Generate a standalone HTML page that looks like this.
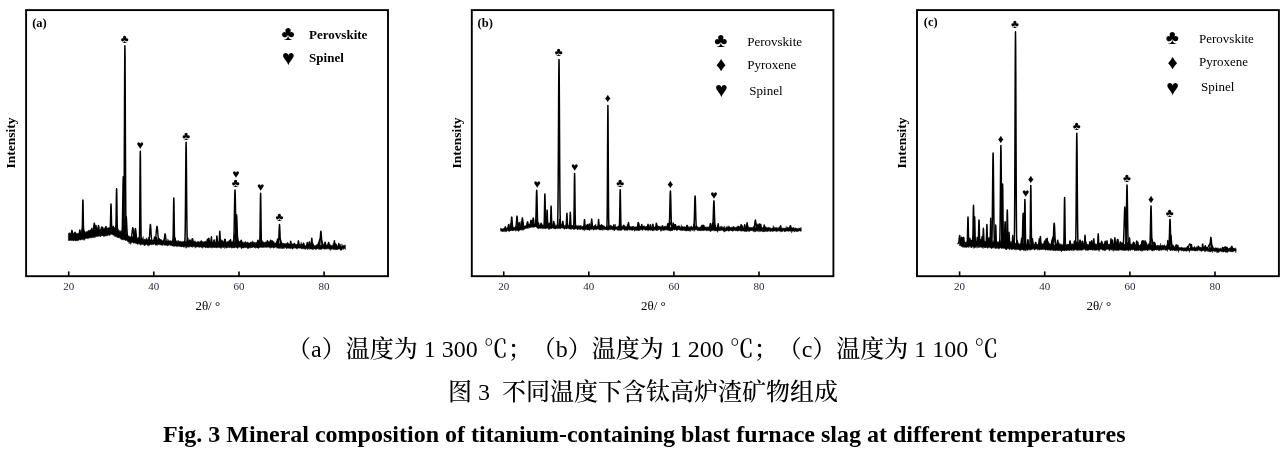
<!DOCTYPE html>
<html><head><meta charset="utf-8"><title>Fig. 3</title>
<style>
html,body{margin:0;padding:0;background:#fff;}
body{width:1287px;height:454px;position:relative;overflow:hidden;}
svg.main{position:absolute;left:0;top:0;}
svg text{font-family:"Liberation Serif","Noto Serif CJK SC",serif;}
.tick{font-size:11px;text-anchor:middle;fill:#2a2a3a;}
.plab{font-size:12.5px;font-weight:bold;}
.xt{font-size:13px;text-anchor:middle;}
.yt{font-size:13.5px;font-weight:bold;text-anchor:middle;}
.sym{text-anchor:middle;}
.lgb{font-size:13px;font-weight:bold;}
.lg{font-size:13px;}
.cap{text-spacing-trim:space-all;font-kerning:none;position:absolute;white-space:nowrap;font-family:"Liberation Serif","Noto Serif CJK SC",serif;color:#000;line-height:1;}
</style></head><body>
<svg class="main" width="1287" height="454" viewBox="0 0 1287 454">
<rect x="26.1" y="10.1" width="361.9" height="266.1" fill="none" stroke="#000" stroke-width="1.9"/>
<line x1="68.7" y1="276.2" x2="68.7" y2="271.4" stroke="#000" stroke-width="1.6"/>
<text x="68.7" y="290" class="tick">20</text>
<line x1="153.8" y1="276.2" x2="153.8" y2="271.4" stroke="#000" stroke-width="1.6"/>
<text x="153.8" y="290" class="tick">40</text>
<line x1="239.0" y1="276.2" x2="239.0" y2="271.4" stroke="#000" stroke-width="1.6"/>
<text x="239.0" y="290" class="tick">60</text>
<line x1="324.1" y1="276.2" x2="324.1" y2="271.4" stroke="#000" stroke-width="1.6"/>
<text x="324.1" y="290" class="tick">80</text>
<rect x="471.8" y="10.1" width="361.6" height="266.1" fill="none" stroke="#000" stroke-width="1.9"/>
<line x1="503.7" y1="276.2" x2="503.7" y2="271.4" stroke="#000" stroke-width="1.6"/>
<text x="503.7" y="290" class="tick">20</text>
<line x1="588.8" y1="276.2" x2="588.8" y2="271.4" stroke="#000" stroke-width="1.6"/>
<text x="588.8" y="290" class="tick">40</text>
<line x1="673.9" y1="276.2" x2="673.9" y2="271.4" stroke="#000" stroke-width="1.6"/>
<text x="673.9" y="290" class="tick">60</text>
<line x1="759.0" y1="276.2" x2="759.0" y2="271.4" stroke="#000" stroke-width="1.6"/>
<text x="759.0" y="290" class="tick">80</text>
<rect x="917.0" y="10.1" width="361.9" height="266.1" fill="none" stroke="#000" stroke-width="1.9"/>
<line x1="959.6" y1="276.2" x2="959.6" y2="271.4" stroke="#000" stroke-width="1.6"/>
<text x="959.6" y="290" class="tick">20</text>
<line x1="1044.7" y1="276.2" x2="1044.7" y2="271.4" stroke="#000" stroke-width="1.6"/>
<text x="1044.7" y="290" class="tick">40</text>
<line x1="1129.9" y1="276.2" x2="1129.9" y2="271.4" stroke="#000" stroke-width="1.6"/>
<text x="1129.9" y="290" class="tick">60</text>
<line x1="1215.0" y1="276.2" x2="1215.0" y2="271.4" stroke="#000" stroke-width="1.6"/>
<text x="1215.0" y="290" class="tick">80</text>
<polygon points="68.3,233.5 68.7,233.5 69.1,232.6 69.5,232.8 69.9,233.5 70.3,233.5 70.7,232.8 71.1,233.7 71.5,233.6 71.9,233.0 72.3,233.2 72.7,233.1 73.1,233.3 73.5,232.7 73.9,233.3 74.3,233.2 74.7,233.1 75.1,232.7 75.5,233.8 75.9,233.8 76.3,232.9 76.7,233.6 77.1,233.9 77.5,232.9 77.9,233.8 78.3,233.7 78.7,233.1 79.1,233.2 79.5,232.2 79.9,232.6 80.3,233.0 80.7,231.7 81.1,232.6 81.5,231.9 81.9,232.7 82.3,232.4 82.7,232.7 83.1,232.2 83.5,232.2 83.9,232.7 84.3,231.6 84.7,231.6 85.1,232.6 85.5,232.3 85.9,231.4 86.3,232.3 86.7,231.2 87.1,231.8 87.5,231.9 87.9,230.6 88.3,230.4 88.7,230.7 89.1,229.9 89.5,231.2 89.9,230.6 90.3,231.3 90.7,230.4 91.1,230.4 91.5,230.3 91.9,231.1 92.3,230.7 92.7,230.4 93.1,230.1 93.5,230.9 93.9,230.1 94.3,229.7 94.7,229.8 95.1,230.0 95.5,230.0 95.9,229.2 96.3,230.2 96.7,229.7 97.1,228.9 97.5,229.1 97.9,229.9 98.3,228.7 98.7,227.0 99.1,229.4 99.5,229.5 99.9,229.9 100.3,229.4 100.7,228.7 101.1,229.8 101.5,229.4 101.9,228.7 102.3,228.1 102.7,229.0 103.1,228.7 103.5,229.1 103.9,227.9 104.3,228.4 104.7,228.4 105.1,227.1 105.5,229.0 105.9,226.4 106.3,227.7 106.7,227.9 107.1,228.5 107.5,228.1 107.9,227.6 108.3,228.3 108.7,227.4 109.1,228.1 109.5,228.1 109.9,227.1 110.3,227.8 110.7,227.8 111.1,227.1 111.5,227.9 111.9,228.0 112.3,227.7 112.7,227.3 113.1,228.1 113.5,227.6 113.9,228.0 114.3,228.7 114.7,227.0 115.1,228.5 115.5,229.4 115.9,229.4 116.3,229.6 116.7,230.6 117.1,231.0 117.5,231.2 117.9,230.7 118.3,231.3 118.7,231.6 119.1,230.8 119.5,230.4 119.9,231.9 120.3,230.5 120.7,231.8 121.1,232.3 121.5,232.1 121.9,232.7 122.3,232.4 122.7,232.9 123.1,232.8 123.5,233.3 123.9,233.2 124.3,233.7 124.7,234.0 125.1,233.8 125.5,234.9 125.9,234.9 126.3,234.5 126.7,234.2 127.1,235.4 127.5,234.8 127.9,235.2 128.3,235.6 128.7,236.6 129.1,235.9 129.5,236.3 129.9,236.9 130.3,237.1 130.7,236.5 131.1,237.0 131.5,236.9 131.9,237.0 132.3,236.3 132.7,236.5 133.1,237.5 133.5,237.4 133.9,236.8 134.3,237.6 134.7,237.7 135.1,237.3 135.5,237.8 135.9,237.8 136.3,237.8 136.7,238.3 137.1,237.8 137.5,238.5 137.9,237.8 138.3,237.7 138.7,237.1 139.1,238.0 139.5,237.6 139.9,238.8 140.3,237.9 140.7,238.1 141.1,239.0 141.5,238.3 141.9,238.9 142.3,238.7 142.7,238.3 143.1,236.4 143.5,239.0 143.9,239.8 144.3,239.0 144.7,239.3 145.1,239.4 145.5,239.0 145.9,239.3 146.3,238.7 146.7,237.8 147.1,239.7 147.5,239.5 147.9,239.5 148.3,237.1 148.7,238.9 149.1,239.4 149.5,240.0 149.9,239.5 150.3,239.5 150.7,240.1 151.1,240.1 151.5,240.3 151.9,240.4 152.3,240.1 152.7,239.7 153.1,240.1 153.5,239.7 153.9,240.2 154.3,239.4 154.7,239.8 155.1,240.3 155.5,239.9 155.9,240.3 156.3,239.6 156.7,239.8 157.1,240.8 157.5,240.5 157.9,239.9 158.3,240.3 158.7,240.8 159.1,240.7 159.5,240.8 159.9,240.3 160.3,240.1 160.7,240.6 161.1,240.8 161.5,240.7 161.9,240.2 162.3,240.4 162.7,241.1 163.1,240.4 163.5,241.0 163.9,239.2 164.3,241.4 164.7,240.4 165.1,240.8 165.5,241.3 165.9,240.4 166.3,240.4 166.7,241.5 167.1,241.3 167.5,240.8 167.9,238.8 168.3,240.9 168.7,240.3 169.1,240.3 169.5,241.2 169.9,240.7 170.3,240.7 170.7,240.4 171.1,240.7 171.5,241.4 171.9,240.7 172.3,240.5 172.7,239.0 173.1,240.7 173.5,241.1 173.9,241.5 174.3,239.5 174.7,240.9 175.1,241.1 175.5,241.0 175.9,240.7 176.3,240.6 176.7,241.4 177.1,241.7 177.5,240.5 177.9,241.7 178.3,240.2 178.7,241.1 179.1,241.7 179.5,241.3 179.9,241.1 180.3,241.1 180.7,241.4 181.1,241.7 181.5,241.2 181.9,241.7 182.3,241.4 182.7,241.8 183.1,242.1 183.5,241.1 183.9,241.4 184.3,241.1 184.7,240.6 185.1,241.4 185.5,241.4 185.9,242.1 186.3,241.6 186.7,241.4 187.1,240.4 187.5,240.0 187.9,241.4 188.3,242.0 188.7,241.1 189.1,240.2 189.5,241.9 189.9,240.9 190.3,240.9 190.7,241.6 191.1,240.8 191.5,241.8 191.9,241.2 192.3,240.9 192.7,241.4 193.1,241.3 193.5,241.8 193.9,241.5 194.3,241.2 194.7,241.3 195.1,240.6 195.5,242.2 195.9,241.6 196.3,242.3 196.7,241.9 197.1,242.2 197.5,241.4 197.9,241.5 198.3,241.6 198.7,241.3 199.1,242.2 199.5,242.0 199.9,241.5 200.3,241.7 200.7,241.7 201.1,241.5 201.5,241.2 201.9,241.2 202.3,241.9 202.7,241.2 203.1,241.8 203.5,242.0 203.9,241.7 204.3,241.8 204.7,241.4 205.1,241.2 205.5,241.1 205.9,241.4 206.3,241.4 206.7,241.9 207.1,241.6 207.5,241.4 207.9,241.5 208.3,241.8 208.7,241.6 209.1,242.0 209.5,241.3 209.9,241.8 210.3,241.4 210.7,242.3 211.1,242.4 211.5,242.1 211.9,242.1 212.3,242.1 212.7,242.4 213.1,241.4 213.5,241.1 213.9,242.0 214.3,242.4 214.7,239.5 215.1,241.9 215.5,242.0 215.9,241.9 216.3,242.2 216.7,241.6 217.1,241.8 217.5,240.6 217.9,242.4 218.3,242.1 218.7,242.1 219.1,242.5 219.5,241.6 219.9,242.2 220.3,241.4 220.7,241.4 221.1,242.2 221.5,242.1 221.9,240.3 222.3,241.7 222.7,242.0 223.1,242.3 223.5,240.7 223.9,242.0 224.3,241.5 224.7,242.2 225.1,241.3 225.5,242.4 225.9,241.7 226.3,242.7 226.7,241.7 227.1,241.8 227.5,241.6 227.9,241.7 228.3,241.2 228.7,241.2 229.1,241.9 229.5,242.3 229.9,241.3 230.3,241.8 230.7,241.9 231.1,241.5 231.5,242.2 231.9,241.8 232.3,242.3 232.7,242.1 233.1,241.6 233.5,242.3 233.9,240.5 234.3,242.5 234.7,242.2 235.1,241.5 235.5,240.7 235.9,241.4 236.3,241.8 236.7,242.2 237.1,242.4 237.5,241.4 237.9,242.1 238.3,242.5 238.7,241.4 239.1,241.2 239.5,241.6 239.9,241.6 240.3,241.6 240.7,242.0 241.1,242.4 241.5,242.7 241.9,241.7 242.3,242.1 242.7,242.3 243.1,241.7 243.5,243.0 243.9,242.6 244.3,242.4 244.7,242.2 245.1,241.5 245.5,241.3 245.9,242.2 246.3,242.7 246.7,242.6 247.1,241.8 247.5,242.0 247.9,242.6 248.3,242.7 248.7,242.8 249.1,243.0 249.5,242.9 249.9,243.0 250.3,242.0 250.7,242.1 251.1,242.8 251.5,242.5 251.9,241.6 252.3,240.7 252.7,242.2 253.1,241.7 253.5,241.9 253.9,242.3 254.3,242.4 254.7,242.3 255.1,242.7 255.5,242.3 255.9,243.0 256.3,242.9 256.7,242.0 257.1,242.2 257.5,243.2 257.9,243.0 258.3,243.5 258.7,242.7 259.1,242.1 259.5,241.8 259.9,242.7 260.3,241.8 260.7,242.5 261.1,242.5 261.5,242.9 261.9,241.2 262.3,241.9 262.7,242.3 263.1,242.6 263.5,241.8 263.9,241.8 264.3,242.0 264.7,242.9 265.1,242.6 265.5,242.1 265.9,241.5 266.3,242.6 266.7,242.3 267.1,242.4 267.5,242.1 267.9,242.5 268.3,242.4 268.7,243.0 269.1,242.4 269.5,243.0 269.9,243.2 270.3,243.0 270.7,242.7 271.1,242.8 271.5,242.9 271.9,242.3 272.3,243.3 272.7,242.4 273.1,243.3 273.5,242.7 273.9,241.3 274.3,243.4 274.7,243.3 275.1,243.1 275.5,242.9 275.9,242.9 276.3,242.9 276.7,242.2 277.1,243.0 277.5,242.4 277.9,242.7 278.3,242.8 278.7,242.7 279.1,243.4 279.5,243.8 279.9,244.2 280.3,242.8 280.7,244.1 281.1,243.5 281.5,243.9 281.9,244.1 282.3,243.1 282.7,243.5 283.1,243.2 283.5,243.6 283.9,243.2 284.3,243.9 284.7,243.3 285.1,242.9 285.5,244.1 285.9,243.7 286.3,243.3 286.7,243.8 287.1,243.9 287.5,243.2 287.9,243.4 288.3,243.7 288.7,243.9 289.1,244.0 289.5,243.9 289.9,243.8 290.3,244.1 290.7,243.9 291.1,244.3 291.5,244.4 291.9,243.6 292.3,243.7 292.7,243.8 293.1,244.3 293.5,244.1 293.9,244.3 294.3,244.1 294.7,244.2 295.1,244.0 295.5,244.2 295.9,244.8 296.3,244.6 296.7,244.3 297.1,244.1 297.5,243.8 297.9,245.0 298.3,244.4 298.7,243.8 299.1,244.6 299.5,244.0 299.9,243.7 300.3,244.6 300.7,244.5 301.1,241.8 301.5,244.1 301.9,243.7 302.3,243.8 302.7,244.3 303.1,244.1 303.5,243.9 303.9,244.9 304.3,245.3 304.7,245.0 305.1,245.4 305.5,245.7 305.9,245.3 306.3,245.0 306.7,244.6 307.1,244.7 307.5,244.5 307.9,244.2 308.3,244.7 308.7,244.1 309.1,244.9 309.5,244.9 309.9,244.6 310.3,244.2 310.7,244.7 311.1,244.8 311.5,245.3 311.9,245.2 312.3,245.4 312.7,244.8 313.1,243.4 313.5,244.2 313.9,245.0 314.3,245.6 314.7,245.8 315.1,245.9 315.5,245.0 315.9,246.2 316.3,245.2 316.7,244.5 317.1,244.5 317.5,244.5 317.9,245.0 318.3,245.1 318.7,245.5 319.1,245.2 319.5,245.2 319.9,244.9 320.3,245.7 320.7,244.8 321.1,245.5 321.5,244.7 321.9,244.5 322.3,245.3 322.7,245.2 323.1,245.1 323.5,244.6 323.9,245.1 324.3,244.1 324.7,244.7 325.1,244.7 325.5,244.4 325.9,245.6 326.3,244.7 326.7,245.0 327.1,244.7 327.5,245.3 327.9,245.1 328.3,245.4 328.7,242.3 329.1,244.6 329.5,245.1 329.9,245.5 330.3,244.4 330.7,245.1 331.1,245.7 331.5,245.5 331.9,245.5 332.3,245.3 332.7,245.5 333.1,243.4 333.5,245.0 333.9,245.2 334.3,243.3 334.7,245.6 335.1,245.8 335.5,245.0 335.9,245.6 336.3,245.6 336.7,245.9 337.1,245.1 337.5,246.3 337.9,246.2 338.3,245.7 338.7,245.9 339.1,245.9 339.5,245.8 339.9,245.2 340.3,244.1 340.7,245.6 341.1,246.6 341.5,246.6 341.9,243.7 342.3,245.6 342.7,245.6 343.1,246.2 343.5,245.0 343.9,245.6 344.3,245.5 344.7,245.6 345.1,244.7 345.5,245.5 345.5,249.5 345.1,249.2 344.7,248.5 344.3,248.6 343.9,249.1 343.5,249.6 343.1,248.6 342.7,248.6 342.3,249.5 341.9,249.9 341.5,250.3 341.1,249.8 340.7,250.5 340.3,249.9 339.9,249.1 339.5,249.1 339.1,249.1 338.7,249.2 338.3,248.9 337.9,249.4 337.5,250.0 337.1,248.9 336.7,249.7 336.3,249.0 335.9,250.2 335.5,248.7 335.1,249.5 334.7,248.8 334.3,249.9 333.9,249.7 333.5,249.5 333.1,249.0 332.7,248.7 332.3,249.4 331.9,249.6 331.5,249.3 331.1,249.4 330.7,249.1 330.3,250.7 329.9,249.6 329.5,249.3 329.1,248.7 328.7,249.2 328.3,248.6 327.9,248.3 327.5,249.2 327.1,248.5 326.7,249.3 326.3,248.8 325.9,249.0 325.5,249.1 325.1,248.7 324.7,249.4 324.3,248.9 323.9,249.3 323.5,248.4 323.1,248.8 322.7,248.8 322.3,248.7 321.9,249.0 321.5,249.6 321.1,248.6 320.7,249.7 320.3,249.3 319.9,248.7 319.5,249.7 319.1,249.3 318.7,249.4 318.3,248.4 317.9,249.2 317.5,248.4 317.1,248.6 316.7,248.9 316.3,249.1 315.9,250.1 315.5,249.3 315.1,248.8 314.7,249.1 314.3,249.0 313.9,248.6 313.5,249.1 313.1,250.1 312.7,249.4 312.3,249.2 311.9,248.8 311.5,249.2 311.1,249.2 310.7,249.0 310.3,248.9 309.9,249.3 309.5,249.3 309.1,248.3 308.7,248.5 308.3,248.3 307.9,249.9 307.5,249.0 307.1,248.8 306.7,248.8 306.3,248.4 305.9,248.8 305.5,249.6 305.1,248.9 304.7,248.2 304.3,249.3 303.9,249.2 303.5,248.7 303.1,248.3 302.7,248.7 302.3,248.9 301.9,248.8 301.5,249.0 301.1,248.3 300.7,248.4 300.3,247.8 299.9,247.9 299.5,248.2 299.1,248.4 298.7,248.1 298.3,248.0 297.9,248.2 297.5,248.8 297.1,248.9 296.7,249.2 296.3,248.2 295.9,248.0 295.5,248.2 295.1,248.3 294.7,247.5 294.3,248.3 293.9,248.2 293.5,248.1 293.1,248.8 292.7,249.2 292.3,249.0 291.9,249.1 291.5,247.8 291.1,247.8 290.7,248.5 290.3,248.9 289.9,248.3 289.5,248.2 289.1,248.4 288.7,248.6 288.3,248.1 287.9,247.9 287.5,247.9 287.1,248.6 286.7,249.0 286.3,248.7 285.9,247.8 285.5,247.8 285.1,247.4 284.7,247.2 284.3,248.5 283.9,248.4 283.5,247.9 283.1,248.7 282.7,248.0 282.3,248.7 281.9,248.0 281.5,248.7 281.1,247.6 280.7,247.6 280.3,248.7 279.9,248.0 279.5,248.1 279.1,248.7 278.7,247.9 278.3,248.4 277.9,247.9 277.5,248.1 277.1,248.0 276.7,248.3 276.3,246.7 275.9,247.1 275.5,247.1 275.1,247.7 274.7,247.2 274.3,247.7 273.9,248.3 273.5,247.9 273.1,248.0 272.7,247.4 272.3,247.1 271.9,247.4 271.5,247.9 271.1,247.3 270.7,247.7 270.3,248.5 269.9,247.5 269.5,247.6 269.1,247.2 268.7,247.5 268.3,247.0 267.9,247.2 267.5,247.3 267.1,247.3 266.7,247.0 266.3,247.7 265.9,247.3 265.5,247.2 265.1,247.6 264.7,246.8 264.3,246.9 263.9,247.9 263.5,246.9 263.1,247.4 262.7,247.2 262.3,247.7 261.9,247.1 261.5,247.2 261.1,248.0 260.7,247.6 260.3,247.1 259.9,247.4 259.5,247.6 259.1,247.5 258.7,248.5 258.3,248.2 257.9,247.9 257.5,248.0 257.1,247.9 256.7,247.0 256.3,248.1 255.9,247.1 255.5,248.4 255.1,247.0 254.7,247.7 254.3,247.7 253.9,247.0 253.5,247.0 253.1,247.4 252.7,247.8 252.3,247.2 251.9,247.8 251.5,247.5 251.1,247.8 250.7,247.3 250.3,248.2 249.9,248.2 249.5,247.2 249.1,247.9 248.7,248.1 248.3,248.7 247.9,248.0 247.5,248.7 247.1,247.8 246.7,247.5 246.3,247.8 245.9,246.9 245.5,247.8 245.1,247.2 244.7,248.1 244.3,247.5 243.9,247.7 243.5,248.2 243.1,248.0 242.7,248.0 242.3,247.7 241.9,248.1 241.5,249.1 241.1,248.3 240.7,247.7 240.3,246.8 239.9,247.2 239.5,247.2 239.1,247.2 238.7,247.3 238.3,247.4 237.9,248.4 237.5,248.2 237.1,248.3 236.7,247.6 236.3,248.1 235.9,247.5 235.5,247.3 235.1,247.6 234.7,247.9 234.3,247.5 233.9,248.1 233.5,247.7 233.1,247.9 232.7,248.1 232.3,247.6 231.9,248.2 231.5,248.1 231.1,247.6 230.7,247.3 230.3,247.2 229.9,248.0 229.5,247.7 229.1,246.7 228.7,247.8 228.3,246.7 227.9,246.9 227.5,247.9 227.1,247.8 226.7,248.1 226.3,248.2 225.9,247.5 225.5,247.2 225.1,247.9 224.7,248.7 224.3,246.6 223.9,247.0 223.5,247.5 223.1,247.9 222.7,246.9 222.3,247.4 221.9,246.9 221.5,248.5 221.1,247.0 220.7,248.2 220.3,248.3 219.9,247.8 219.5,247.6 219.1,247.4 218.7,247.0 218.3,247.7 217.9,247.9 217.5,247.1 217.1,247.6 216.7,247.4 216.3,248.2 215.9,247.5 215.5,247.5 215.1,247.6 214.7,247.4 214.3,247.9 213.9,246.9 213.5,247.6 213.1,247.0 212.7,248.1 212.3,247.2 211.9,247.3 211.5,248.3 211.1,247.0 210.7,247.5 210.3,247.6 209.9,247.3 209.5,247.7 209.1,247.4 208.7,247.7 208.3,247.9 207.9,248.0 207.5,247.9 207.1,247.2 206.7,247.4 206.3,247.0 205.9,248.0 205.5,247.9 205.1,247.2 204.7,247.0 204.3,247.2 203.9,247.2 203.5,247.1 203.1,246.8 202.7,247.7 202.3,248.4 201.9,247.4 201.5,247.3 201.1,247.6 200.7,246.8 200.3,247.2 199.9,246.7 199.5,247.4 199.1,247.5 198.7,246.9 198.3,247.0 197.9,247.2 197.5,246.7 197.1,247.1 196.7,246.7 196.3,247.5 195.9,246.6 195.5,247.2 195.1,248.3 194.7,246.5 194.3,246.7 193.9,246.1 193.5,246.7 193.1,246.9 192.7,247.5 192.3,246.6 191.9,246.9 191.5,246.9 191.1,247.1 190.7,246.6 190.3,246.8 189.9,246.1 189.5,247.4 189.1,246.7 188.7,246.8 188.3,247.4 187.9,246.6 187.5,247.3 187.1,247.0 186.7,246.9 186.3,248.1 185.9,248.4 185.5,246.1 185.1,246.1 184.7,247.5 184.3,246.2 183.9,247.1 183.5,247.2 183.1,247.1 182.7,246.9 182.3,245.9 181.9,246.8 181.5,246.9 181.1,246.7 180.7,247.1 180.3,246.7 179.9,245.9 179.5,246.3 179.1,246.7 178.7,245.6 178.3,246.5 177.9,246.0 177.5,246.7 177.1,246.6 176.7,246.7 176.3,246.1 175.9,246.3 175.5,246.0 175.1,245.9 174.7,245.7 174.3,246.4 173.9,246.9 173.5,245.4 173.1,246.1 172.7,246.0 172.3,245.9 171.9,245.5 171.5,246.1 171.1,244.9 170.7,245.7 170.3,245.2 169.9,245.1 169.5,245.0 169.1,245.4 168.7,245.5 168.3,245.0 167.9,245.1 167.5,245.9 167.1,245.9 166.7,244.8 166.3,245.6 165.9,245.5 165.5,245.0 165.1,245.3 164.7,244.8 164.3,245.6 163.9,245.1 163.5,244.4 163.1,244.5 162.7,245.7 162.3,244.4 161.9,245.3 161.5,244.9 161.1,245.3 160.7,245.1 160.3,244.7 159.9,244.6 159.5,244.8 159.1,244.7 158.7,244.4 158.3,244.7 157.9,244.4 157.5,244.3 157.1,245.8 156.7,245.0 156.3,244.8 155.9,245.3 155.5,245.0 155.1,244.7 154.7,244.2 154.3,244.1 153.9,244.4 153.5,244.5 153.1,244.7 152.7,244.5 152.3,244.6 151.9,245.1 151.5,244.3 151.1,245.1 150.7,244.1 150.3,244.7 149.9,245.2 149.5,245.0 149.1,245.3 148.7,244.8 148.3,246.3 147.9,245.2 147.5,245.2 147.1,245.3 146.7,244.3 146.3,244.5 145.9,244.6 145.5,245.3 145.1,245.2 144.7,245.6 144.3,246.0 143.9,244.6 143.5,245.0 143.1,244.0 142.7,245.0 142.3,243.7 141.9,244.2 141.5,244.2 141.1,244.7 140.7,245.5 140.3,244.0 139.9,244.6 139.5,244.2 139.1,243.5 138.7,243.0 138.3,244.4 137.9,244.5 137.5,244.3 137.1,244.2 136.7,243.3 136.3,243.9 135.9,243.4 135.5,243.2 135.1,243.2 134.7,242.6 134.3,243.1 133.9,243.5 133.5,243.0 133.1,242.8 132.7,242.6 132.3,242.3 131.9,242.5 131.5,243.2 131.1,242.3 130.7,244.6 130.3,242.7 129.9,242.5 129.5,242.3 129.1,243.9 128.7,242.1 128.3,242.0 127.9,240.9 127.5,241.5 127.1,240.7 126.7,240.4 126.3,240.3 125.9,240.5 125.5,240.9 125.1,240.0 124.7,239.7 124.3,240.1 123.9,240.2 123.5,239.6 123.1,239.8 122.7,239.7 122.3,240.0 121.9,239.5 121.5,239.0 121.1,239.6 120.7,239.0 120.3,238.6 119.9,238.0 119.5,237.8 119.1,237.7 118.7,238.0 118.3,237.6 117.9,237.9 117.5,237.2 117.1,237.4 116.7,237.3 116.3,236.1 115.9,236.4 115.5,237.1 115.1,236.1 114.7,236.5 114.3,235.5 113.9,235.5 113.5,235.1 113.1,235.5 112.7,234.2 112.3,234.8 111.9,234.4 111.5,234.1 111.1,234.5 110.7,234.5 110.3,234.8 109.9,235.5 109.5,234.9 109.1,235.6 108.7,234.6 108.3,234.9 107.9,235.8 107.5,235.6 107.1,235.3 106.7,236.2 106.3,235.5 105.9,235.6 105.5,235.8 105.1,236.5 104.7,236.2 104.3,236.2 103.9,236.4 103.5,236.3 103.1,236.2 102.7,235.5 102.3,235.8 101.9,235.9 101.5,235.6 101.1,236.3 100.7,236.3 100.3,237.0 99.9,236.3 99.5,236.0 99.1,236.1 98.7,236.6 98.3,236.2 97.9,235.9 97.5,236.5 97.1,236.8 96.7,236.4 96.3,236.5 95.9,237.3 95.5,237.2 95.1,236.3 94.7,236.7 94.3,237.7 93.9,237.5 93.5,236.9 93.1,238.1 92.7,237.6 92.3,237.1 91.9,238.2 91.5,237.5 91.1,237.7 90.7,238.2 90.3,237.4 89.9,237.9 89.5,237.8 89.1,238.3 88.7,237.7 88.3,238.7 87.9,238.6 87.5,238.7 87.1,238.1 86.7,238.8 86.3,238.3 85.9,238.6 85.5,238.8 85.1,239.1 84.7,239.7 84.3,240.0 83.9,240.5 83.5,239.0 83.1,239.7 82.7,239.4 82.3,239.6 81.9,239.3 81.5,239.7 81.1,240.0 80.7,239.9 80.3,240.3 79.9,239.9 79.5,240.0 79.1,239.6 78.7,240.4 78.3,240.3 77.9,240.8 77.5,240.1 77.1,241.2 76.7,240.6 76.3,240.6 75.9,241.2 75.5,240.5 75.1,241.0 74.7,239.7 74.3,240.6 73.9,240.9 73.5,240.8 73.1,241.1 72.7,240.3 72.3,240.5 71.9,240.7 71.5,240.5 71.1,240.5 70.7,239.8 70.3,240.8 69.9,240.1 69.5,240.9 69.1,239.7 68.7,240.6 68.3,240.5" fill="#000" stroke="#000" stroke-width="0.4" stroke-linejoin="round"/>
<polyline points="81.24,236.1 81.39,236.1 81.54,236.0 81.69,236.0 81.84,235.7 81.99,235.0 82.14,233.0 82.29,228.8 82.44,221.6 82.59,212.3 82.74,203.9 82.89,200.1 82.90,200.1 83.04,203.0 83.19,211.0 83.34,220.3 83.49,227.8 83.64,232.4 83.79,234.5 83.94,235.3 84.09,235.6 84.24,235.6 84.39,235.6 84.54,235.6" fill="none" stroke="#000" stroke-width="1.5" stroke-linejoin="round" stroke-linecap="butt"/>
<polyline points="91.60,234.2 91.75,234.1 91.90,234.1 92.05,234.1 92.20,234.0 92.35,234.0 92.50,233.9 92.65,233.7 92.80,233.5 92.95,233.1 93.10,232.5 93.25,231.6 93.40,230.4 93.55,229.0 93.70,227.4 93.85,225.8 94.00,224.5 94.15,223.6 94.30,223.2 94.45,223.5 94.60,224.4 94.75,225.7 94.90,227.2 95.05,228.7 95.20,230.1 95.35,231.2 95.50,232.0 95.65,232.6 95.80,232.9 95.95,233.1 96.10,233.2 96.25,233.3 96.40,233.3 96.55,233.3 96.70,233.3 96.85,233.2 97.00,233.2" fill="none" stroke="#000" stroke-width="1.4" stroke-linejoin="round" stroke-linecap="butt"/>
<polyline points="109.34,231.4 109.49,231.4 109.64,231.4 109.79,231.3 109.94,231.1 110.09,230.5 110.24,229.0 110.39,225.8 110.54,220.4 110.69,213.3 110.84,206.9 110.99,204.0 111.00,204.0 111.14,206.2 111.29,212.2 111.44,219.3 111.59,225.0 111.74,228.5 111.89,230.1 112.04,230.8 112.19,231.0 112.34,231.2 112.49,231.3 112.64,231.4" fill="none" stroke="#000" stroke-width="1.5" stroke-linejoin="round" stroke-linecap="butt"/>
<polyline points="114.94,232.7 115.09,232.7 115.24,232.8 115.39,232.8 115.54,232.7 115.69,231.8 115.84,229.5 115.99,224.3 116.14,215.4 116.29,203.8 116.44,193.3 116.59,188.7 116.60,188.7 116.74,192.4 116.89,202.6 117.04,214.4 117.19,224.0 117.34,229.8 117.49,232.7 117.64,233.8 117.79,234.2 117.94,234.3 118.09,234.4 118.24,234.5" fill="none" stroke="#000" stroke-width="1.5" stroke-linejoin="round" stroke-linecap="butt"/>
<polyline points="121.00,235.6 121.15,235.7 121.30,235.7 121.45,235.7 121.60,235.7 121.75,235.4 121.90,234.8 122.05,233.4 122.20,230.8 122.35,226.3 122.50,219.6 122.65,210.6 122.80,200.0 122.95,189.6 123.10,181.2 123.25,177.0 123.30,176.7 123.40,177.9 123.55,183.8 123.70,193.3 123.85,204.1 124.00,214.4 124.15,222.8 124.30,228.9 124.45,232.8 124.60,235.1 124.75,236.3 124.90,236.9 125.05,237.2 125.20,237.4 125.35,237.5 125.50,237.5" fill="none" stroke="#000" stroke-width="1.5" stroke-linejoin="round" stroke-linecap="butt"/>
<polyline points="122.80,236.3 122.95,236.4 123.10,236.4 123.25,236.3 123.40,235.9 123.55,234.5 123.70,231.3 123.85,224.2 124.00,210.9 124.15,189.2 124.30,158.2 124.45,120.9 124.60,83.7 124.75,56.0 124.90,45.7 125.05,56.1 125.20,84.0 125.35,121.3 125.50,158.8 125.65,189.8 125.80,211.7 125.95,225.1 126.10,232.3 126.25,235.7 126.40,237.2 126.55,237.8 126.70,238.0 126.85,238.1 127.00,238.2" fill="none" stroke="#000" stroke-width="1.5" stroke-linejoin="round" stroke-linecap="butt"/>
<polyline points="123.50,236.7 123.65,236.7 123.80,236.8 123.95,236.8 124.10,236.9 124.25,236.9 124.40,236.8 124.55,236.6 124.70,236.3 124.85,235.6 125.00,234.5 125.15,232.8 125.30,230.6 125.45,227.8 125.60,224.8 125.75,221.7 125.90,219.1 126.05,217.3 126.20,216.7 126.35,217.4 126.50,219.3 126.65,222.1 126.80,225.3 126.95,228.5 127.10,231.4 127.25,233.7 127.40,235.5 127.55,236.7 127.70,237.6 127.85,238.1 128.00,238.4 128.15,238.6 128.30,238.7 128.45,238.8 128.60,238.9 128.75,239.0 128.90,239.0" fill="none" stroke="#000" stroke-width="1.4" stroke-linejoin="round" stroke-linecap="butt"/>
<polyline points="129.70,239.4 129.85,239.4 130.00,239.5 130.15,239.5 130.30,239.5 130.45,239.5 130.60,239.5 130.75,239.5 130.90,239.3 131.05,239.1 131.20,238.8 131.35,238.3 131.50,237.5 131.65,236.6 131.80,235.3 131.95,233.9 132.10,232.3 132.25,230.8 132.40,229.4 132.55,228.3 132.70,227.7 132.80,227.6 132.85,227.6 133.00,228.1 133.15,229.1 133.30,230.5 133.45,232.0 133.60,233.7 133.75,235.2 133.90,236.6 134.05,237.7 134.20,238.5 134.35,239.2 134.50,239.6 134.65,239.9 134.80,240.1 134.95,240.2 135.10,240.3 135.25,240.3 135.40,240.4 135.55,240.4 135.70,240.4 135.85,240.5" fill="none" stroke="#000" stroke-width="1.4" stroke-linejoin="round" stroke-linecap="butt"/>
<polyline points="132.30,239.9 132.45,239.9 132.60,239.9 132.75,239.9 132.90,240.0 133.05,240.0 133.20,239.9 133.35,239.9 133.50,239.8 133.65,239.6 133.80,239.3 133.95,238.8 134.10,238.1 134.25,237.1 134.40,235.9 134.55,234.6 134.70,233.1 134.85,231.6 135.00,230.2 135.15,229.2 135.30,228.6 135.40,228.5 135.45,228.5 135.60,229.0 135.75,230.0 135.90,231.3 136.05,232.8 136.20,234.3 136.35,235.8 136.50,237.1 136.65,238.2 136.80,239.0 136.95,239.6 137.10,240.1 137.25,240.3 137.40,240.5 137.55,240.7 137.70,240.7 137.85,240.8 138.00,240.8 138.15,240.9 138.30,240.9 138.45,240.9" fill="none" stroke="#000" stroke-width="1.4" stroke-linejoin="round" stroke-linecap="butt"/>
<polyline points="138.64,240.9 138.79,241.0 138.94,241.0 139.09,240.9 139.24,240.3 139.39,238.6 139.54,233.7 139.69,223.1 139.84,205.1 139.99,181.8 140.14,160.7 140.29,151.3 140.30,151.3 140.44,158.6 140.59,178.8 140.74,202.4 140.89,221.4 141.04,232.9 141.19,238.4 141.34,240.6 141.49,241.2 141.64,241.4 141.79,241.5 141.94,241.5" fill="none" stroke="#000" stroke-width="1.5" stroke-linejoin="round" stroke-linecap="butt"/>
<polyline points="147.70,242.1 147.85,242.1 148.00,242.2 148.15,242.2 148.30,242.1 148.45,242.1 148.60,242.0 148.75,241.8 148.90,241.4 149.05,240.8 149.20,239.8 149.35,238.4 149.50,236.5 149.65,234.1 149.80,231.5 149.95,228.8 150.10,226.6 150.25,225.0 150.40,224.5 150.55,225.1 150.70,226.6 150.85,228.9 151.00,231.5 151.15,234.2 151.30,236.6 151.45,238.5 151.60,239.9 151.75,240.9 151.90,241.6 152.05,242.0 152.20,242.2 152.35,242.3 152.50,242.4 152.65,242.4 152.80,242.4 152.95,242.4 153.10,242.4" fill="none" stroke="#000" stroke-width="1.4" stroke-linejoin="round" stroke-linecap="butt"/>
<polyline points="153.50,242.5 153.80,242.5 154.10,242.5 154.40,242.4 154.70,242.3 155.00,241.8 155.30,240.8 155.60,239.0 155.90,236.2 156.20,232.7 156.50,229.2 156.80,226.8 157.00,226.3 157.10,226.4 157.40,228.2 157.70,231.5 158.00,235.2 158.30,238.3 158.60,240.5 158.90,241.8 159.20,242.4 159.50,242.6 159.80,242.8 160.10,242.8 160.40,242.8" fill="none" stroke="#000" stroke-width="1.4" stroke-linejoin="round" stroke-linecap="butt"/>
<polyline points="162.40,242.9 162.55,242.9 162.70,242.9 162.85,242.9 163.00,242.9 163.15,242.9 163.30,242.9 163.45,242.8 163.60,242.6 163.75,242.3 163.90,241.7 164.05,241.0 164.20,240.0 164.35,238.8 164.50,237.4 164.65,236.0 164.80,234.9 164.95,234.1 165.10,233.8 165.25,234.1 165.40,234.9 165.55,236.1 165.70,237.5 165.85,238.9 166.00,240.1 166.15,241.1 166.30,241.9 166.45,242.4 166.60,242.7 166.75,242.9 166.90,243.0 167.05,243.1 167.20,243.1 167.35,243.2 167.50,243.2 167.65,243.2 167.80,243.2" fill="none" stroke="#000" stroke-width="1.4" stroke-linejoin="round" stroke-linecap="butt"/>
<polyline points="172.14,243.4 172.29,243.4 172.44,243.4 172.59,243.3 172.74,243.1 172.89,242.2 173.04,239.7 173.19,234.4 173.34,225.3 173.49,213.5 173.64,202.8 173.79,198.0 173.80,198.0 173.94,201.7 174.09,211.9 174.24,223.8 174.39,233.4 174.54,239.3 174.69,242.1 174.84,243.1 174.99,243.4 175.14,243.5 175.29,243.6 175.44,243.6" fill="none" stroke="#000" stroke-width="1.5" stroke-linejoin="round" stroke-linecap="butt"/>
<polyline points="184.00,243.9 184.15,243.9 184.30,243.9 184.45,243.8 184.60,243.6 184.75,242.8 184.90,241.1 185.05,237.3 185.20,230.2 185.35,218.6 185.50,202.2 185.65,182.3 185.80,162.6 185.95,147.8 186.10,142.3 186.25,147.8 186.40,162.6 186.55,182.3 186.70,202.2 186.85,218.7 187.00,230.3 187.15,237.4 187.30,241.2 187.45,242.9 187.60,243.7 187.75,243.9 187.90,244.0 188.05,244.1 188.20,244.1" fill="none" stroke="#000" stroke-width="1.5" stroke-linejoin="round" stroke-linecap="butt"/>
<polyline points="190.54,244.2 190.69,244.2 190.84,244.2 190.99,244.2 191.14,244.1 191.29,244.0 191.44,243.8 191.59,243.1 191.74,242.0 191.89,240.6 192.04,239.4 192.19,238.8 192.20,238.8 192.34,239.2 192.49,240.5 192.64,241.9 192.79,243.0 192.94,243.7 193.09,244.1 193.24,244.2 193.39,244.3 193.54,244.3 193.69,244.3 193.84,244.3" fill="none" stroke="#000" stroke-width="1.4" stroke-linejoin="round" stroke-linecap="butt"/>
<polyline points="209.74,244.6 209.89,244.6 210.04,244.6 210.19,244.6 210.34,244.5 210.49,244.4 210.64,243.9 210.79,243.0 210.94,241.5 211.09,239.4 211.24,237.6 211.39,236.8 211.40,236.8 211.54,237.4 211.69,239.2 211.84,241.2 211.99,242.9 212.14,243.9 212.29,244.3 212.44,244.5 212.59,244.6 212.74,244.6 212.89,244.6 213.04,244.6" fill="none" stroke="#000" stroke-width="1.4" stroke-linejoin="round" stroke-linecap="butt"/>
<polyline points="215.24,244.6 215.39,244.6 215.54,244.6 215.69,244.6 215.84,244.6 215.99,244.4 216.14,243.9 216.29,242.9 216.44,241.2 216.59,238.9 216.74,236.9 216.89,236.0 216.90,236.0 217.04,236.7 217.19,238.6 217.34,240.9 217.49,242.7 217.64,243.8 217.79,244.4 217.94,244.6 218.09,244.6 218.24,244.6 218.39,244.6 218.54,244.6" fill="none" stroke="#000" stroke-width="1.4" stroke-linejoin="round" stroke-linecap="butt"/>
<polyline points="218.14,244.6 218.29,244.6 218.44,244.6 218.59,244.6 218.74,244.5 218.89,244.3 219.04,243.5 219.19,241.9 219.34,239.2 219.49,235.7 219.64,232.5 219.79,231.1 219.80,231.1 219.94,232.2 220.09,235.2 220.24,238.8 220.39,241.6 220.54,243.4 220.69,244.2 220.84,244.5 220.99,244.6 221.14,244.7 221.29,244.7 221.44,244.7" fill="none" stroke="#000" stroke-width="1.4" stroke-linejoin="round" stroke-linecap="butt"/>
<polyline points="223.44,244.7 223.59,244.7 223.74,244.7 223.89,244.7 224.04,244.6 224.19,244.5 224.34,244.3 224.49,243.6 224.64,242.6 224.79,241.3 224.94,240.0 225.09,239.5 225.10,239.5 225.24,239.9 225.39,241.1 225.54,242.4 225.69,243.5 225.84,244.2 225.99,244.5 226.14,244.6 226.29,244.7 226.44,244.7 226.59,244.7 226.74,244.7" fill="none" stroke="#000" stroke-width="1.4" stroke-linejoin="round" stroke-linecap="butt"/>
<polyline points="232.50,244.7 232.65,244.7 232.80,244.7 232.95,244.7 233.10,244.6 233.25,244.4 233.40,244.0 233.55,243.1 233.70,241.4 233.85,238.6 234.00,234.3 234.15,228.2 234.30,220.4 234.45,211.6 234.60,202.8 234.75,195.5 234.90,191.0 235.00,190.1 235.05,190.3 235.20,193.6 235.35,200.1 235.50,208.6 235.65,217.6 235.80,225.8 235.95,232.5 236.10,237.4 236.25,240.6 236.40,242.6 236.55,243.7 236.70,244.3 236.85,244.6 237.00,244.7 237.15,244.8 237.30,244.8 237.45,244.8" fill="none" stroke="#000" stroke-width="1.5" stroke-linejoin="round" stroke-linecap="butt"/>
<polyline points="233.80,244.8 233.95,244.8 234.10,244.7 234.25,244.7 234.40,244.7 234.55,244.6 234.70,244.4 234.85,244.1 235.00,243.4 235.15,242.4 235.30,240.7 235.45,238.3 235.60,235.0 235.75,231.0 235.90,226.5 236.05,222.1 236.20,218.2 236.35,215.6 236.50,214.7 236.65,215.6 236.80,218.2 236.95,222.1 237.10,226.5 237.25,231.0 237.40,235.0 237.55,238.3 237.70,240.7 237.85,242.4 238.00,243.5 238.15,244.1 238.30,244.5 238.45,244.6 238.60,244.7 238.75,244.8 238.90,244.8 239.05,244.8 239.20,244.8" fill="none" stroke="#000" stroke-width="1.5" stroke-linejoin="round" stroke-linecap="butt"/>
<polyline points="229.10,244.7 229.40,244.7 229.70,244.7 230.00,244.7 230.30,244.7 230.60,244.7 230.90,244.6 231.20,244.5 231.50,244.4 231.80,244.2 232.10,243.9 232.40,243.5 232.70,242.9 233.00,242.1 233.30,241.2 233.60,240.1 233.90,238.8 234.20,237.4 234.50,236.1 234.80,234.8 235.10,233.8 235.40,233.1 235.70,232.7 235.80,232.7 236.00,232.8 236.30,233.3 236.60,234.1 236.90,235.2 237.20,236.5 237.50,237.9 237.80,239.3 238.10,240.5 238.40,241.6 238.70,242.5 239.00,243.2 239.30,243.7 239.60,244.1 239.90,244.3 240.20,244.5 240.50,244.6 240.80,244.7 241.10,244.8 241.40,244.8 241.70,244.8 242.00,244.8 242.30,244.8" fill="none" stroke="#000" stroke-width="1.4" stroke-linejoin="round" stroke-linecap="butt"/>
<polyline points="258.94,244.9 259.09,244.9 259.24,244.9 259.39,244.8 259.54,244.5 259.69,243.5 259.84,240.7 259.99,234.6 260.14,224.2 260.29,210.8 260.44,198.6 260.59,193.2 260.60,193.2 260.74,197.4 260.89,209.0 261.04,222.5 261.19,233.5 261.34,240.1 261.49,243.3 261.64,244.5 261.79,244.8 261.94,244.9 262.09,244.9 262.24,244.9" fill="none" stroke="#000" stroke-width="1.5" stroke-linejoin="round" stroke-linecap="butt"/>
<polyline points="275.00,245.3 275.15,245.3 275.30,245.3 275.45,245.3 275.60,245.3 275.75,245.3 275.90,245.3 276.05,245.2 276.20,245.1 276.35,244.9 276.50,244.5 276.65,244.0 276.80,243.3 276.95,242.5 277.10,241.5 277.25,240.6 277.40,239.7 277.55,239.2 277.70,239.0 277.85,239.2 278.00,239.8 278.15,240.6 278.30,241.6 278.45,242.5 278.60,243.4 278.75,244.1 278.90,244.7 279.05,245.0 279.20,245.3 279.35,245.4 279.50,245.5 279.65,245.5 279.80,245.6 279.95,245.6 280.10,245.6 280.25,245.6 280.40,245.6" fill="none" stroke="#000" stroke-width="1.4" stroke-linejoin="round" stroke-linecap="butt"/>
<polyline points="277.20,245.4 277.35,245.4 277.50,245.4 277.65,245.4 277.80,245.4 277.95,245.3 278.10,245.1 278.25,244.6 278.40,243.6 278.55,242.0 278.70,239.7 278.85,236.5 279.00,232.8 279.15,229.1 279.30,226.1 279.45,224.6 279.50,224.5 279.60,224.9 279.75,227.0 279.90,230.3 280.05,234.1 280.20,237.7 280.35,240.7 280.50,242.8 280.65,244.1 280.80,244.9 280.95,245.3 281.10,245.5 281.25,245.6 281.40,245.7 281.55,245.7 281.70,245.7" fill="none" stroke="#000" stroke-width="1.4" stroke-linejoin="round" stroke-linecap="butt"/>
<polyline points="273.30,245.2 273.60,245.2 273.90,245.2 274.20,245.2 274.50,245.2 274.80,245.2 275.10,245.2 275.40,245.2 275.70,245.1 276.00,245.0 276.30,244.8 276.60,244.5 276.90,244.1 277.20,243.5 277.50,242.9 277.80,242.1 278.10,241.3 278.40,240.5 278.70,239.8 279.00,239.2 279.30,238.8 279.60,238.7 279.90,238.9 280.20,239.3 280.50,239.9 280.80,240.6 281.10,241.5 281.40,242.3 281.70,243.1 282.00,243.8 282.30,244.4 282.60,244.8 282.90,245.1 283.20,245.4 283.50,245.5 283.80,245.7 284.10,245.7 284.40,245.8 284.70,245.8 285.00,245.8 285.30,245.9 285.60,245.9 285.90,245.9" fill="none" stroke="#000" stroke-width="1.4" stroke-linejoin="round" stroke-linecap="butt"/>
<polyline points="296.74,246.4 296.89,246.4 297.04,246.5 297.19,246.4 297.34,246.4 297.49,246.3 297.64,246.0 297.79,245.3 297.94,244.2 298.09,242.7 298.24,241.4 298.39,240.8 298.40,240.8 298.54,241.3 298.69,242.6 298.84,244.1 298.99,245.3 299.14,246.0 299.29,246.4 299.44,246.5 299.59,246.6 299.74,246.6 299.89,246.6 300.04,246.6" fill="none" stroke="#000" stroke-width="1.4" stroke-linejoin="round" stroke-linecap="butt"/>
<polyline points="310.14,246.9 310.29,246.9 310.44,246.9 310.59,246.8 310.74,246.8 310.89,246.6 311.04,246.2 311.19,245.1 311.34,243.4 311.49,241.1 311.64,239.1 311.79,238.2 311.80,238.2 311.94,238.9 312.09,240.9 312.24,243.1 312.39,245.0 312.54,246.1 312.69,246.6 312.84,246.8 312.99,246.9 313.14,246.9 313.29,246.9 313.44,246.9" fill="none" stroke="#000" stroke-width="1.4" stroke-linejoin="round" stroke-linecap="butt"/>
<polyline points="318.20,247.1 318.35,247.1 318.50,247.1 318.65,247.1 318.80,247.0 318.95,247.0 319.10,246.9 319.25,246.7 319.40,246.4 319.55,245.8 319.70,244.9 319.85,243.6 320.00,241.9 320.15,239.8 320.30,237.4 320.45,235.0 320.60,233.0 320.75,231.6 320.90,231.1 321.05,231.6 321.20,233.0 321.35,235.0 321.50,237.4 321.65,239.8 321.80,241.9 321.95,243.7 322.10,245.0 322.25,245.9 322.40,246.5 322.55,246.8 322.70,247.0 322.85,247.1 323.00,247.1 323.15,247.2 323.30,247.2 323.45,247.2 323.60,247.2" fill="none" stroke="#000" stroke-width="1.4" stroke-linejoin="round" stroke-linecap="butt"/>
<polyline points="313.80,246.9 314.10,246.9 314.40,247.0 314.70,247.0 315.00,247.0 315.30,246.9 315.60,246.9 315.90,246.9 316.20,246.8 316.50,246.6 316.80,246.4 317.10,246.1 317.40,245.7 317.70,245.2 318.00,244.6 318.30,243.8 318.60,242.9 318.90,242.0 319.20,241.0 319.50,240.2 319.80,239.5 320.10,238.9 320.40,238.7 320.50,238.7 320.70,238.8 321.00,239.1 321.30,239.7 321.60,240.5 321.90,241.4 322.20,242.4 322.50,243.3 322.80,244.2 323.10,244.9 323.40,245.6 323.70,246.1 324.00,246.4 324.30,246.7 324.60,246.9 324.90,247.0 325.20,247.1 325.50,247.2 325.80,247.2 326.10,247.2 326.40,247.3 326.70,247.3 327.00,247.3" fill="none" stroke="#000" stroke-width="1.4" stroke-linejoin="round" stroke-linecap="butt"/>
<polyline points="332.74,247.4 332.89,247.4 333.04,247.4 333.19,247.4 333.34,247.4 333.49,247.3 333.64,246.9 333.79,246.1 333.94,244.8 334.09,243.1 334.24,241.5 334.39,240.8 334.40,240.8 334.54,241.3 334.69,242.8 334.84,244.6 334.99,246.0 335.14,246.9 335.29,247.3 335.44,247.4 335.59,247.5 335.74,247.5 335.89,247.5 336.04,247.5" fill="none" stroke="#000" stroke-width="1.4" stroke-linejoin="round" stroke-linecap="butt"/>
<polyline points="119.77,235.1 119.92,235.2 120.07,235.2 120.22,235.3 120.37,235.3 120.52,235.4 120.67,235.3 120.82,235.2 120.97,234.9 121.12,234.4 121.27,233.7 121.42,232.8 121.57,231.9 121.72,231.2 121.87,230.9 121.89,230.9 122.02,231.1 122.17,231.8 122.32,232.8 122.47,233.9 122.62,234.8 122.77,235.5 122.92,236.0 123.07,236.3 123.22,236.5 123.37,236.6 123.52,236.7 123.67,236.7 123.82,236.8 123.97,236.9" fill="none" stroke="#000" stroke-width="1.4" stroke-linejoin="round" stroke-linecap="butt"/>
<polyline points="100.28,232.8 100.43,232.7 100.58,232.7 100.73,232.7 100.88,232.7 101.03,232.6 101.18,232.5 101.33,232.4 101.48,232.1 101.63,231.6 101.78,230.9 101.93,230.0 102.08,229.0 102.23,228.1 102.38,227.5 102.52,227.2 102.53,227.2 102.68,227.5 102.83,228.1 102.98,229.0 103.13,230.0 103.28,230.8 103.43,231.4 103.58,231.8 103.73,232.0 103.88,232.2 104.03,232.2 104.18,232.2 104.33,232.2 104.48,232.2 104.63,232.2" fill="none" stroke="#000" stroke-width="1.4" stroke-linejoin="round" stroke-linecap="butt"/>
<polyline points="115.53,233.0 115.68,233.1 115.83,233.2 115.98,233.2 116.13,233.3 116.28,233.4 116.43,233.4 116.58,233.4 116.73,233.2 116.88,232.9 117.03,232.4 117.18,231.6 117.33,230.8 117.48,229.9 117.63,229.3 117.78,229.0 117.81,229.0 117.93,229.3 118.08,229.9 118.23,230.8 118.38,231.8 118.53,232.8 118.68,233.5 118.83,234.1 118.98,234.5 119.13,234.7 119.28,234.8 119.43,234.9 119.58,235.0 119.73,235.1 119.88,235.2 120.03,235.2" fill="none" stroke="#000" stroke-width="1.4" stroke-linejoin="round" stroke-linecap="butt"/>
<polyline points="80.30,236.3 80.45,236.2 80.60,236.2 80.75,236.2 80.90,236.1 81.05,236.0 81.20,235.9 81.35,235.6 81.50,235.0 81.65,234.0 81.80,232.7 81.95,231.2 82.10,229.8 82.25,228.9 82.35,228.7 82.40,228.7 82.55,229.4 82.70,230.6 82.85,232.1 83.00,233.4 83.15,234.4 83.30,235.1 83.45,235.4 83.60,235.6 83.75,235.7 83.90,235.7 84.05,235.6 84.20,235.6 84.35,235.6" fill="none" stroke="#000" stroke-width="1.4" stroke-linejoin="round" stroke-linecap="butt"/>
<polyline points="93.69,233.8 93.84,233.7 93.99,233.7 94.14,233.7 94.29,233.6 94.44,233.6 94.59,233.5 94.74,233.3 94.89,233.1 95.04,232.7 95.19,232.1 95.34,231.4 95.49,230.6 95.64,229.8 95.79,229.3 95.91,229.2 95.94,229.2 96.09,229.5 96.24,230.0 96.39,230.8 96.54,231.5 96.69,232.2 96.84,232.6 96.99,232.9 97.14,233.0 97.29,233.1 97.44,233.1 97.59,233.1 97.74,233.1 97.89,233.1 98.04,233.1" fill="none" stroke="#000" stroke-width="1.4" stroke-linejoin="round" stroke-linecap="butt"/>
<polyline points="99.77,232.8 99.92,232.8 100.07,232.8 100.22,232.8 100.37,232.7 100.52,232.6 100.67,232.4 100.82,231.9 100.97,231.0 101.12,229.8 101.27,228.4 101.42,227.3 101.55,227.0 101.57,227.0 101.72,227.5 101.87,228.7 102.02,230.0 102.17,231.1 102.32,231.8 102.47,232.2 102.62,232.3 102.77,232.4 102.92,232.4 103.07,232.4 103.22,232.3" fill="none" stroke="#000" stroke-width="1.4" stroke-linejoin="round" stroke-linecap="butt"/>
<polyline points="103.95,232.2 104.10,232.2 104.25,232.2 104.40,232.2 104.55,232.1 104.70,232.1 104.85,231.9 105.00,231.5 105.15,230.9 105.30,230.0 105.45,228.8 105.60,227.6 105.75,226.7 105.86,226.5 105.90,226.5 106.05,227.1 106.20,228.1 106.35,229.3 106.50,230.3 106.65,231.1 106.80,231.5 106.95,231.7 107.10,231.7 107.25,231.7 107.40,231.7 107.55,231.7 107.70,231.7" fill="none" stroke="#000" stroke-width="1.4" stroke-linejoin="round" stroke-linecap="butt"/>
<polyline points="88.70,234.8 88.85,234.7 89.00,234.7 89.15,234.7 89.30,234.6 89.45,234.5 89.60,234.3 89.75,233.8 89.90,233.0 90.05,231.9 90.20,230.8 90.35,230.2 90.40,230.1 90.50,230.3 90.65,231.1 90.80,232.1 90.95,233.1 91.10,233.7 91.25,234.0 91.40,234.1 91.55,234.2 91.70,234.2 91.85,234.1 92.00,234.1" fill="none" stroke="#000" stroke-width="1.4" stroke-linejoin="round" stroke-linecap="butt"/>
<polyline points="114.22,232.3 114.37,232.3 114.52,232.4 114.67,232.5 114.82,232.6 114.97,232.6 115.12,232.5 115.27,232.3 115.42,231.8 115.57,231.0 115.72,229.8 115.87,228.4 116.02,227.1 116.17,226.4 116.25,226.3 116.32,226.4 116.47,227.3 116.62,228.6 116.77,230.2 116.92,231.6 117.07,232.7 117.22,233.4 117.37,233.8 117.52,234.0 117.67,234.2 117.82,234.3 117.97,234.4 118.12,234.4 118.27,234.5" fill="none" stroke="#000" stroke-width="1.4" stroke-linejoin="round" stroke-linecap="butt"/>
<polyline points="93.71,233.8 93.86,233.7 94.01,233.7 94.16,233.7 94.31,233.6 94.46,233.5 94.61,233.4 94.76,233.1 94.91,232.6 95.06,231.8 95.21,230.6 95.36,229.2 95.51,227.6 95.66,226.3 95.81,225.6 95.88,225.4 95.96,225.5 96.11,226.3 96.26,227.6 96.41,229.1 96.56,230.5 96.71,231.6 96.86,232.3 97.01,232.8 97.16,233.0 97.31,233.1 97.46,233.1 97.61,233.1 97.76,233.1 97.91,233.1" fill="none" stroke="#000" stroke-width="1.4" stroke-linejoin="round" stroke-linecap="butt"/>
<polyline points="81.21,236.1 81.36,236.1 81.51,236.1 81.66,236.0 81.81,236.0 81.96,235.9 82.11,235.8 82.26,235.6 82.41,235.3 82.56,234.8 82.71,234.0 82.86,233.0 83.01,231.8 83.16,230.7 83.31,229.8 83.46,229.4 83.48,229.4 83.61,229.6 83.76,230.3 83.91,231.4 84.06,232.5 84.21,233.5 84.36,234.3 84.51,234.9 84.66,235.2 84.81,235.4 84.96,235.4 85.11,235.5 85.26,235.4 85.41,235.4 85.56,235.4 85.71,235.4" fill="none" stroke="#000" stroke-width="1.4" stroke-linejoin="round" stroke-linecap="butt"/>
<polyline points="111.33,231.1 111.48,231.1 111.63,231.1 111.78,231.0 111.93,231.0 112.08,231.0 112.23,230.9 112.38,230.6 112.53,230.1 112.68,229.2 112.83,228.1 112.98,227.0 113.13,226.3 113.21,226.3 113.28,226.4 113.43,227.2 113.58,228.4 113.73,229.7 113.88,230.8 114.03,231.5 114.18,232.0 114.33,232.2 114.48,232.4 114.63,232.5 114.78,232.6 114.93,232.7 115.08,232.7" fill="none" stroke="#000" stroke-width="1.4" stroke-linejoin="round" stroke-linecap="butt"/>
<polyline points="96.41,233.3 96.56,233.3 96.71,233.3 96.86,233.2 97.01,233.2 97.16,233.1 97.31,232.9 97.46,232.6 97.61,232.0 97.76,231.1 97.91,229.8 98.06,228.2 98.21,226.7 98.36,225.7 98.48,225.4 98.51,225.4 98.66,225.9 98.81,227.2 98.96,228.7 99.11,230.1 99.26,231.3 99.41,232.0 99.56,232.5 99.71,232.7 99.86,232.8 100.01,232.8 100.16,232.8 100.31,232.8 100.46,232.7" fill="none" stroke="#000" stroke-width="1.4" stroke-linejoin="round" stroke-linecap="butt"/>
<polyline points="90.32,234.4 90.47,234.4 90.62,234.4 90.77,234.3 90.92,234.3 91.07,234.1 91.22,233.6 91.37,232.7 91.52,231.3 91.67,229.6 91.82,228.4 91.90,228.2 91.97,228.4 92.12,229.5 92.27,231.1 92.42,232.5 92.57,233.4 92.72,233.7 92.87,233.9 93.02,233.9 93.17,233.9 93.32,233.8" fill="none" stroke="#000" stroke-width="1.4" stroke-linejoin="round" stroke-linecap="butt"/>
<polyline points="95.49,233.4 95.64,233.4 95.79,233.4 95.94,233.4 96.09,233.3 96.24,233.1 96.39,232.8 96.54,232.0 96.69,230.8 96.84,229.3 96.99,228.4 97.06,228.2 97.14,228.4 97.29,229.3 97.44,230.7 97.59,231.9 97.74,232.6 97.89,232.9 98.04,233.0 98.19,233.0 98.34,233.0 98.49,233.0" fill="none" stroke="#000" stroke-width="1.4" stroke-linejoin="round" stroke-linecap="butt"/>
<polyline points="72.96,237.0 73.11,237.0 73.26,237.0 73.41,237.0 73.56,237.0 73.71,237.0 73.86,236.9 74.01,236.7 74.16,236.3 74.31,235.7 74.46,234.9 74.61,233.9 74.76,233.0 74.91,232.3 75.02,232.2 75.06,232.2 75.21,232.6 75.36,233.4 75.51,234.4 75.66,235.3 75.81,236.0 75.96,236.4 76.11,236.7 76.26,236.8 76.41,236.8 76.56,236.8 76.71,236.8 76.86,236.8 77.01,236.8" fill="none" stroke="#000" stroke-width="1.4" stroke-linejoin="round" stroke-linecap="butt"/>
<polyline points="77.87,236.6 78.02,236.6 78.17,236.6 78.32,236.6 78.47,236.5 78.62,236.4 78.77,236.3 78.92,235.9 79.07,235.3 79.22,234.4 79.37,233.1 79.52,231.8 79.67,230.6 79.82,230.0 79.86,230.0 79.97,230.2 80.12,231.1 80.27,232.4 80.42,233.7 80.57,234.7 80.72,235.4 80.87,235.8 81.02,236.0 81.17,236.1 81.32,236.1 81.47,236.1 81.62,236.0 81.77,236.0" fill="none" stroke="#000" stroke-width="1.4" stroke-linejoin="round" stroke-linecap="butt"/>
<polyline points="121.02,235.6 121.17,235.7 121.32,235.7 121.47,235.8 121.62,235.8 121.77,235.9 121.92,235.8 122.07,235.7 122.22,235.4 122.37,234.9 122.52,234.1 122.67,233.1 122.82,232.1 122.97,231.4 123.12,231.1 123.14,231.1 123.27,231.3 123.42,232.1 123.57,233.2 123.72,234.3 123.87,235.3 124.02,236.0 124.17,236.5 124.32,236.8 124.47,237.0 124.62,237.1 124.77,237.2 124.92,237.3 125.07,237.3 125.22,237.4" fill="none" stroke="#000" stroke-width="1.4" stroke-linejoin="round" stroke-linecap="butt"/>
<polyline points="69.63,236.9 69.78,236.9 69.93,236.9 70.08,236.9 70.23,236.9 70.38,236.8 70.53,236.8 70.68,236.6 70.83,236.3 70.98,235.8 71.13,235.1 71.28,234.0 71.43,232.9 71.58,231.7 71.73,230.8 71.88,230.4 71.92,230.3 72.03,230.5 72.18,231.2 72.33,232.3 72.48,233.5 72.63,234.6 72.78,235.5 72.93,236.2 73.08,236.6 73.23,236.8 73.38,236.9 73.53,237.0 73.68,237.0 73.83,237.0 73.98,237.1 74.13,237.1" fill="none" stroke="#000" stroke-width="1.4" stroke-linejoin="round" stroke-linecap="butt"/>
<polyline points="133.80,240.1 133.95,240.2 134.10,240.2 134.25,240.2 134.40,240.2 134.55,240.1 134.70,239.7 134.85,238.9 135.00,237.6 135.15,236.0 135.30,234.7 135.42,234.3 135.45,234.3 135.60,235.1 135.75,236.7 135.90,238.3 136.05,239.5 136.20,240.1 136.35,240.4 136.50,240.6 136.65,240.6 136.80,240.6 136.95,240.7" fill="none" stroke="#000" stroke-width="1.4" stroke-linejoin="round" stroke-linecap="butt"/>
<polyline points="272.01,245.1 272.16,245.1 272.31,245.1 272.46,245.1 272.61,245.1 272.76,245.1 272.91,244.8 273.06,244.4 273.21,243.6 273.36,242.8 273.51,242.4 273.55,242.3 273.66,242.5 273.81,243.2 273.96,244.0 274.11,244.7 274.26,245.0 274.41,245.2 274.56,245.3 274.71,245.3 274.86,245.3 275.01,245.3" fill="none" stroke="#000" stroke-width="1.4" stroke-linejoin="round" stroke-linecap="butt"/>
<polyline points="152.51,242.4 152.66,242.4 152.81,242.4 152.96,242.4 153.11,242.4 153.26,242.4 153.41,242.3 153.56,242.1 153.71,241.7 153.86,241.1 154.01,240.3 154.16,239.2 154.31,238.2 154.46,237.3 154.61,237.0 154.63,237.0 154.76,237.2 154.91,237.9 155.06,238.9 155.21,240.0 155.36,241.0 155.51,241.7 155.66,242.1 155.81,242.4 155.96,242.5 156.11,242.6 156.26,242.6 156.41,242.6 156.56,242.6 156.71,242.6" fill="none" stroke="#000" stroke-width="1.4" stroke-linejoin="round" stroke-linecap="butt"/>
<polyline points="268.86,245.0 269.01,245.0 269.16,245.0 269.31,245.0 269.46,245.0 269.61,244.9 269.76,244.7 269.91,244.2 270.06,243.4 270.21,242.3 270.36,241.1 270.51,240.4 270.59,240.2 270.66,240.3 270.81,241.1 270.96,242.2 271.11,243.4 271.26,244.2 271.41,244.7 271.56,245.0 271.71,245.1 271.86,245.1 272.01,245.1 272.16,245.1 272.31,245.1" fill="none" stroke="#000" stroke-width="1.4" stroke-linejoin="round" stroke-linecap="butt"/>
<polyline points="238.92,244.8 239.07,244.8 239.22,244.8 239.37,244.8 239.52,244.8 239.67,244.8 239.82,244.7 239.97,244.6 240.12,244.4 240.27,244.0 240.42,243.4 240.57,242.6 240.72,241.8 240.87,241.0 241.02,240.3 241.17,240.1 241.18,240.1 241.32,240.3 241.47,240.8 241.62,241.6 241.77,242.5 241.92,243.3 242.07,243.9 242.22,244.3 242.37,244.6 242.52,244.7 242.67,244.8 242.82,244.8 242.97,244.8 243.12,244.8 243.27,244.8 243.42,244.8" fill="none" stroke="#000" stroke-width="1.4" stroke-linejoin="round" stroke-linecap="butt"/>
<polyline points="223.14,244.7 223.29,244.7 223.44,244.7 223.59,244.7 223.74,244.6 223.89,244.6 224.04,244.4 224.19,243.9 224.34,243.1 224.49,241.9 224.64,240.6 224.79,239.5 224.92,239.1 224.94,239.2 225.09,239.7 225.24,240.8 225.39,242.2 225.54,243.3 225.69,244.0 225.84,244.4 225.99,244.6 226.14,244.7 226.29,244.7 226.44,244.7 226.59,244.7" fill="none" stroke="#000" stroke-width="1.4" stroke-linejoin="round" stroke-linecap="butt"/>
<polyline points="326.30,247.3 326.45,247.3 326.60,247.3 326.75,247.3 326.90,247.3 327.05,247.2 327.20,247.2 327.35,247.1 327.50,246.8 327.65,246.5 327.80,245.9 327.95,245.2 328.10,244.3 328.25,243.5 328.40,242.8 328.55,242.4 328.59,242.4 328.70,242.5 328.85,243.0 329.00,243.8 329.15,244.7 329.30,245.5 329.45,246.2 329.60,246.7 329.75,247.0 329.90,247.2 330.05,247.3 330.20,247.3 330.35,247.3 330.50,247.4 330.65,247.4 330.80,247.4" fill="none" stroke="#000" stroke-width="1.4" stroke-linejoin="round" stroke-linecap="butt"/>
<polyline points="173.07,243.5 173.22,243.5 173.37,243.5 173.52,243.5 173.67,243.5 173.82,243.4 173.97,243.2 174.12,242.9 174.27,242.3 174.42,241.3 174.57,240.1 174.72,238.9 174.87,238.2 174.95,238.1 175.02,238.2 175.17,238.9 175.32,240.0 175.47,241.3 175.62,242.3 175.77,243.0 175.92,243.3 176.07,243.5 176.22,243.6 176.37,243.6 176.52,243.6 176.67,243.6 176.82,243.6" fill="none" stroke="#000" stroke-width="1.4" stroke-linejoin="round" stroke-linecap="butt"/>
<polyline points="235.49,244.8 235.64,244.8 235.79,244.8 235.94,244.8 236.09,244.7 236.24,244.6 236.39,244.2 236.54,243.5 236.69,242.3 236.84,240.9 236.99,240.0 237.06,239.9 237.14,240.0 237.29,241.0 237.44,242.3 237.59,243.5 237.74,244.3 237.89,244.6 238.04,244.7 238.19,244.8 238.34,244.8 238.49,244.8" fill="none" stroke="#000" stroke-width="1.4" stroke-linejoin="round" stroke-linecap="butt"/>
<polyline points="317.25,247.0 317.40,247.0 317.55,247.0 317.70,247.0 317.85,247.0 318.00,246.9 318.15,246.6 318.30,246.0 318.45,245.0 318.60,243.9 318.75,243.0 318.84,242.9 318.90,242.9 319.05,243.7 319.20,244.9 319.35,245.9 319.50,246.6 319.65,246.9 319.80,247.0 319.95,247.1 320.10,247.1 320.25,247.1 320.40,247.1" fill="none" stroke="#000" stroke-width="1.4" stroke-linejoin="round" stroke-linecap="butt"/>
<polyline points="285.79,245.9 285.94,245.9 286.09,245.9 286.24,245.9 286.39,245.9 286.54,245.9 286.69,245.8 286.84,245.5 286.99,245.1 287.14,244.5 287.29,243.8 287.44,243.2 287.59,243.0 287.74,243.2 287.89,243.8 288.04,244.5 288.19,245.2 288.34,245.6 288.49,245.9 288.64,246.0 288.79,246.0 288.94,246.0 289.09,246.1 289.24,246.1 289.39,246.1" fill="none" stroke="#000" stroke-width="1.4" stroke-linejoin="round" stroke-linecap="butt"/>
<polyline points="270.74,245.0 270.89,245.1 271.04,245.1 271.19,245.1 271.34,245.0 271.49,244.9 271.64,244.6 271.79,244.0 271.94,242.9 272.09,241.7 272.24,241.0 272.30,240.9 272.39,241.1 272.54,242.0 272.69,243.3 272.84,244.2 272.99,244.8 273.14,245.1 273.29,245.2 273.44,245.2 273.59,245.2 273.74,245.2" fill="none" stroke="#000" stroke-width="1.4" stroke-linejoin="round" stroke-linecap="butt"/>
<polyline points="260.09,244.9 260.24,244.9 260.39,244.9 260.54,244.9 260.69,244.9 260.84,244.9 260.99,244.7 261.14,244.4 261.29,243.8 261.44,243.0 261.59,242.0 261.74,241.2 261.89,240.9 261.90,240.9 262.04,241.2 262.19,241.9 262.34,242.9 262.49,243.8 262.64,244.4 262.79,244.7 262.94,244.9 263.09,244.9 263.24,244.9 263.39,245.0 263.54,245.0 263.69,245.0" fill="none" stroke="#000" stroke-width="1.4" stroke-linejoin="round" stroke-linecap="butt"/>
<polyline points="158.55,242.7 158.70,242.7 158.85,242.7 159.00,242.7 159.15,242.7 159.30,242.7 159.45,242.7 159.60,242.6 159.75,242.5 159.90,242.3 160.05,241.9 160.20,241.5 160.35,240.9 160.50,240.3 160.65,239.9 160.80,239.7 160.85,239.7 160.95,239.7 161.10,240.1 161.25,240.6 161.40,241.1 161.55,241.7 161.70,242.1 161.85,242.5 162.00,242.7 162.15,242.8 162.30,242.9 162.45,242.9 162.60,242.9 162.75,242.9 162.90,242.9 163.05,243.0" fill="none" stroke="#000" stroke-width="1.4" stroke-linejoin="round" stroke-linecap="butt"/>
<polyline points="255.85,244.9 256.00,244.9 256.15,244.9 256.30,244.9 256.45,244.9 256.60,244.9 256.75,244.8 256.90,244.6 257.05,244.3 257.20,243.8 257.35,243.1 257.50,242.1 257.65,241.2 257.80,240.5 257.95,240.1 257.98,240.1 258.10,240.3 258.25,240.9 258.40,241.8 258.55,242.7 258.70,243.6 258.85,244.2 259.00,244.5 259.15,244.8 259.30,244.9 259.45,244.9 259.60,244.9 259.75,244.9 259.90,244.9 260.05,244.9" fill="none" stroke="#000" stroke-width="1.4" stroke-linejoin="round" stroke-linecap="butt"/>
<polyline points="207.39,244.6 207.54,244.6 207.69,244.6 207.84,244.6 207.99,244.5 208.14,244.5 208.29,244.4 208.44,244.2 208.59,243.9 208.74,243.4 208.89,242.6 209.04,241.8 209.19,241.2 209.34,240.8 209.38,240.8 209.49,240.9 209.64,241.5 209.79,242.2 209.94,243.0 210.09,243.7 210.24,244.1 210.39,244.4 210.54,244.5 210.69,244.6 210.84,244.6 210.99,244.6 211.14,244.6 211.29,244.6" fill="none" stroke="#000" stroke-width="1.4" stroke-linejoin="round" stroke-linecap="butt"/>
<polyline points="212.49,244.6 212.64,244.6 212.79,244.6 212.94,244.6 213.09,244.6 213.24,244.4 213.39,244.1 213.54,243.4 213.69,242.3 213.84,241.1 213.99,240.2 214.06,240.1 214.14,240.2 214.29,241.1 214.44,242.4 214.59,243.5 214.74,244.1 214.89,244.5 215.04,244.6 215.19,244.6 215.34,244.6 215.49,244.6" fill="none" stroke="#000" stroke-width="1.4" stroke-linejoin="round" stroke-linecap="butt"/>
<polyline points="215.38,244.6 215.53,244.6 215.68,244.6 215.83,244.6 215.98,244.6 216.13,244.6 216.28,244.5 216.43,244.4 216.58,244.3 216.73,244.0 216.88,243.5 217.03,242.9 217.18,242.3 217.33,241.7 217.48,241.3 217.60,241.2 217.63,241.2 217.78,241.4 217.93,241.9 218.08,242.5 218.23,243.2 218.38,243.7 218.53,244.1 218.68,244.4 218.83,244.5 218.98,244.6 219.13,244.6 219.28,244.6 219.43,244.6 219.58,244.6 219.73,244.6" fill="none" stroke="#000" stroke-width="1.4" stroke-linejoin="round" stroke-linecap="butt"/>
<polyline points="205.50,244.5 205.65,244.5 205.80,244.5 205.95,244.5 206.10,244.5 206.25,244.5 206.40,244.3 206.55,244.1 206.70,243.5 206.85,242.7 207.00,241.6 207.15,240.5 207.30,239.5 207.45,239.1 207.47,239.1 207.60,239.4 207.75,240.2 207.90,241.4 208.05,242.5 208.20,243.4 208.35,244.0 208.50,244.3 208.65,244.5 208.80,244.5 208.95,244.6 209.10,244.6 209.25,244.6 209.40,244.6" fill="none" stroke="#000" stroke-width="1.4" stroke-linejoin="round" stroke-linecap="butt"/>
<polyline points="220.31,244.7 220.46,244.7 220.61,244.7 220.76,244.6 220.91,244.6 221.06,244.5 221.21,244.1 221.36,243.3 221.51,242.2 221.66,241.0 221.81,240.4 221.83,240.3 221.96,240.7 222.11,241.8 222.26,243.0 222.41,243.9 222.56,244.4 222.71,244.6 222.86,244.7 223.01,244.7 223.16,244.7 223.31,244.7" fill="none" stroke="#000" stroke-width="1.4" stroke-linejoin="round" stroke-linecap="butt"/>
<polyline points="267.32,245.0 267.47,245.0 267.62,245.0 267.77,245.0 267.92,245.0 268.07,244.9 268.22,244.8 268.37,244.4 268.52,243.8 268.67,243.0 268.82,242.3 268.97,241.9 269.01,241.8 269.12,242.0 269.27,242.6 269.42,243.4 269.57,244.1 269.72,244.6 269.87,244.9 270.02,245.0 270.17,245.0 270.32,245.0 270.47,245.0 270.62,245.0" fill="none" stroke="#000" stroke-width="1.4" stroke-linejoin="round" stroke-linecap="butt"/>
<polyline points="334.17,247.5 334.32,247.5 334.47,247.5 334.62,247.5 334.77,247.4 334.92,247.4 335.07,247.3 335.22,247.0 335.37,246.5 335.52,245.8 335.67,245.0 335.82,244.3 335.96,244.1 335.97,244.1 336.12,244.4 336.27,245.1 336.42,245.9 336.57,246.6 336.72,247.1 336.87,247.4 337.02,247.5 337.17,247.5 337.32,247.5 337.47,247.5 337.62,247.5" fill="none" stroke="#000" stroke-width="1.4" stroke-linejoin="round" stroke-linecap="butt"/>
<polyline points="274.98,245.3 275.13,245.3 275.28,245.3 275.43,245.3 275.58,245.3 275.73,245.3 275.88,245.2 276.03,244.9 276.18,244.4 276.33,243.6 276.48,242.8 276.63,242.1 276.78,241.8 276.93,242.1 277.08,242.9 277.23,243.7 277.38,244.5 277.53,245.0 277.68,245.3 277.83,245.4 277.98,245.5 278.13,245.5 278.28,245.5 278.43,245.5" fill="none" stroke="#000" stroke-width="1.4" stroke-linejoin="round" stroke-linecap="butt"/>
<polyline points="191.08,244.2 191.23,244.2 191.38,244.2 191.53,244.2 191.68,244.2 191.83,244.0 191.98,243.6 192.13,242.8 192.28,241.5 192.43,240.1 192.58,239.1 192.65,239.0 192.73,239.2 192.88,240.3 193.03,241.8 193.18,243.0 193.33,243.8 193.48,244.1 193.63,244.2 193.78,244.3 193.93,244.3 194.08,244.3" fill="none" stroke="#000" stroke-width="1.4" stroke-linejoin="round" stroke-linecap="butt"/>
<polyline points="206.79,244.6 206.94,244.6 207.09,244.6 207.24,244.5 207.39,244.5 207.54,244.5 207.69,244.3 207.84,244.0 207.99,243.5 208.14,242.6 208.29,241.5 208.44,240.1 208.59,239.0 208.74,238.3 208.80,238.3 208.89,238.4 209.04,239.2 209.19,240.4 209.34,241.7 209.49,242.9 209.64,243.7 209.79,244.1 209.94,244.4 210.09,244.5 210.24,244.6 210.39,244.6 210.54,244.6 210.69,244.6" fill="none" stroke="#000" stroke-width="1.4" stroke-linejoin="round" stroke-linecap="butt"/>
<polyline points="228.01,244.7 228.16,244.7 228.31,244.7 228.46,244.7 228.61,244.7 228.76,244.5 228.91,244.2 229.06,243.5 229.21,242.3 229.36,241.2 229.51,240.6 229.53,240.6 229.66,240.9 229.81,242.0 229.96,243.2 230.11,244.0 230.26,244.5 230.41,244.7 230.56,244.7 230.71,244.7 230.86,244.7 231.01,244.7" fill="none" stroke="#000" stroke-width="1.4" stroke-linejoin="round" stroke-linecap="butt"/>
<polyline points="322.81,247.2 322.96,247.2 323.11,247.2 323.26,247.2 323.41,247.2 323.56,247.1 323.71,247.1 323.86,247.0 324.01,246.7 324.16,246.3 324.31,245.7 324.46,244.9 324.61,244.0 324.76,243.1 324.91,242.4 325.06,242.1 325.09,242.1 325.21,242.3 325.36,242.8 325.51,243.7 325.66,244.6 325.81,245.5 325.96,246.2 326.11,246.6 326.26,246.9 326.41,247.1 326.56,247.2 326.71,247.2 326.86,247.3 327.01,247.3 327.16,247.3 327.31,247.3" fill="none" stroke="#000" stroke-width="1.4" stroke-linejoin="round" stroke-linecap="butt"/>
<polyline points="228.75,244.7 228.90,244.7 229.05,244.7 229.20,244.7 229.35,244.7 229.50,244.6 229.65,244.4 229.80,243.9 229.95,243.1 230.10,241.9 230.25,240.6 230.40,239.8 230.49,239.6 230.55,239.7 230.70,240.5 230.85,241.7 231.00,242.9 231.15,243.8 231.30,244.4 231.45,244.6 231.60,244.7 231.75,244.7 231.90,244.7 232.05,244.7 232.20,244.7" fill="none" stroke="#000" stroke-width="1.4" stroke-linejoin="round" stroke-linecap="butt"/>
<polyline points="305.51,246.7 305.66,246.7 305.81,246.7 305.96,246.7 306.11,246.7 306.26,246.7 306.41,246.5 306.56,246.1 306.71,245.4 306.86,244.4 307.01,243.4 307.16,242.7 307.25,242.5 307.31,242.6 307.46,243.2 307.61,244.2 307.76,245.3 307.91,246.0 308.06,246.5 308.21,246.7 308.36,246.8 308.51,246.8 308.66,246.8 308.81,246.8 308.96,246.8" fill="none" stroke="#000" stroke-width="1.4" stroke-linejoin="round" stroke-linecap="butt"/>
<polyline points="187.88,244.1 188.03,244.1 188.18,244.1 188.33,244.1 188.48,244.1 188.63,244.0 188.78,244.0 188.93,243.8 189.08,243.5 189.23,242.9 189.38,242.2 189.53,241.3 189.68,240.5 189.83,240.0 189.91,240.0 189.98,240.0 190.13,240.5 190.28,241.2 190.43,242.1 190.58,242.9 190.73,243.5 190.88,243.8 191.03,244.0 191.18,244.1 191.33,244.2 191.48,244.2 191.63,244.2 191.78,244.2 191.93,244.2" fill="none" stroke="#000" stroke-width="1.4" stroke-linejoin="round" stroke-linecap="butt"/>
<polyline points="292.06,246.2 292.21,246.2 292.36,246.2 292.51,246.2 292.66,246.2 292.81,246.2 292.96,246.2 293.11,246.1 293.26,246.0 293.41,245.7 293.56,245.4 293.71,244.9 293.86,244.4 294.01,243.9 294.16,243.5 294.31,243.4 294.46,243.6 294.61,243.9 294.76,244.5 294.91,245.0 295.06,245.5 295.21,245.8 295.36,246.1 295.51,246.2 295.66,246.3 295.81,246.4 295.96,246.4 296.11,246.4 296.26,246.4 296.41,246.4" fill="none" stroke="#000" stroke-width="1.4" stroke-linejoin="round" stroke-linecap="butt"/>
<polyline points="289.03,246.1 289.18,246.1 289.33,246.1 289.48,246.1 289.63,246.0 289.78,245.9 289.93,245.7 290.08,245.1 290.23,244.1 290.38,242.8 290.53,241.6 290.68,241.1 290.69,241.1 290.83,241.5 290.98,242.7 291.13,244.0 291.28,245.1 291.43,245.7 291.58,246.0 291.73,246.1 291.88,246.2 292.03,246.2 292.18,246.2 292.33,246.2" fill="none" stroke="#000" stroke-width="1.4" stroke-linejoin="round" stroke-linecap="butt"/>
<polyline points="154.18,242.5 154.33,242.5 154.48,242.5 154.63,242.5 154.78,242.5 154.93,242.5 155.08,242.4 155.23,242.3 155.38,242.1 155.53,241.7 155.68,241.1 155.83,240.3 155.98,239.4 156.13,238.5 156.28,237.9 156.43,237.6 156.58,237.9 156.73,238.5 156.88,239.4 157.03,240.3 157.18,241.1 157.33,241.7 157.48,242.2 157.63,242.4 157.78,242.6 157.93,242.6 158.08,242.7 158.23,242.7 158.38,242.7 158.53,242.7 158.68,242.7" fill="none" stroke="#000" stroke-width="1.4" stroke-linejoin="round" stroke-linecap="butt"/>
<polyline points="199.52,244.5 199.67,244.5 199.82,244.5 199.97,244.5 200.12,244.5 200.27,244.4 200.42,244.3 200.57,244.0 200.72,243.4 200.87,242.6 201.02,241.7 201.17,241.1 201.28,240.9 201.32,240.9 201.47,241.4 201.62,242.2 201.77,243.0 201.92,243.7 202.07,244.2 202.22,244.4 202.37,244.5 202.52,244.5 202.67,244.5 202.82,244.5 202.97,244.5" fill="none" stroke="#000" stroke-width="1.4" stroke-linejoin="round" stroke-linecap="butt"/>
<polyline points="307.62,246.8 307.77,246.8 307.92,246.8 308.07,246.8 308.22,246.8 308.37,246.7 308.52,246.4 308.67,245.9 308.82,245.0 308.97,243.7 309.12,242.5 309.27,241.9 309.30,241.9 309.42,242.2 309.57,243.2 309.72,244.4 309.87,245.5 310.02,246.3 310.17,246.6 310.32,246.8 310.47,246.8 310.62,246.9 310.77,246.9 310.92,246.9" fill="none" stroke="#000" stroke-width="1.4" stroke-linejoin="round" stroke-linecap="butt"/>
<polyline points="157.32,242.7 157.47,242.7 157.62,242.7 157.77,242.7 157.92,242.7 158.07,242.6 158.22,242.4 158.37,242.1 158.52,241.4 158.67,240.5 158.82,239.5 158.97,238.8 159.08,238.6 159.12,238.7 159.27,239.2 159.42,240.1 159.57,241.1 159.72,241.9 159.87,242.4 160.02,242.7 160.17,242.8 160.32,242.8 160.47,242.8 160.62,242.8 160.77,242.8" fill="none" stroke="#000" stroke-width="1.4" stroke-linejoin="round" stroke-linecap="butt"/>
<polyline points="310.46,246.9 310.61,246.9 310.76,246.9 310.91,246.9 311.06,246.8 311.21,246.8 311.36,246.6 311.51,246.2 311.66,245.5 311.81,244.5 311.96,243.6 312.11,243.1 312.15,243.1 312.26,243.3 312.41,244.0 312.56,245.0 312.71,245.9 312.86,246.5 313.01,246.8 313.16,246.9 313.31,246.9 313.46,246.9 313.61,246.9 313.76,246.9" fill="none" stroke="#000" stroke-width="1.4" stroke-linejoin="round" stroke-linecap="butt"/>
<polyline points="217.64,244.6 217.79,244.6 217.94,244.6 218.09,244.6 218.24,244.6 218.39,244.6 218.54,244.5 218.69,244.4 218.84,244.1 218.99,243.6 219.14,242.9 219.29,242.1 219.44,241.3 219.59,240.8 219.70,240.7 219.74,240.7 219.89,241.0 220.04,241.7 220.19,242.5 220.34,243.3 220.49,243.8 220.64,244.2 220.79,244.5 220.94,244.6 221.09,244.6 221.24,244.7 221.39,244.7 221.54,244.7 221.69,244.7" fill="none" stroke="#000" stroke-width="1.4" stroke-linejoin="round" stroke-linecap="butt"/>
<polyline points="337.16,247.5 337.31,247.5 337.46,247.5 337.61,247.5 337.76,247.5 337.91,247.4 338.06,247.2 338.21,246.8 338.36,246.0 338.51,245.0 338.66,244.0 338.81,243.5 338.85,243.5 338.96,243.7 339.11,244.5 339.26,245.6 339.41,246.5 339.56,247.1 339.71,247.4 339.86,247.5 340.01,247.6 340.16,247.6 340.31,247.6 340.46,247.6" fill="none" stroke="#000" stroke-width="1.4" stroke-linejoin="round" stroke-linecap="butt"/>
<polyline points="302.08,246.7 302.23,246.7 302.38,246.7 302.53,246.7 302.68,246.6 302.83,246.5 302.98,246.3 303.13,245.7 303.28,244.9 303.43,243.9 303.58,243.2 303.65,243.1 303.73,243.2 303.88,243.9 304.03,244.9 304.18,245.8 304.33,246.3 304.48,246.6 304.63,246.7 304.78,246.7 304.93,246.7 305.08,246.7" fill="none" stroke="#000" stroke-width="1.4" stroke-linejoin="round" stroke-linecap="butt"/>
<polyline points="156.65,242.6 156.80,242.6 156.95,242.6 157.10,242.6 157.25,242.6 157.40,242.6 157.55,242.6 157.70,242.5 157.85,242.2 158.00,241.9 158.15,241.3 158.30,240.7 158.45,239.9 158.60,239.3 158.75,239.0 158.82,239.0 158.90,239.0 159.05,239.4 159.20,240.1 159.35,240.8 159.50,241.5 159.65,242.0 159.80,242.4 159.95,242.6 160.10,242.7 160.25,242.8 160.40,242.8 160.55,242.8 160.70,242.8 160.85,242.8" fill="none" stroke="#000" stroke-width="1.4" stroke-linejoin="round" stroke-linecap="butt"/>
<polyline points="173.30,243.5 173.45,243.5 173.60,243.5 173.75,243.5 173.90,243.4 174.05,243.3 174.20,242.9 174.35,242.1 174.50,240.9 174.65,239.4 174.80,238.4 174.87,238.3 174.95,238.5 175.10,239.6 175.25,241.1 175.40,242.3 175.55,243.1 175.70,243.4 175.85,243.6 176.00,243.6 176.15,243.6 176.30,243.6" fill="none" stroke="#000" stroke-width="1.4" stroke-linejoin="round" stroke-linecap="butt"/>
<polyline points="308.15,246.8 308.30,246.8 308.45,246.8 308.60,246.8 308.75,246.8 308.90,246.7 309.05,246.3 309.20,245.6 309.35,244.5 309.50,243.2 309.65,242.3 309.72,242.2 309.80,242.4 309.95,243.3 310.10,244.6 310.25,245.7 310.40,246.4 310.55,246.7 310.70,246.8 310.85,246.9 311.00,246.9 311.15,246.9" fill="none" stroke="#000" stroke-width="1.4" stroke-linejoin="round" stroke-linecap="butt"/>
<polyline points="132.68,239.9 132.83,240.0 132.98,240.0 133.13,240.0 133.28,240.0 133.43,239.9 133.58,239.7 133.73,239.2 133.88,238.4 134.03,237.3 134.18,236.4 134.32,236.0 134.33,236.0 134.48,236.5 134.63,237.5 134.78,238.6 134.93,239.5 135.08,240.0 135.23,240.3 135.38,240.4 135.53,240.4 135.68,240.4 135.83,240.5" fill="none" stroke="#000" stroke-width="1.4" stroke-linejoin="round" stroke-linecap="butt"/>
<polyline points="265.46,245.0 265.61,245.0 265.76,245.0 265.91,245.0 266.06,245.0 266.21,244.9 266.36,244.8 266.51,244.6 266.66,244.2 266.81,243.5 266.96,242.7 267.11,241.7 267.26,241.0 267.41,240.7 267.42,240.7 267.56,240.9 267.71,241.6 267.86,242.5 268.01,243.4 268.16,244.1 268.31,244.6 268.46,244.8 268.61,244.9 268.76,245.0 268.91,245.0 269.06,245.0 269.21,245.0 269.36,245.0" fill="none" stroke="#000" stroke-width="1.4" stroke-linejoin="round" stroke-linecap="butt"/>
<polyline points="186.16,244.0 186.31,244.0 186.46,244.0 186.61,244.0 186.76,244.0 186.91,243.8 187.06,243.4 187.21,242.5 187.36,241.1 187.51,239.4 187.66,238.2 187.74,238.1 187.81,238.2 187.96,239.3 188.11,241.0 188.26,242.5 188.41,243.4 188.56,243.9 188.71,244.0 188.86,244.1 189.01,244.1 189.16,244.1 189.31,244.1" fill="none" stroke="#000" stroke-width="1.4" stroke-linejoin="round" stroke-linecap="butt"/>
<polyline points="268.55,245.0 268.70,245.0 268.85,245.0 269.00,245.0 269.15,245.0 269.30,245.0 269.45,244.9 269.60,244.8 269.75,244.6 269.90,244.3 270.05,243.8 270.20,243.1 270.35,242.3 270.50,241.6 270.65,240.9 270.80,240.6 270.85,240.6 270.95,240.7 271.10,241.2 271.25,241.9 271.40,242.7 271.55,243.5 271.70,244.1 271.85,244.5 272.00,244.8 272.15,245.0 272.30,245.1 272.45,245.1 272.60,245.1 272.75,245.2 272.90,245.2 273.05,245.2" fill="none" stroke="#000" stroke-width="1.4" stroke-linejoin="round" stroke-linecap="butt"/>
<polyline points="333.21,247.4 333.36,247.4 333.51,247.4 333.66,247.4 333.81,247.4 333.96,247.4 334.11,247.3 334.26,247.0 334.41,246.6 334.56,245.9 334.71,245.0 334.86,244.3 335.01,243.8 335.07,243.8 335.16,243.9 335.31,244.4 335.46,245.2 335.61,246.1 335.76,246.7 335.91,247.1 336.06,247.4 336.21,247.5 336.36,247.5 336.51,247.5 336.66,247.5 336.81,247.5" fill="none" stroke="#000" stroke-width="1.4" stroke-linejoin="round" stroke-linecap="butt"/>
<polygon points="500.5,228.1 500.9,227.9 501.3,228.6 501.7,228.9 502.1,228.7 502.5,229.0 502.9,228.7 503.3,228.0 503.7,228.7 504.1,228.3 504.5,227.7 504.9,228.1 505.3,228.8 505.7,228.4 506.1,228.2 506.5,228.4 506.9,228.1 507.3,227.3 507.7,227.7 508.1,227.9 508.5,227.3 508.9,228.0 509.3,227.6 509.7,227.7 510.1,228.3 510.5,227.7 510.9,225.9 511.3,225.8 511.7,227.7 512.1,227.3 512.5,227.5 512.9,228.0 513.3,227.6 513.7,226.9 514.1,227.3 514.5,227.4 514.9,227.3 515.3,227.3 515.7,227.8 516.1,227.3 516.5,227.3 516.9,227.9 517.3,227.5 517.7,227.5 518.1,226.8 518.5,226.8 518.9,226.8 519.3,227.1 519.7,226.7 520.1,226.2 520.5,227.1 520.9,226.5 521.3,226.2 521.7,226.4 522.1,226.9 522.5,226.2 522.9,226.6 523.3,225.4 523.7,226.4 524.1,226.0 524.5,226.1 524.9,226.0 525.3,225.8 525.7,225.9 526.1,225.0 526.5,225.3 526.9,225.1 527.3,225.3 527.7,225.2 528.1,224.4 528.5,225.2 528.9,224.8 529.3,223.9 529.7,224.2 530.1,224.6 530.5,223.8 530.9,223.9 531.3,223.6 531.7,224.7 532.1,224.3 532.5,224.2 532.9,223.6 533.3,224.2 533.7,223.2 534.1,224.0 534.5,224.0 534.9,223.7 535.3,223.6 535.7,223.9 536.1,223.6 536.5,223.9 536.9,224.0 537.3,224.9 537.7,223.7 538.1,225.1 538.5,225.1 538.9,226.0 539.3,224.8 539.7,225.3 540.1,224.8 540.5,225.8 540.9,223.8 541.3,225.5 541.7,225.1 542.1,224.5 542.5,225.0 542.9,225.0 543.3,225.2 543.7,225.6 544.1,225.3 544.5,224.9 544.9,225.6 545.3,224.8 545.7,224.7 546.1,225.3 546.5,224.9 546.9,224.5 547.3,225.3 547.7,224.9 548.1,224.6 548.5,225.1 548.9,225.2 549.3,224.2 549.7,225.1 550.1,225.3 550.5,224.7 550.9,225.8 551.3,225.7 551.7,224.5 552.1,225.2 552.5,225.5 552.9,225.3 553.3,225.2 553.7,224.6 554.1,225.5 554.5,224.9 554.9,223.4 555.3,225.6 555.7,225.2 556.1,225.8 556.5,225.5 556.9,224.8 557.3,224.8 557.7,225.4 558.1,224.8 558.5,225.5 558.9,224.8 559.3,224.9 559.7,224.9 560.1,224.7 560.5,224.8 560.9,224.3 561.3,224.3 561.7,224.7 562.1,224.5 562.5,224.8 562.9,225.2 563.3,225.8 563.7,225.1 564.1,225.4 564.5,225.7 564.9,225.0 565.3,224.9 565.7,225.4 566.1,225.5 566.5,224.8 566.9,225.4 567.3,225.1 567.7,225.2 568.1,225.5 568.5,225.2 568.9,224.9 569.3,224.9 569.7,224.7 570.1,226.0 570.5,225.8 570.9,226.2 571.3,225.3 571.7,225.5 572.1,225.5 572.5,225.0 572.9,225.4 573.3,225.8 573.7,225.7 574.1,225.6 574.5,225.4 574.9,225.4 575.3,225.9 575.7,225.2 576.1,225.0 576.5,226.3 576.9,226.1 577.3,225.7 577.7,225.9 578.1,225.4 578.5,226.2 578.9,225.3 579.3,226.1 579.7,225.9 580.1,225.2 580.5,225.4 580.9,226.1 581.3,225.5 581.7,226.7 582.1,226.6 582.5,226.3 582.9,226.0 583.3,225.7 583.7,225.9 584.1,226.6 584.5,225.9 584.9,225.7 585.3,226.6 585.7,226.6 586.1,226.2 586.5,224.9 586.9,226.6 587.3,225.9 587.7,225.8 588.1,224.7 588.5,227.1 588.9,226.7 589.3,227.2 589.7,226.8 590.1,226.8 590.5,226.4 590.9,226.0 591.3,226.1 591.7,225.9 592.1,225.3 592.5,226.3 592.9,225.5 593.3,226.3 593.7,226.3 594.1,226.5 594.5,225.6 594.9,226.1 595.3,226.3 595.7,223.9 596.1,226.2 596.5,226.1 596.9,226.5 597.3,226.5 597.7,225.9 598.1,225.4 598.5,226.8 598.9,226.3 599.3,225.8 599.7,226.7 600.1,226.0 600.5,225.6 600.9,225.7 601.3,226.1 601.7,225.7 602.1,225.5 602.5,225.2 602.9,225.6 603.3,226.0 603.7,225.6 604.1,225.7 604.5,226.3 604.9,226.4 605.3,227.0 605.7,226.9 606.1,227.1 606.5,226.5 606.9,226.9 607.3,227.1 607.7,225.7 608.1,226.3 608.5,226.8 608.9,225.8 609.3,225.4 609.7,226.1 610.1,225.2 610.5,225.2 610.9,225.2 611.3,226.2 611.7,225.4 612.1,227.0 612.5,226.6 612.9,226.6 613.3,226.3 613.7,226.6 614.1,226.0 614.5,226.7 614.9,226.0 615.3,224.0 615.7,226.8 616.1,227.0 616.5,227.2 616.9,226.3 617.3,226.7 617.7,227.0 618.1,226.1 618.5,226.4 618.9,226.3 619.3,227.0 619.7,225.8 620.1,227.0 620.5,225.9 620.9,227.2 621.3,226.4 621.7,225.9 622.1,225.9 622.5,226.5 622.9,225.6 623.3,226.6 623.7,226.7 624.1,226.1 624.5,226.7 624.9,226.4 625.3,226.8 625.7,225.9 626.1,226.2 626.5,226.5 626.9,225.9 627.3,224.1 627.7,226.9 628.1,226.4 628.5,226.3 628.9,226.8 629.3,225.9 629.7,226.2 630.1,226.1 630.5,227.0 630.9,226.7 631.3,226.7 631.7,226.8 632.1,226.0 632.5,226.4 632.9,225.9 633.3,226.0 633.7,226.5 634.1,227.0 634.5,227.2 634.9,226.6 635.3,226.7 635.7,227.0 636.1,226.7 636.5,226.7 636.9,226.5 637.3,226.5 637.7,227.4 638.1,227.2 638.5,226.3 638.9,227.2 639.3,226.7 639.7,227.1 640.1,226.1 640.5,226.7 640.9,226.3 641.3,226.1 641.7,226.1 642.1,227.0 642.5,225.9 642.9,226.1 643.3,226.2 643.7,225.8 644.1,226.3 644.5,225.7 644.9,226.5 645.3,226.5 645.7,226.6 646.1,227.2 646.5,226.1 646.9,226.7 647.3,226.2 647.7,226.3 648.1,226.4 648.5,226.9 648.9,226.0 649.3,226.8 649.7,226.8 650.1,226.7 650.5,227.1 650.9,226.7 651.3,227.5 651.7,227.5 652.1,226.7 652.5,227.5 652.9,227.3 653.3,226.9 653.7,226.8 654.1,226.9 654.5,226.9 654.9,226.9 655.3,227.1 655.7,226.3 656.1,226.1 656.5,226.4 656.9,226.5 657.3,224.8 657.7,226.8 658.1,226.0 658.5,226.0 658.9,226.1 659.3,226.9 659.7,226.1 660.1,225.8 660.5,226.9 660.9,227.0 661.3,226.7 661.7,226.1 662.1,225.4 662.5,226.1 662.9,225.1 663.3,226.9 663.7,226.8 664.1,226.1 664.5,226.4 664.9,226.0 665.3,226.8 665.7,225.8 666.1,226.3 666.5,226.8 666.9,226.8 667.3,226.7 667.7,226.3 668.1,227.4 668.5,226.0 668.9,226.9 669.3,226.1 669.7,226.5 670.1,227.4 670.5,227.3 670.9,227.2 671.3,227.0 671.7,226.4 672.1,226.7 672.5,227.5 672.9,226.4 673.3,226.8 673.7,226.4 674.1,226.5 674.5,225.7 674.9,225.6 675.3,226.3 675.7,226.0 676.1,226.9 676.5,227.1 676.9,226.1 677.3,226.2 677.7,226.0 678.1,226.0 678.5,225.9 678.9,226.5 679.3,226.3 679.7,226.6 680.1,227.2 680.5,227.3 680.9,226.3 681.3,224.7 681.7,226.9 682.1,226.8 682.5,226.2 682.9,227.1 683.3,227.0 683.7,226.8 684.1,226.3 684.5,227.3 684.9,226.5 685.3,226.7 685.7,227.2 686.1,227.0 686.5,227.5 686.9,226.5 687.3,226.4 687.7,226.6 688.1,227.3 688.5,227.1 688.9,226.3 689.3,226.6 689.7,227.7 690.1,227.1 690.5,226.8 690.9,226.2 691.3,226.2 691.7,226.0 692.1,227.1 692.5,227.2 692.9,226.8 693.3,227.1 693.7,226.1 694.1,226.3 694.5,226.9 694.9,226.7 695.3,226.6 695.7,226.0 696.1,227.1 696.5,226.1 696.9,226.8 697.3,227.3 697.7,226.3 698.1,226.8 698.5,227.2 698.9,227.7 699.3,227.3 699.7,226.9 700.1,227.1 700.5,226.7 700.9,226.3 701.3,226.4 701.7,226.9 702.1,226.9 702.5,226.9 702.9,226.6 703.3,226.4 703.7,227.3 704.1,225.0 704.5,227.1 704.9,227.3 705.3,227.0 705.7,226.9 706.1,226.5 706.5,227.2 706.9,227.5 707.3,226.7 707.7,227.3 708.1,226.8 708.5,227.1 708.9,227.2 709.3,226.7 709.7,225.8 710.1,226.7 710.5,226.9 710.9,227.0 711.3,227.6 711.7,227.1 712.1,227.6 712.5,225.5 712.9,227.6 713.3,227.3 713.7,226.7 714.1,226.1 714.5,226.7 714.9,226.6 715.3,226.1 715.7,224.9 716.1,227.5 716.5,227.5 716.9,227.0 717.3,226.5 717.7,226.9 718.1,227.1 718.5,227.5 718.9,226.2 719.3,227.2 719.7,227.5 720.1,227.5 720.5,226.8 720.9,225.9 721.3,227.0 721.7,226.3 722.1,226.6 722.5,227.7 722.9,226.7 723.3,226.8 723.7,227.5 724.1,227.9 724.5,225.9 724.9,227.7 725.3,228.2 725.7,227.9 726.1,226.7 726.5,227.4 726.9,226.5 727.3,227.4 727.7,227.1 728.1,225.6 728.5,226.9 728.9,226.4 729.3,226.7 729.7,226.6 730.1,227.5 730.5,227.5 730.9,227.1 731.3,227.7 731.7,226.8 732.1,227.2 732.5,227.2 732.9,227.0 733.3,226.3 733.7,226.6 734.1,226.4 734.5,227.2 734.9,227.3 735.3,227.8 735.7,227.2 736.1,226.8 736.5,226.8 736.9,227.4 737.3,228.0 737.7,227.0 738.1,227.4 738.5,228.0 738.9,227.8 739.3,226.4 739.7,226.0 740.1,227.7 740.5,227.2 740.9,226.4 741.3,227.0 741.7,226.8 742.1,226.8 742.5,227.8 742.9,227.7 743.3,227.9 743.7,227.6 744.1,227.8 744.5,227.3 744.9,228.0 745.3,227.6 745.7,228.2 746.1,227.6 746.5,228.2 746.9,227.6 747.3,228.1 747.7,227.0 748.1,225.9 748.5,227.4 748.9,227.8 749.3,227.5 749.7,226.9 750.1,227.2 750.5,227.5 750.9,227.5 751.3,227.4 751.7,227.0 752.1,227.8 752.5,227.2 752.9,227.8 753.3,226.7 753.7,225.9 754.1,227.0 754.5,227.2 754.9,227.8 755.3,227.7 755.7,228.0 756.1,227.8 756.5,227.8 756.9,228.0 757.3,228.0 757.7,227.2 758.1,227.8 758.5,227.9 758.9,225.0 759.3,227.4 759.7,227.5 760.1,227.5 760.5,228.1 760.9,227.0 761.3,227.0 761.7,227.9 762.1,227.5 762.5,227.7 762.9,227.3 763.3,228.5 763.7,227.9 764.1,227.2 764.5,228.2 764.9,227.6 765.3,226.9 765.7,226.4 766.1,227.0 766.5,228.0 766.9,227.2 767.3,227.6 767.7,227.9 768.1,227.0 768.5,227.2 768.9,227.8 769.3,227.8 769.7,227.5 770.1,227.4 770.5,228.3 770.9,228.6 771.3,228.0 771.7,228.5 772.1,227.7 772.5,228.2 772.9,227.7 773.3,225.5 773.7,227.2 774.1,228.2 774.5,227.2 774.9,227.2 775.3,227.4 775.7,227.6 776.1,228.3 776.5,227.5 776.9,227.3 777.3,227.5 777.7,228.3 778.1,227.9 778.5,227.8 778.9,227.5 779.3,226.8 779.7,227.6 780.1,227.6 780.5,227.5 780.9,227.8 781.3,228.4 781.7,228.3 782.1,228.4 782.5,228.1 782.9,228.0 783.3,227.9 783.7,228.2 784.1,228.2 784.5,228.3 784.9,227.9 785.3,228.1 785.7,228.6 786.1,226.2 786.5,228.4 786.9,227.7 787.3,226.9 787.7,228.1 788.1,227.3 788.5,228.1 788.9,227.2 789.3,227.3 789.7,227.1 790.1,227.3 790.5,228.2 790.9,227.1 791.3,227.6 791.7,228.1 792.1,227.8 792.5,228.1 792.9,227.8 793.3,227.2 793.7,227.3 794.1,228.5 794.5,227.9 794.9,227.9 795.3,228.1 795.7,227.8 796.1,228.5 796.5,228.0 796.9,228.5 797.3,228.3 797.7,228.7 798.1,229.0 798.5,228.2 798.9,227.7 799.3,228.5 799.7,227.9 800.1,228.0 800.5,228.9 800.9,227.2 801.3,228.1 801.3,231.2 800.9,231.1 800.5,231.4 800.1,231.1 799.7,230.8 799.3,231.0 798.9,231.3 798.5,231.1 798.1,231.6 797.7,231.5 797.3,231.6 796.9,231.9 796.5,231.5 796.1,230.9 795.7,230.8 795.3,231.1 794.9,232.1 794.5,232.0 794.1,231.6 793.7,231.2 793.3,230.9 792.9,231.3 792.5,231.5 792.1,230.5 791.7,233.1 791.3,230.7 790.9,231.2 790.5,231.2 790.1,231.4 789.7,231.2 789.3,230.9 788.9,231.2 788.5,231.6 788.1,230.9 787.7,231.2 787.3,230.9 786.9,230.9 786.5,231.2 786.1,230.8 785.7,231.6 785.3,231.2 784.9,232.0 784.5,231.7 784.1,231.2 783.7,230.6 783.3,230.5 782.9,231.8 782.5,231.6 782.1,230.9 781.7,232.0 781.3,231.1 780.9,231.1 780.5,232.2 780.1,230.6 779.7,230.9 779.3,231.0 778.9,231.4 778.5,230.7 778.1,230.3 777.7,231.3 777.3,231.3 776.9,230.9 776.5,231.8 776.1,231.8 775.7,231.4 775.3,230.5 774.9,231.0 774.5,231.0 774.1,231.1 773.7,231.0 773.3,230.9 772.9,232.0 772.5,231.0 772.1,231.1 771.7,231.2 771.3,230.8 770.9,231.8 770.5,231.8 770.1,231.0 769.7,230.5 769.3,231.6 768.9,231.2 768.5,231.2 768.1,230.8 767.7,231.0 767.3,231.9 766.9,230.8 766.5,231.6 766.1,230.9 765.7,231.3 765.3,231.2 764.9,231.9 764.5,231.5 764.1,231.6 763.7,232.0 763.3,231.7 762.9,231.9 762.5,231.7 762.1,230.9 761.7,231.2 761.3,230.9 760.9,231.5 760.5,231.0 760.1,231.4 759.7,230.6 759.3,231.6 758.9,232.1 758.5,230.3 758.1,231.3 757.7,231.4 757.3,230.6 756.9,230.8 756.5,230.9 756.1,231.6 755.7,231.7 755.3,231.5 754.9,230.5 754.5,231.8 754.1,232.2 753.7,230.6 753.3,231.5 752.9,230.6 752.5,230.9 752.1,230.5 751.7,230.2 751.3,231.0 750.9,230.7 750.5,230.7 750.1,231.0 749.7,231.4 749.3,231.4 748.9,230.6 748.5,231.7 748.1,230.2 747.7,230.9 747.3,231.2 746.9,231.4 746.5,231.9 746.1,231.1 745.7,231.8 745.3,231.6 744.9,231.3 744.5,231.5 744.1,231.2 743.7,230.8 743.3,231.3 742.9,230.9 742.5,230.4 742.1,231.3 741.7,231.0 741.3,231.3 740.9,231.2 740.5,230.5 740.1,231.2 739.7,230.5 739.3,230.3 738.9,231.0 738.5,231.1 738.1,230.6 737.7,231.3 737.3,230.7 736.9,231.2 736.5,230.6 736.1,230.6 735.7,231.2 735.3,230.5 734.9,230.6 734.5,230.2 734.1,230.6 733.7,230.9 733.3,230.7 732.9,230.7 732.5,231.6 732.1,231.0 731.7,230.4 731.3,230.9 730.9,230.4 730.5,230.5 730.1,231.0 729.7,230.5 729.3,231.3 728.9,230.9 728.5,231.2 728.1,230.9 727.7,230.5 727.3,230.6 726.9,231.1 726.5,231.1 726.1,230.6 725.7,231.3 725.3,231.1 724.9,231.5 724.5,231.9 724.1,232.2 723.7,231.2 723.3,230.9 722.9,230.8 722.5,230.3 722.1,230.2 721.7,230.4 721.3,230.2 720.9,230.4 720.5,229.9 720.1,230.9 719.7,230.2 719.3,231.1 718.9,229.9 718.5,230.7 718.1,230.9 717.7,232.5 717.3,231.2 716.9,231.3 716.5,230.5 716.1,231.0 715.7,231.1 715.3,230.4 714.9,230.9 714.5,230.3 714.1,231.3 713.7,230.2 713.3,230.3 712.9,230.1 712.5,230.4 712.1,231.0 711.7,230.4 711.3,231.1 710.9,231.1 710.5,231.9 710.1,230.5 709.7,231.3 709.3,230.2 708.9,230.3 708.5,230.8 708.1,230.5 707.7,230.9 707.3,230.2 706.9,230.3 706.5,230.9 706.1,231.1 705.7,230.2 705.3,229.9 704.9,230.2 704.5,230.2 704.1,230.4 703.7,231.1 703.3,230.3 702.9,230.3 702.5,231.0 702.1,230.2 701.7,230.7 701.3,230.7 700.9,230.3 700.5,231.1 700.1,230.2 699.7,230.9 699.3,230.5 698.9,230.6 698.5,231.1 698.1,230.0 697.7,230.4 697.3,230.7 696.9,229.7 696.5,229.9 696.1,229.5 695.7,229.8 695.3,230.0 694.9,229.9 694.5,230.4 694.1,231.6 693.7,229.8 693.3,229.8 692.9,230.0 692.5,230.7 692.1,230.5 691.7,229.9 691.3,230.3 690.9,230.0 690.5,230.5 690.1,231.7 689.7,230.8 689.3,230.9 688.9,230.2 688.5,231.0 688.1,230.9 687.7,230.0 687.3,231.0 686.9,231.1 686.5,230.2 686.1,231.3 685.7,230.2 685.3,230.9 684.9,230.8 684.5,230.5 684.1,230.4 683.7,230.4 683.3,230.2 682.9,230.3 682.5,230.9 682.1,230.2 681.7,230.1 681.3,230.7 680.9,230.3 680.5,230.3 680.1,230.4 679.7,230.2 679.3,229.6 678.9,229.9 678.5,229.4 678.1,229.4 677.7,230.2 677.3,230.4 676.9,229.7 676.5,230.7 676.1,230.6 675.7,229.6 675.3,229.2 674.9,230.2 674.5,230.0 674.1,230.0 673.7,229.5 673.3,229.6 672.9,229.8 672.5,231.0 672.1,230.6 671.7,230.5 671.3,231.0 670.9,230.3 670.5,231.2 670.1,230.9 669.7,230.9 669.3,230.6 668.9,229.9 668.5,230.6 668.1,230.1 667.7,230.1 667.3,230.6 666.9,229.8 666.5,229.6 666.1,230.4 665.7,229.8 665.3,229.5 664.9,230.3 664.5,230.2 664.1,230.2 663.7,230.5 663.3,230.3 662.9,230.8 662.5,229.6 662.1,230.3 661.7,230.7 661.3,229.9 660.9,231.6 660.5,230.4 660.1,229.6 659.7,229.3 659.3,229.8 658.9,229.9 658.5,230.0 658.1,230.2 657.7,230.1 657.3,230.7 656.9,230.5 656.5,230.6 656.1,230.7 655.7,229.8 655.3,230.2 654.9,229.8 654.5,229.5 654.1,230.7 653.7,230.7 653.3,229.8 652.9,231.0 652.5,231.1 652.1,230.5 651.7,230.2 651.3,229.9 650.9,230.3 650.5,230.6 650.1,229.8 649.7,230.0 649.3,229.9 648.9,229.9 648.5,230.7 648.1,230.6 647.7,230.8 647.3,229.9 646.9,229.7 646.5,230.0 646.1,230.2 645.7,230.5 645.3,229.9 644.9,230.2 644.5,230.0 644.1,229.1 643.7,229.5 643.3,229.1 642.9,230.4 642.5,230.6 642.1,230.3 641.7,229.9 641.3,229.5 640.9,230.3 640.5,229.3 640.1,229.8 639.7,230.6 639.3,230.6 638.9,230.9 638.5,230.5 638.1,230.4 637.7,230.5 637.3,230.0 636.9,230.7 636.5,229.9 636.1,230.4 635.7,230.1 635.3,230.3 634.9,230.8 634.5,231.4 634.1,230.2 633.7,230.0 633.3,229.4 632.9,230.0 632.5,230.4 632.1,230.7 631.7,229.7 631.3,230.4 630.9,229.5 630.5,230.0 630.1,230.1 629.7,230.4 629.3,230.0 628.9,229.6 628.5,230.1 628.1,229.2 627.7,230.2 627.3,230.6 626.9,230.0 626.5,230.5 626.1,230.0 625.7,230.2 625.3,230.2 624.9,229.4 624.5,230.6 624.1,230.5 623.7,229.5 623.3,229.1 622.9,229.3 622.5,229.3 622.1,230.2 621.7,229.9 621.3,230.2 620.9,230.7 620.5,230.5 620.1,230.3 619.7,230.5 619.3,229.8 618.9,230.1 618.5,230.7 618.1,230.1 617.7,230.2 617.3,230.3 616.9,229.6 616.5,229.6 616.1,229.5 615.7,229.4 615.3,229.5 614.9,229.9 614.5,231.1 614.1,230.5 613.7,229.6 613.3,230.2 612.9,229.8 612.5,229.7 612.1,229.8 611.7,229.3 611.3,228.9 610.9,229.8 610.5,229.7 610.1,229.6 609.7,229.9 609.3,229.1 608.9,229.7 608.5,230.4 608.1,229.4 607.7,229.6 607.3,230.5 606.9,230.1 606.5,229.7 606.1,230.0 605.7,229.8 605.3,229.4 604.9,229.6 604.5,229.9 604.1,228.8 603.7,229.7 603.3,229.1 602.9,230.7 602.5,228.9 602.1,229.9 601.7,229.6 601.3,229.9 600.9,230.1 600.5,229.9 600.1,230.1 599.7,229.8 599.3,230.2 598.9,229.2 598.5,229.2 598.1,229.3 597.7,228.8 597.3,229.3 596.9,229.3 596.5,230.1 596.1,229.2 595.7,229.8 595.3,228.7 594.9,229.6 594.5,229.4 594.1,230.0 593.7,230.4 593.3,229.7 592.9,229.2 592.5,229.2 592.1,229.3 591.7,229.3 591.3,229.7 590.9,229.3 590.5,229.5 590.1,230.0 589.7,230.7 589.3,229.8 588.9,229.7 588.5,230.0 588.1,230.1 587.7,229.9 587.3,230.0 586.9,229.4 586.5,229.1 586.1,230.1 585.7,230.0 585.3,229.4 584.9,229.3 584.5,230.5 584.1,230.4 583.7,229.8 583.3,229.7 582.9,230.3 582.5,229.5 582.1,229.0 581.7,229.1 581.3,229.0 580.9,229.6 580.5,229.1 580.1,229.9 579.7,229.2 579.3,229.2 578.9,229.0 578.5,229.1 578.1,229.4 577.7,230.0 577.3,230.0 576.9,228.9 576.5,228.7 576.1,228.8 575.7,229.1 575.3,228.9 574.9,229.3 574.5,229.0 574.1,229.7 573.7,229.2 573.3,229.2 572.9,229.2 572.5,228.8 572.1,228.7 571.7,228.4 571.3,229.6 570.9,229.5 570.5,229.0 570.1,229.0 569.7,229.3 569.3,228.8 568.9,228.9 568.5,228.6 568.1,228.5 567.7,228.3 567.3,228.2 566.9,229.1 566.5,228.9 566.1,229.1 565.7,228.6 565.3,228.4 564.9,229.1 564.5,229.2 564.1,229.3 563.7,228.5 563.3,228.3 562.9,228.4 562.5,228.1 562.1,227.8 561.7,227.8 561.3,227.9 560.9,228.4 560.5,228.8 560.1,229.0 559.7,228.5 559.3,228.6 558.9,228.3 558.5,228.7 558.1,228.4 557.7,228.8 557.3,228.4 556.9,228.7 556.5,228.0 556.1,228.5 555.7,229.0 555.3,229.2 554.9,228.5 554.5,228.9 554.1,228.8 553.7,228.3 553.3,228.7 552.9,228.2 552.5,227.9 552.1,227.8 551.7,228.8 551.3,228.7 550.9,228.7 550.5,228.1 550.1,228.9 549.7,228.6 549.3,229.2 548.9,230.0 548.5,228.4 548.1,228.7 547.7,228.3 547.3,228.0 546.9,228.4 546.5,227.8 546.1,229.1 545.7,228.9 545.3,228.0 544.9,228.9 544.5,227.9 544.1,228.4 543.7,228.2 543.3,228.7 542.9,228.4 542.5,228.8 542.1,228.8 541.7,228.5 541.3,227.9 540.9,228.4 540.5,228.6 540.1,228.0 539.7,228.4 539.3,228.1 538.9,228.8 538.5,228.6 538.1,228.7 537.7,228.2 537.3,228.3 536.9,227.4 536.5,227.5 536.1,226.5 535.7,226.4 535.3,226.9 534.9,226.8 534.5,227.4 534.1,226.5 533.7,227.5 533.3,227.1 532.9,226.7 532.5,227.6 532.1,227.4 531.7,227.2 531.3,227.2 530.9,227.3 530.5,227.7 530.1,227.5 529.7,227.8 529.3,228.0 528.9,227.7 528.5,227.6 528.1,228.7 527.7,228.1 527.3,228.5 526.9,228.1 526.5,228.5 526.1,228.5 525.7,228.5 525.3,228.8 524.9,228.8 524.5,229.4 524.1,229.1 523.7,229.9 523.3,228.9 522.9,230.8 522.5,228.6 522.1,229.9 521.7,230.2 521.3,229.3 520.9,230.1 520.5,229.7 520.1,230.4 519.7,230.6 519.3,230.2 518.9,230.7 518.5,231.6 518.1,230.9 517.7,230.6 517.3,229.9 516.9,231.1 516.5,229.7 516.1,229.9 515.7,231.4 515.3,230.3 514.9,230.5 514.5,230.0 514.1,229.9 513.7,230.7 513.3,230.0 512.9,231.1 512.5,230.7 512.1,230.8 511.7,230.4 511.3,230.7 510.9,230.5 510.5,230.7 510.1,230.7 509.7,231.4 509.3,231.5 508.9,231.5 508.5,231.3 508.1,230.7 507.7,230.3 507.3,230.5 506.9,231.4 506.5,231.2 506.1,232.1 505.7,230.8 505.3,231.5 504.9,231.9 504.5,230.8 504.1,231.0 503.7,231.8 503.3,230.4 502.9,231.7 502.5,231.7 502.1,231.8 501.7,231.3 501.3,231.0 500.9,230.8 500.5,231.3" fill="#000" stroke="#000" stroke-width="0.4" stroke-linejoin="round"/>
<polyline points="509.40,229.3 509.55,229.3 509.70,229.3 509.85,229.2 510.00,229.2 510.15,229.1 510.30,229.0 510.45,228.7 510.60,228.1 510.75,227.2 510.90,225.8 511.05,224.0 511.20,221.8 511.35,219.7 511.50,217.9 511.65,217.1 511.70,217.0 511.80,217.2 511.95,218.4 512.10,220.3 512.25,222.5 512.40,224.5 512.55,226.2 512.70,227.4 512.85,228.2 513.00,228.6 513.15,228.8 513.30,228.9 513.45,229.0 513.60,229.0 513.75,229.0 513.90,229.0" fill="none" stroke="#000" stroke-width="1.4" stroke-linejoin="round" stroke-linecap="butt"/>
<polyline points="514.70,228.9 514.85,228.9 515.00,228.9 515.15,228.9 515.30,228.8 515.45,228.7 515.60,228.6 515.75,228.3 515.90,227.7 516.05,226.7 516.20,225.3 516.35,223.3 516.50,221.1 516.65,218.9 516.80,217.1 516.95,216.2 517.00,216.1 517.10,216.3 517.25,217.5 517.40,219.5 517.55,221.7 517.70,223.9 517.85,225.6 518.00,226.8 518.15,227.6 518.30,228.1 518.45,228.3 518.60,228.4 518.75,228.4 518.90,228.4 519.05,228.4 519.20,228.4" fill="none" stroke="#000" stroke-width="1.4" stroke-linejoin="round" stroke-linecap="butt"/>
<polyline points="520.10,228.3 520.25,228.3 520.40,228.2 520.55,228.2 520.70,228.2 520.85,228.1 521.00,228.0 521.15,227.7 521.30,227.2 521.45,226.5 521.60,225.3 521.75,223.7 521.90,221.9 522.05,220.1 522.20,218.7 522.35,218.0 522.40,217.9 522.50,218.1 522.65,219.1 522.80,220.6 522.95,222.4 523.10,224.1 523.25,225.5 523.40,226.5 523.55,227.1 523.70,227.5 523.85,227.7 524.00,227.7 524.15,227.7 524.30,227.7 524.45,227.6 524.60,227.6" fill="none" stroke="#000" stroke-width="1.4" stroke-linejoin="round" stroke-linecap="butt"/>
<polyline points="525.20,227.4 525.35,227.3 525.50,227.3 525.65,227.2 525.80,227.2 525.95,227.1 526.10,227.0 526.25,226.8 526.40,226.6 526.55,226.1 526.70,225.5 526.85,224.7 527.00,223.8 527.15,222.9 527.30,222.1 527.45,221.7 527.50,221.7 527.60,221.8 527.75,222.2 527.90,222.9 528.05,223.8 528.20,224.5 528.35,225.2 528.50,225.6 528.65,225.9 528.80,226.0 528.95,226.1 529.10,226.1 529.25,226.0 529.40,226.0 529.55,225.9 529.70,225.9" fill="none" stroke="#000" stroke-width="1.4" stroke-linejoin="round" stroke-linecap="butt"/>
<polyline points="528.70,226.2 528.85,226.2 529.00,226.1 529.15,226.1 529.30,226.0 529.45,225.9 529.60,225.8 529.75,225.6 529.90,225.3 530.05,224.9 530.20,224.3 530.35,223.4 530.50,222.4 530.65,221.4 530.80,220.6 530.95,220.2 531.00,220.2 531.10,220.3 531.25,220.8 531.40,221.6 531.55,222.6 531.70,223.5 531.85,224.3 532.00,224.8 532.15,225.1 532.30,225.3 532.45,225.4 532.60,225.4 532.75,225.4 532.90,225.4 533.05,225.4 533.20,225.4" fill="none" stroke="#000" stroke-width="1.4" stroke-linejoin="round" stroke-linecap="butt"/>
<polyline points="534.60,225.4 534.75,225.5 534.90,225.5 535.05,225.5 535.20,225.5 535.35,225.2 535.50,224.7 535.65,223.4 535.80,220.9 535.95,216.9 536.10,211.2 536.25,204.2 536.40,197.3 536.55,192.2 536.70,190.3 536.85,192.3 537.00,197.5 537.15,204.4 537.30,211.5 537.45,217.3 537.60,221.4 537.75,223.9 537.90,225.3 538.05,225.9 538.20,226.2 538.35,226.3 538.50,226.4 538.65,226.5 538.80,226.5" fill="none" stroke="#000" stroke-width="1.5" stroke-linejoin="round" stroke-linecap="butt"/>
<polyline points="543.24,226.8 543.39,226.8 543.54,226.8 543.69,226.7 543.84,226.5 543.99,225.9 544.14,224.1 544.29,220.2 544.44,213.6 544.59,205.1 544.74,197.3 544.89,193.9 544.90,193.9 545.04,196.6 545.19,203.9 545.34,212.5 545.49,219.5 545.64,223.7 545.79,225.7 545.94,226.5 546.09,226.7 546.24,226.7 546.39,226.8 546.54,226.8" fill="none" stroke="#000" stroke-width="1.5" stroke-linejoin="round" stroke-linecap="butt"/>
<polyline points="545.44,226.8 545.59,226.8 545.74,226.8 545.89,226.7 546.04,226.6 546.19,226.3 546.34,225.4 546.49,223.4 546.64,220.0 546.79,215.7 546.94,211.8 547.09,210.0 547.10,210.0 547.24,211.4 547.39,215.1 547.54,219.5 547.69,223.0 547.84,225.2 547.99,226.2 548.14,226.6 548.29,226.7 548.44,226.7 548.59,226.7 548.74,226.7" fill="none" stroke="#000" stroke-width="1.4" stroke-linejoin="round" stroke-linecap="butt"/>
<polyline points="549.44,226.7 549.59,226.7 549.74,226.7 549.89,226.7 550.04,226.6 550.19,226.2 550.34,225.0 550.49,222.6 550.64,218.4 550.79,213.1 550.94,208.2 551.09,206.0 551.10,206.0 551.24,207.7 551.39,212.3 551.54,217.8 551.69,222.1 551.84,224.8 551.99,226.0 552.14,226.5 552.29,226.7 552.44,226.7 552.59,226.7 552.74,226.7" fill="none" stroke="#000" stroke-width="1.4" stroke-linejoin="round" stroke-linecap="butt"/>
<polyline points="556.70,226.7 556.85,226.7 557.00,226.7 557.15,226.6 557.30,226.2 557.45,225.4 557.60,223.4 557.75,219.4 557.90,211.9 558.05,199.2 558.20,180.3 558.35,154.9 558.50,125.3 558.65,95.8 558.80,72.4 558.95,60.3 559.00,59.5 559.10,62.8 559.25,79.2 559.40,105.3 559.55,135.4 559.70,164.0 559.85,187.4 560.00,204.2 560.15,214.9 560.30,221.1 560.45,224.3 560.60,225.8 560.75,226.4 560.90,226.7 561.05,226.8 561.20,226.8" fill="none" stroke="#000" stroke-width="1.5" stroke-linejoin="round" stroke-linecap="butt"/>
<polyline points="565.24,226.9 565.39,226.9 565.54,226.9 565.69,226.9 565.84,226.8 565.99,226.6 566.14,225.8 566.29,224.2 566.44,221.4 566.59,217.8 566.74,214.5 566.89,213.1 566.90,213.1 567.04,214.2 567.19,217.4 567.34,221.0 567.49,223.9 567.64,225.7 567.79,226.6 567.94,226.9 568.09,227.0 568.24,227.1 568.39,227.1 568.54,227.1" fill="none" stroke="#000" stroke-width="1.4" stroke-linejoin="round" stroke-linecap="butt"/>
<polyline points="568.64,227.1 568.79,227.1 568.94,227.1 569.09,227.1 569.24,227.0 569.39,226.7 569.54,225.9 569.69,224.1 569.84,221.1 569.99,217.2 570.14,213.7 570.29,212.1 570.30,212.1 570.44,213.3 570.59,216.7 570.74,220.7 570.89,223.9 571.04,225.8 571.19,226.7 571.34,227.1 571.49,227.2 571.64,227.2 571.79,227.2 571.94,227.2" fill="none" stroke="#000" stroke-width="1.4" stroke-linejoin="round" stroke-linecap="butt"/>
<polyline points="572.94,227.3 573.09,227.3 573.24,227.3 573.39,227.2 573.54,226.9 573.69,225.8 573.84,222.9 573.99,216.6 574.14,205.8 574.29,191.8 574.44,179.1 574.59,173.5 574.60,173.5 574.74,177.9 574.89,189.9 575.04,204.1 575.19,215.5 575.34,222.4 575.49,225.7 575.64,226.9 575.79,227.3 575.94,227.4 576.09,227.5 576.24,227.5" fill="none" stroke="#000" stroke-width="1.5" stroke-linejoin="round" stroke-linecap="butt"/>
<polyline points="582.84,227.8 582.99,227.8 583.14,227.8 583.29,227.8 583.44,227.8 583.59,227.6 583.74,227.1 583.89,226.2 584.04,224.5 584.19,222.3 584.34,220.4 584.49,219.5 584.50,219.5 584.64,220.2 584.79,222.1 584.94,224.3 585.09,226.0 585.24,227.1 585.39,227.6 585.54,227.8 585.69,227.9 585.84,227.9 585.99,227.9 586.14,227.9" fill="none" stroke="#000" stroke-width="1.4" stroke-linejoin="round" stroke-linecap="butt"/>
<polyline points="590.04,227.9 590.19,227.9 590.34,227.9 590.49,227.9 590.64,227.9 590.79,227.7 590.94,227.2 591.09,226.2 591.24,224.4 591.39,222.0 591.54,219.9 591.69,219.0 591.70,219.0 591.84,219.7 591.99,221.7 592.14,224.1 592.29,226.0 592.44,227.1 592.59,227.7 592.74,227.9 592.89,227.9 593.04,227.9 593.19,228.0 593.34,228.0" fill="none" stroke="#000" stroke-width="1.4" stroke-linejoin="round" stroke-linecap="butt"/>
<polyline points="596.94,228.0 597.09,228.0 597.24,228.0 597.39,228.0 597.54,227.9 597.69,227.7 597.84,227.3 597.99,226.3 598.14,224.6 598.29,222.4 598.44,220.4 598.59,219.5 598.60,219.5 598.74,220.2 598.89,222.1 599.04,224.3 599.19,226.1 599.34,227.2 599.49,227.7 599.64,227.9 599.79,228.0 599.94,228.0 600.09,228.0 600.24,228.0" fill="none" stroke="#000" stroke-width="1.4" stroke-linejoin="round" stroke-linecap="butt"/>
<polyline points="606.24,228.0 606.39,228.0 606.54,228.0 606.69,227.8 606.84,227.1 606.99,224.6 607.14,218.0 607.29,203.5 607.44,178.9 607.59,147.1 607.74,118.3 607.89,105.5 607.90,105.4 608.04,115.4 608.19,142.8 608.34,175.0 608.49,200.8 608.64,216.6 608.79,224.1 608.94,226.9 609.09,227.8 609.24,228.0 609.39,228.1 609.54,228.1" fill="none" stroke="#000" stroke-width="1.5" stroke-linejoin="round" stroke-linecap="butt"/>
<polyline points="618.54,228.1 618.69,228.1 618.84,228.1 618.99,228.1 619.14,227.8 619.29,227.1 619.44,225.0 619.59,220.5 619.74,212.8 619.89,202.8 620.04,193.8 620.19,189.8 620.20,189.8 620.34,192.9 620.49,201.5 620.64,211.5 620.79,219.6 620.94,224.6 621.09,226.9 621.24,227.8 621.39,228.1 621.54,228.1 621.69,228.1 621.84,228.2" fill="none" stroke="#000" stroke-width="1.5" stroke-linejoin="round" stroke-linecap="butt"/>
<polyline points="626.84,228.2 626.99,228.2 627.14,228.2 627.29,228.2 627.44,228.1 627.59,228.0 627.74,227.7 627.89,227.0 628.04,225.9 628.19,224.4 628.34,223.0 628.49,222.4 628.50,222.4 628.64,222.9 628.79,224.2 628.94,225.7 629.09,226.9 629.24,227.7 629.39,228.0 629.54,228.2 629.69,228.2 629.84,228.2 629.99,228.2 630.14,228.2" fill="none" stroke="#000" stroke-width="1.4" stroke-linejoin="round" stroke-linecap="butt"/>
<polyline points="636.54,228.3 636.69,228.3 636.84,228.3 636.99,228.2 637.14,228.2 637.29,228.1 637.44,227.8 637.59,227.1 637.74,225.9 637.89,224.4 638.04,223.0 638.19,222.4 638.20,222.4 638.34,222.9 638.49,224.2 638.64,225.7 638.79,227.0 638.94,227.7 639.09,228.1 639.24,228.2 639.39,228.3 639.54,228.3 639.69,228.3 639.84,228.3" fill="none" stroke="#000" stroke-width="1.4" stroke-linejoin="round" stroke-linecap="butt"/>
<polyline points="668.10,228.5 668.25,228.5 668.40,228.5 668.55,228.4 668.70,228.4 668.85,228.2 669.00,227.7 669.15,226.8 669.30,225.2 669.45,222.3 669.60,218.1 669.75,212.4 669.90,205.7 670.05,199.1 670.20,193.9 670.35,191.2 670.40,191.0 670.50,191.7 670.65,195.4 670.80,201.3 670.95,208.0 671.10,214.4 671.25,219.7 671.40,223.4 671.55,225.8 671.70,227.2 671.85,227.9 672.00,228.3 672.15,228.4 672.30,228.5 672.45,228.5 672.60,228.5" fill="none" stroke="#000" stroke-width="1.5" stroke-linejoin="round" stroke-linecap="butt"/>
<polyline points="663.90,228.4 664.20,228.4 664.50,228.4 664.80,228.4 665.10,228.4 665.40,228.4 665.70,228.4 666.00,228.3 666.30,228.2 666.60,228.0 666.90,227.8 667.20,227.4 667.50,227.0 667.80,226.4 668.10,225.7 668.40,225.0 668.70,224.2 669.00,223.6 669.30,223.1 669.60,222.8 669.80,222.7 669.90,222.7 670.20,222.9 670.50,223.4 670.80,224.0 671.10,224.7 671.40,225.5 671.70,226.2 672.00,226.8 672.30,227.3 672.60,227.7 672.90,228.0 673.20,228.2 673.50,228.3 673.80,228.4 674.10,228.5 674.40,228.5 674.70,228.5 675.00,228.5 675.30,228.5 675.60,228.5" fill="none" stroke="#000" stroke-width="1.4" stroke-linejoin="round" stroke-linecap="butt"/>
<polyline points="692.80,228.6 692.95,228.6 693.10,228.6 693.25,228.6 693.40,228.6 693.55,228.4 693.70,228.0 693.85,227.2 694.00,225.8 694.15,223.3 694.30,219.6 694.45,214.6 694.60,208.8 694.75,203.1 694.90,198.5 695.05,196.2 695.10,196.0 695.20,196.6 695.35,199.8 695.50,204.9 695.65,210.8 695.80,216.4 695.95,221.0 696.10,224.3 696.25,226.4 696.40,227.6 696.55,228.2 696.70,228.5 696.85,228.6 697.00,228.7 697.15,228.7 697.30,228.7" fill="none" stroke="#000" stroke-width="1.5" stroke-linejoin="round" stroke-linecap="butt"/>
<polyline points="711.60,228.8 711.75,228.8 711.90,228.8 712.05,228.8 712.20,228.7 712.35,228.6 712.50,228.3 712.65,227.6 712.80,226.3 712.95,224.2 713.10,221.0 713.25,216.8 713.40,211.8 713.55,206.9 713.70,203.0 713.85,200.9 713.90,200.8 714.00,201.4 714.15,204.1 714.30,208.5 714.45,213.5 714.60,218.3 714.75,222.2 714.90,225.1 715.05,226.9 715.20,227.9 715.35,228.4 715.50,228.7 715.65,228.8 715.80,228.8 715.95,228.9 716.10,228.9" fill="none" stroke="#000" stroke-width="1.5" stroke-linejoin="round" stroke-linecap="butt"/>
<polyline points="707.80,228.8 708.10,228.8 708.40,228.8 708.70,228.8 709.00,228.8 709.30,228.7 709.60,228.7 709.90,228.6 710.20,228.4 710.50,228.2 710.80,227.8 711.10,227.3 711.40,226.7 711.70,225.9 712.00,225.1 712.30,224.3 712.60,223.5 712.90,223.0 713.20,222.7 713.30,222.7 713.50,222.8 713.80,223.1 714.10,223.8 714.40,224.6 714.70,225.4 715.00,226.2 715.30,227.0 715.60,227.6 715.90,228.0 716.20,228.4 716.50,228.6 716.80,228.7 717.10,228.8 717.40,228.8 717.70,228.9 718.00,228.9 718.30,228.9 718.60,228.9" fill="none" stroke="#000" stroke-width="1.4" stroke-linejoin="round" stroke-linecap="butt"/>
<polyline points="745.44,229.2 745.59,229.2 745.74,229.2 745.89,229.1 746.04,229.1 746.19,229.0 746.34,228.6 746.49,227.9 746.64,226.5 746.79,224.8 746.94,223.3 747.09,222.6 747.10,222.6 747.24,223.1 747.39,224.6 747.54,226.3 747.69,227.7 747.84,228.6 747.99,229.0 748.14,229.1 748.29,229.2 748.44,229.2 748.59,229.2 748.74,229.2" fill="none" stroke="#000" stroke-width="1.4" stroke-linejoin="round" stroke-linecap="butt"/>
<polyline points="752.70,229.2 752.85,229.2 753.00,229.2 753.15,229.2 753.30,229.2 753.45,229.2 753.60,229.1 753.75,229.0 753.90,228.8 754.05,228.5 754.20,228.0 754.35,227.2 754.50,226.2 754.65,225.0 754.80,223.6 754.95,222.3 755.10,221.1 755.25,220.3 755.40,220.0 755.55,220.3 755.70,221.1 755.85,222.3 756.00,223.6 756.15,225.0 756.30,226.3 756.45,227.3 756.60,228.0 756.75,228.5 756.90,228.9 757.05,229.1 757.20,229.2 757.35,229.2 757.50,229.3 757.65,229.3 757.80,229.3 757.95,229.3 758.10,229.3" fill="none" stroke="#000" stroke-width="1.4" stroke-linejoin="round" stroke-linecap="butt"/>
<polyline points="509.12,229.3 509.27,229.3 509.42,229.3 509.57,229.3 509.72,229.2 509.87,229.2 510.02,229.1 510.17,228.9 510.32,228.6 510.47,228.1 510.62,227.3 510.77,226.4 510.92,225.3 511.07,224.5 511.22,224.0 511.28,224.0 511.37,224.1 511.52,224.6 511.67,225.5 511.82,226.5 511.97,227.4 512.12,228.1 512.27,228.6 512.42,228.8 512.57,229.0 512.72,229.0 512.87,229.0 513.02,229.0 513.17,229.0 513.32,229.0" fill="none" stroke="#000" stroke-width="1.4" stroke-linejoin="round" stroke-linecap="butt"/>
<polyline points="517.37,228.6 517.52,228.6 517.67,228.6 517.82,228.5 517.97,228.5 518.12,228.4 518.27,228.2 518.42,227.8 518.57,227.1 518.72,226.0 518.87,224.7 519.02,223.5 519.17,222.7 519.24,222.6 519.32,222.7 519.47,223.5 519.62,224.7 519.77,226.0 519.92,227.0 520.07,227.7 520.22,228.0 520.37,228.2 520.52,228.2 520.67,228.2 520.82,228.2 520.97,228.2" fill="none" stroke="#000" stroke-width="1.4" stroke-linejoin="round" stroke-linecap="butt"/>
<polyline points="551.40,226.7 551.55,226.7 551.70,226.7 551.85,226.7 552.00,226.7 552.15,226.7 552.30,226.6 552.45,226.5 552.60,226.3 552.75,225.9 552.90,225.3 553.05,224.5 553.20,223.5 553.35,222.6 553.50,221.9 553.65,221.5 553.70,221.4 553.80,221.6 553.95,222.1 554.10,222.9 554.25,223.8 554.40,224.7 554.55,225.5 554.70,226.0 554.85,226.3 555.00,226.5 555.15,226.6 555.30,226.7 555.45,226.7 555.60,226.7 555.75,226.7 555.90,226.7" fill="none" stroke="#000" stroke-width="1.4" stroke-linejoin="round" stroke-linecap="butt"/>
<polyline points="514.29,228.9 514.44,228.9 514.59,228.9 514.74,228.9 514.89,228.9 515.04,228.8 515.19,228.7 515.34,228.5 515.49,228.1 515.64,227.5 515.79,226.8 515.94,226.3 516.07,226.2 516.09,226.2 516.24,226.4 516.39,227.0 516.54,227.6 516.69,228.1 516.84,228.4 516.99,228.5 517.14,228.6 517.29,228.6 517.44,228.6 517.59,228.6 517.74,228.6" fill="none" stroke="#000" stroke-width="1.4" stroke-linejoin="round" stroke-linecap="butt"/>
<polyline points="544.96,226.8 545.11,226.8 545.26,226.8 545.41,226.8 545.56,226.7 545.71,226.7 545.86,226.6 546.01,226.5 546.16,226.2 546.31,225.8 546.46,225.1 546.61,224.3 546.76,223.3 546.91,222.5 547.06,221.8 547.19,221.7 547.21,221.7 547.36,221.9 547.51,222.6 547.66,223.5 547.81,224.5 547.96,225.3 548.11,225.9 548.26,226.3 548.41,226.5 548.56,226.6 548.71,226.7 548.86,226.7 549.01,226.7 549.16,226.7 549.31,226.7" fill="none" stroke="#000" stroke-width="1.4" stroke-linejoin="round" stroke-linecap="butt"/>
<polyline points="558.04,226.8 558.19,226.8 558.34,226.8 558.49,226.8 558.64,226.7 558.79,226.6 558.94,226.1 559.09,225.2 559.24,223.7 559.39,221.7 559.54,220.1 559.67,219.5 559.69,219.6 559.84,220.4 559.99,222.2 560.14,224.1 560.29,225.5 560.44,226.3 560.59,226.6 560.74,226.8 560.89,226.8 561.04,226.8 561.19,226.8" fill="none" stroke="#000" stroke-width="1.4" stroke-linejoin="round" stroke-linecap="butt"/>
<polyline points="533.99,225.3 534.14,225.3 534.29,225.4 534.44,225.4 534.59,225.4 534.74,225.4 534.89,225.4 535.04,225.3 535.19,225.0 535.34,224.5 535.49,223.8 535.64,222.8 535.79,221.7 535.94,220.7 536.09,220.0 536.22,219.8 536.24,219.8 536.39,220.2 536.54,221.0 536.69,222.2 536.84,223.3 536.99,224.3 537.14,225.1 537.29,225.6 537.44,225.9 537.59,226.1 537.74,226.2 537.89,226.3 538.04,226.3 538.19,226.3 538.34,226.4" fill="none" stroke="#000" stroke-width="1.4" stroke-linejoin="round" stroke-linecap="butt"/>
<polyline points="508.95,229.3 509.10,229.3 509.25,229.3 509.40,229.3 509.55,229.2 509.70,229.1 509.85,228.6 510.00,227.7 510.15,226.3 510.30,224.8 510.45,224.0 510.49,223.9 510.60,224.2 510.75,225.4 510.90,226.9 511.05,228.1 511.20,228.8 511.35,229.0 511.50,229.1 511.65,229.1 511.80,229.1 511.95,229.1" fill="none" stroke="#000" stroke-width="1.4" stroke-linejoin="round" stroke-linecap="butt"/>
<polyline points="543.50,226.8 543.65,226.8 543.80,226.8 543.95,226.8 544.10,226.7 544.25,226.6 544.40,226.3 544.55,225.5 544.70,224.3 544.85,222.8 545.00,221.7 545.10,221.5 545.15,221.6 545.30,222.4 545.45,223.8 545.60,225.1 545.75,226.0 545.90,226.5 546.05,226.7 546.20,226.7 546.35,226.8 546.50,226.8 546.65,226.8" fill="none" stroke="#000" stroke-width="1.4" stroke-linejoin="round" stroke-linecap="butt"/>
<polyline points="506.70,229.5 506.85,229.5 507.00,229.5 507.15,229.4 507.30,229.4 507.45,229.3 507.60,229.2 507.75,228.9 507.90,228.3 508.05,227.5 508.20,226.4 508.35,225.4 508.50,224.7 508.59,224.5 508.65,224.6 508.80,225.1 508.95,226.1 509.10,227.2 509.25,228.1 509.40,228.7 509.55,229.0 509.70,229.2 509.85,229.2 510.00,229.2 510.15,229.2 510.30,229.2 510.45,229.2" fill="none" stroke="#000" stroke-width="1.4" stroke-linejoin="round" stroke-linecap="butt"/>
<polyline points="530.94,225.7 531.09,225.7 531.24,225.6 531.39,225.6 531.54,225.6 531.69,225.5 531.84,225.4 531.99,225.2 532.14,224.9 532.29,224.3 532.44,223.4 532.59,222.2 532.74,220.8 532.89,219.5 533.04,218.5 533.19,218.0 533.22,218.0 533.34,218.1 533.49,218.9 533.64,220.1 533.79,221.4 533.94,222.7 534.09,223.7 534.24,224.4 534.39,224.9 534.54,225.2 534.69,225.4 534.84,225.5 534.99,225.5 535.14,225.6 535.29,225.6 535.44,225.7" fill="none" stroke="#000" stroke-width="1.4" stroke-linejoin="round" stroke-linecap="butt"/>
<polyline points="517.41,228.6 517.56,228.6 517.71,228.6 517.86,228.5 518.01,228.5 518.16,228.5 518.31,228.3 518.46,228.1 518.61,227.7 518.76,227.1 518.91,226.5 519.06,226.0 519.15,226.0 519.21,226.0 519.36,226.3 519.51,226.9 519.66,227.5 519.81,227.9 519.96,228.1 520.11,228.2 520.26,228.2 520.41,228.2 520.56,228.2 520.71,228.2 520.86,228.2" fill="none" stroke="#000" stroke-width="1.4" stroke-linejoin="round" stroke-linecap="butt"/>
<polyline points="547.57,226.7 547.72,226.7 547.87,226.7 548.02,226.7 548.17,226.7 548.32,226.6 548.47,226.4 548.62,225.9 548.77,225.1 548.92,224.1 549.07,223.4 549.18,223.2 549.22,223.2 549.37,223.7 549.52,224.6 549.67,225.5 549.82,226.2 549.97,226.5 550.12,226.7 550.27,226.7 550.42,226.7 550.57,226.7 550.72,226.7" fill="none" stroke="#000" stroke-width="1.4" stroke-linejoin="round" stroke-linecap="butt"/>
<polyline points="535.39,225.6 535.54,225.7 535.69,225.7 535.84,225.7 535.99,225.7 536.14,225.7 536.29,225.3 536.44,224.6 536.59,223.4 536.74,221.9 536.89,220.6 537.03,220.2 537.04,220.2 537.19,220.9 537.34,222.3 537.49,223.9 537.64,225.1 537.79,225.8 537.94,226.1 538.09,226.3 538.24,226.4 538.39,226.4 538.54,226.4" fill="none" stroke="#000" stroke-width="1.4" stroke-linejoin="round" stroke-linecap="butt"/>
<polyline points="503.68,229.7 503.83,229.7 503.98,229.7 504.13,229.6 504.28,229.6 504.43,229.6 504.58,229.4 504.73,229.1 504.88,228.6 505.03,227.9 505.18,227.2 505.33,226.8 505.37,226.8 505.48,226.9 505.63,227.5 505.78,228.2 505.93,228.8 506.08,229.2 506.23,229.4 506.38,229.5 506.53,229.5 506.68,229.5 506.83,229.5 506.98,229.5" fill="none" stroke="#000" stroke-width="1.4" stroke-linejoin="round" stroke-linecap="butt"/>
<polyline points="520.73,228.2 520.88,228.2 521.03,228.2 521.18,228.1 521.33,228.1 521.48,228.1 521.63,228.0 521.78,227.8 521.93,227.5 522.08,227.0 522.23,226.4 522.38,225.5 522.53,224.5 522.68,223.6 522.83,223.0 522.96,222.8 522.98,222.8 523.13,223.1 523.28,223.8 523.43,224.7 523.58,225.6 523.73,226.4 523.88,227.0 524.03,227.4 524.18,227.5 524.33,227.6 524.48,227.6 524.63,227.6 524.78,227.5 524.93,227.5 525.08,227.4" fill="none" stroke="#000" stroke-width="1.4" stroke-linejoin="round" stroke-linecap="butt"/>
<polyline points="520.23,228.3 520.38,228.2 520.53,228.2 520.68,228.2 520.83,228.2 520.98,228.1 521.13,228.0 521.28,227.7 521.43,227.2 521.58,226.5 521.73,225.4 521.88,224.3 522.03,223.2 522.18,222.6 522.26,222.5 522.33,222.6 522.48,223.2 522.63,224.2 522.78,225.3 522.93,226.3 523.08,227.0 523.23,227.5 523.38,227.7 523.53,227.8 523.68,227.8 523.83,227.8 523.98,227.8 524.13,227.8 524.28,227.7" fill="none" stroke="#000" stroke-width="1.4" stroke-linejoin="round" stroke-linecap="butt"/>
<polyline points="516.11,228.8 516.26,228.7 516.41,228.7 516.56,228.7 516.71,228.7 516.86,228.6 517.01,228.6 517.16,228.4 517.31,228.2 517.46,227.7 517.61,227.1 517.76,226.3 517.91,225.4 518.06,224.5 518.21,223.8 518.36,223.4 518.40,223.4 518.51,223.5 518.66,224.1 518.81,224.9 518.96,225.8 519.11,226.6 519.26,227.3 519.41,227.7 519.56,228.0 519.71,228.2 519.86,228.2 520.01,228.3 520.16,228.3 520.31,228.2 520.46,228.2 520.61,228.2" fill="none" stroke="#000" stroke-width="1.4" stroke-linejoin="round" stroke-linecap="butt"/>
<polyline points="557.65,226.8 557.80,226.8 557.95,226.8 558.10,226.8 558.25,226.7 558.40,226.7 558.55,226.7 558.70,226.5 558.85,226.3 559.00,225.8 559.15,225.2 559.30,224.3 559.45,223.5 559.60,222.7 559.75,222.3 559.81,222.3 559.90,222.4 560.05,222.8 560.20,223.6 560.35,224.5 560.50,225.3 560.65,225.9 560.80,226.3 560.95,226.6 561.10,226.7 561.25,226.8 561.40,226.8 561.55,226.8 561.70,226.8 561.85,226.8" fill="none" stroke="#000" stroke-width="1.4" stroke-linejoin="round" stroke-linecap="butt"/>
<polyline points="519.58,228.3 519.73,228.3 519.88,228.3 520.03,228.3 520.18,228.2 520.33,228.1 520.48,227.9 520.63,227.3 520.78,226.4 520.93,225.0 521.08,223.5 521.23,222.2 521.38,221.7 521.53,222.2 521.68,223.4 521.83,224.9 521.98,226.2 522.13,227.2 522.28,227.6 522.43,227.9 522.58,227.9 522.73,227.9 522.88,227.9 523.03,227.9 523.18,227.9" fill="none" stroke="#000" stroke-width="1.4" stroke-linejoin="round" stroke-linecap="butt"/>
<polyline points="545.52,226.8 545.67,226.8 545.82,226.8 545.97,226.8 546.12,226.7 546.27,226.7 546.42,226.5 546.57,226.2 546.72,225.7 546.87,225.0 547.02,224.4 547.17,224.2 547.18,224.2 547.32,224.4 547.47,225.0 547.62,225.7 547.77,226.2 547.92,226.5 548.07,226.7 548.22,226.7 548.37,226.7 548.52,226.7 548.67,226.7 548.82,226.7" fill="none" stroke="#000" stroke-width="1.4" stroke-linejoin="round" stroke-linecap="butt"/>
<polyline points="536.71,226.0 536.86,226.0 537.01,226.1 537.16,226.1 537.31,226.1 537.46,226.1 537.61,226.0 537.76,225.7 537.91,225.2 538.06,224.5 538.21,223.7 538.36,223.2 538.45,223.1 538.51,223.2 538.66,223.7 538.81,224.5 538.96,225.3 539.11,226.0 539.26,226.4 539.41,226.6 539.56,226.7 539.71,226.7 539.86,226.8 540.01,226.8 540.16,226.8" fill="none" stroke="#000" stroke-width="1.4" stroke-linejoin="round" stroke-linecap="butt"/>
<polyline points="539.43,226.7 539.58,226.7 539.73,226.7 539.88,226.8 540.03,226.8 540.18,226.7 540.33,226.6 540.48,226.2 540.63,225.6 540.78,224.8 540.93,223.9 541.08,223.2 541.19,223.1 541.23,223.1 541.38,223.6 541.53,224.4 541.68,225.3 541.83,226.0 541.98,226.4 542.13,226.7 542.28,226.7 542.43,226.8 542.58,226.8 542.73,226.8 542.88,226.8" fill="none" stroke="#000" stroke-width="1.4" stroke-linejoin="round" stroke-linecap="butt"/>
<polyline points="755.29,229.3 755.44,229.3 755.59,229.3 755.74,229.3 755.89,229.2 756.04,229.2 756.19,228.9 756.34,228.5 756.49,227.8 756.64,227.0 756.79,226.6 756.82,226.6 756.94,226.8 757.09,227.4 757.24,228.2 757.39,228.8 757.54,229.1 757.69,229.2 757.84,229.3 757.99,229.3 758.14,229.3 758.29,229.3" fill="none" stroke="#000" stroke-width="1.4" stroke-linejoin="round" stroke-linecap="butt"/>
<polyline points="757.27,229.3 757.42,229.3 757.57,229.3 757.72,229.3 757.87,229.3 758.02,229.2 758.17,229.1 758.32,228.9 758.47,228.4 758.62,227.7 758.77,226.8 758.92,225.7 759.07,224.7 759.22,224.0 759.31,223.9 759.37,223.9 759.52,224.5 759.67,225.5 759.82,226.6 759.97,227.6 760.12,228.3 760.27,228.8 760.42,229.1 760.57,229.2 760.72,229.3 760.87,229.3 761.02,229.3 761.17,229.3 761.32,229.3" fill="none" stroke="#000" stroke-width="1.4" stroke-linejoin="round" stroke-linecap="butt"/>
<polyline points="708.50,228.8 708.65,228.8 708.80,228.8 708.95,228.8 709.10,228.8 709.25,228.7 709.40,228.6 709.55,228.3 709.70,227.7 709.85,226.8 710.00,225.7 710.15,224.5 710.30,223.7 710.43,223.4 710.45,223.4 710.60,223.9 710.75,224.9 710.90,226.1 711.05,227.1 711.20,227.9 711.35,228.4 711.50,228.6 711.65,228.8 711.80,228.8 711.95,228.8 712.10,228.8 712.25,228.8" fill="none" stroke="#000" stroke-width="1.4" stroke-linejoin="round" stroke-linecap="butt"/>
<polyline points="585.67,227.9 585.82,227.9 585.97,227.9 586.12,227.9 586.27,227.9 586.42,227.8 586.57,227.7 586.72,227.5 586.87,227.1 587.02,226.4 587.17,225.6 587.32,224.9 587.47,224.4 587.53,224.4 587.62,224.5 587.77,225.0 587.92,225.8 588.07,226.6 588.22,227.2 588.37,227.6 588.52,227.8 588.67,227.9 588.82,227.9 588.97,227.9 589.12,227.9 589.27,227.9" fill="none" stroke="#000" stroke-width="1.4" stroke-linejoin="round" stroke-linecap="butt"/>
<polyline points="762.60,229.3 762.75,229.3 762.90,229.3 763.05,229.3 763.20,229.3 763.35,229.2 763.50,228.8 763.65,228.1 763.80,227.0 763.95,225.8 764.10,225.1 764.15,225.0 764.25,225.2 764.40,226.2 764.55,227.4 764.70,228.4 764.85,229.0 765.00,229.2 765.15,229.3 765.30,229.4 765.45,229.4 765.60,229.4" fill="none" stroke="#000" stroke-width="1.4" stroke-linejoin="round" stroke-linecap="butt"/>
<polyline points="716.59,228.9 716.74,228.9 716.89,228.9 717.04,228.9 717.19,228.8 717.34,228.7 717.49,228.3 717.64,227.5 717.79,226.2 717.94,224.7 718.09,223.8 718.15,223.7 718.24,223.9 718.39,224.9 718.54,226.4 718.69,227.6 718.84,228.4 718.99,228.7 719.14,228.9 719.29,228.9 719.44,228.9 719.59,228.9" fill="none" stroke="#000" stroke-width="1.4" stroke-linejoin="round" stroke-linecap="butt"/>
<polyline points="778.24,229.5 778.39,229.5 778.54,229.5 778.69,229.5 778.84,229.5 778.99,229.5 779.14,229.5 779.29,229.4 779.44,229.2 779.59,228.9 779.74,228.5 779.89,228.0 780.04,227.6 780.19,227.3 780.30,227.2 780.34,227.2 780.49,227.4 780.64,227.8 780.79,228.3 780.94,228.8 781.09,229.1 781.24,229.3 781.39,229.5 781.54,229.5 781.69,229.5 781.84,229.6 781.99,229.6 782.14,229.6 782.29,229.6" fill="none" stroke="#000" stroke-width="1.4" stroke-linejoin="round" stroke-linecap="butt"/>
<polyline points="646.38,228.3 646.53,228.3 646.68,228.3 646.83,228.3 646.98,228.3 647.13,228.2 647.28,228.0 647.43,227.5 647.58,226.6 647.73,225.6 647.88,224.7 648.02,224.3 648.03,224.3 648.18,224.8 648.33,225.7 648.48,226.8 648.63,227.6 648.78,228.0 648.93,228.2 649.08,228.3 649.23,228.3 649.38,228.3 649.53,228.3" fill="none" stroke="#000" stroke-width="1.4" stroke-linejoin="round" stroke-linecap="butt"/>
<polyline points="599.38,228.0 599.53,228.0 599.68,228.0 599.83,228.0 599.98,228.0 600.13,228.0 600.28,227.9 600.43,227.8 600.58,227.6 600.73,227.3 600.88,226.8 601.03,226.2 601.18,225.6 601.33,225.1 601.48,224.8 601.52,224.8 601.63,224.9 601.78,225.3 601.93,225.9 602.08,226.5 602.23,227.0 602.38,227.5 602.53,227.7 602.68,227.9 602.83,228.0 602.98,228.0 603.13,228.0 603.28,228.0 603.43,228.0 603.58,228.0" fill="none" stroke="#000" stroke-width="1.4" stroke-linejoin="round" stroke-linecap="butt"/>
<polyline points="758.93,229.3 759.08,229.3 759.23,229.3 759.38,229.3 759.53,229.3 759.68,229.2 759.83,229.0 759.98,228.6 760.13,227.8 760.28,226.7 760.43,225.5 760.58,224.6 760.70,224.3 760.73,224.3 760.88,224.9 761.03,226.0 761.18,227.2 761.33,228.2 761.48,228.8 761.63,229.1 761.78,229.3 761.93,229.3 762.08,229.3 762.23,229.3 762.38,229.3" fill="none" stroke="#000" stroke-width="1.4" stroke-linejoin="round" stroke-linecap="butt"/>
<polyline points="640.11,228.3 640.26,228.3 640.41,228.3 640.56,228.3 640.71,228.3 640.86,228.2 641.01,227.9 641.16,227.5 641.31,226.6 641.46,225.6 641.61,224.8 641.74,224.5 641.76,224.5 641.91,225.0 642.06,225.9 642.21,226.9 642.36,227.6 642.51,228.0 642.66,228.2 642.81,228.3 642.96,228.3 643.11,228.3 643.26,228.3" fill="none" stroke="#000" stroke-width="1.4" stroke-linejoin="round" stroke-linecap="butt"/>
<polyline points="651.13,228.4 651.28,228.4 651.43,228.4 651.58,228.4 651.73,228.3 651.88,228.3 652.03,228.1 652.18,227.7 652.33,227.0 652.48,226.0 652.63,225.0 652.78,224.3 652.86,224.2 652.93,224.3 653.08,224.9 653.23,225.9 653.38,226.9 653.53,227.6 653.68,228.1 653.83,228.3 653.98,228.3 654.13,228.4 654.28,228.4 654.43,228.4 654.58,228.4" fill="none" stroke="#000" stroke-width="1.4" stroke-linejoin="round" stroke-linecap="butt"/>
<polyline points="598.05,228.0 598.20,228.0 598.35,228.0 598.50,228.0 598.65,228.0 598.80,227.9 598.95,227.9 599.10,227.7 599.25,227.4 599.40,226.9 599.55,226.3 599.70,225.8 599.85,225.5 599.91,225.5 600.00,225.6 600.15,225.9 600.30,226.5 600.45,227.0 600.60,227.5 600.75,227.8 600.90,227.9 601.05,228.0 601.20,228.0 601.35,228.0 601.50,228.0 601.65,228.0" fill="none" stroke="#000" stroke-width="1.4" stroke-linejoin="round" stroke-linecap="butt"/>
<polyline points="685.60,228.6 685.75,228.6 685.90,228.6 686.05,228.6 686.20,228.6 686.35,228.5 686.50,228.2 686.65,227.5 686.80,226.6 686.95,225.7 687.10,225.3 687.25,225.6 687.40,226.6 687.55,227.5 687.70,228.1 687.85,228.5 688.00,228.6 688.15,228.6 688.30,228.6 688.45,228.6 688.60,228.6" fill="none" stroke="#000" stroke-width="1.4" stroke-linejoin="round" stroke-linecap="butt"/>
<polyline points="671.26,228.5 671.41,228.5 671.56,228.5 671.71,228.5 671.86,228.5 672.01,228.4 672.16,228.3 672.31,228.0 672.46,227.5 672.61,226.6 672.76,225.5 672.91,224.3 673.06,223.3 673.21,222.9 673.22,222.9 673.36,223.2 673.51,224.1 673.66,225.3 673.81,226.5 673.96,227.4 674.11,228.0 674.26,228.3 674.41,228.4 674.56,228.5 674.71,228.5 674.86,228.5 675.01,228.5 675.16,228.5" fill="none" stroke="#000" stroke-width="1.4" stroke-linejoin="round" stroke-linecap="butt"/>
<polyline points="673.20,228.5 673.35,228.5 673.50,228.5 673.65,228.5 673.80,228.5 673.95,228.4 674.10,228.3 674.25,227.9 674.40,227.3 674.55,226.5 674.70,225.6 674.85,224.9 674.96,224.7 675.00,224.7 675.15,225.2 675.30,226.0 675.45,226.9 675.60,227.7 675.75,228.1 675.90,228.4 676.05,228.5 676.20,228.5 676.35,228.5 676.50,228.5 676.65,228.5" fill="none" stroke="#000" stroke-width="1.4" stroke-linejoin="round" stroke-linecap="butt"/>
<polyline points="700.01,228.7 700.16,228.7 700.31,228.7 700.46,228.7 700.61,228.7 700.76,228.7 700.91,228.6 701.06,228.6 701.21,228.4 701.36,228.1 701.51,227.7 701.66,227.2 701.81,226.7 701.96,226.2 702.11,225.9 702.22,225.8 702.26,225.8 702.41,226.0 702.56,226.4 702.71,227.0 702.86,227.5 703.01,228.0 703.16,228.3 703.31,228.5 703.46,228.6 703.61,228.7 703.76,228.7 703.91,228.7 704.06,228.7 704.21,228.7 704.36,228.7" fill="none" stroke="#000" stroke-width="1.4" stroke-linejoin="round" stroke-linecap="butt"/>
<polyline points="667.36,228.5 667.51,228.5 667.66,228.5 667.81,228.5 667.96,228.4 668.11,228.3 668.26,227.9 668.41,227.2 668.56,226.0 668.71,224.7 668.86,224.0 668.91,223.9 669.01,224.1 669.16,225.2 669.31,226.5 669.46,227.5 669.61,228.1 669.76,228.4 669.91,228.5 670.06,228.5 670.21,228.5 670.36,228.5" fill="none" stroke="#000" stroke-width="1.4" stroke-linejoin="round" stroke-linecap="butt"/>
<polyline points="646.27,228.3 646.42,228.3 646.57,228.3 646.72,228.3 646.87,228.3 647.02,228.2 647.17,228.1 647.32,227.7 647.47,227.2 647.62,226.4 647.77,225.8 647.91,225.6 647.92,225.6 648.07,225.9 648.22,226.5 648.37,227.2 648.52,227.8 648.67,228.1 648.82,228.3 648.97,228.3 649.12,228.3 649.27,228.3 649.42,228.3" fill="none" stroke="#000" stroke-width="1.4" stroke-linejoin="round" stroke-linecap="butt"/>
<polyline points="711.71,228.8 711.86,228.8 712.01,228.8 712.16,228.8 712.31,228.8 712.46,228.8 712.61,228.7 712.76,228.5 712.91,228.1 713.06,227.4 713.21,226.6 713.36,225.6 713.51,224.8 713.66,224.3 713.72,224.3 713.81,224.4 713.96,224.9 714.11,225.8 714.26,226.8 714.41,227.6 714.56,228.2 714.71,228.5 714.86,228.7 715.01,228.8 715.16,228.8 715.31,228.8 715.46,228.9 715.61,228.9" fill="none" stroke="#000" stroke-width="1.4" stroke-linejoin="round" stroke-linecap="butt"/>
<polyline points="636.42,228.3 636.57,228.3 636.72,228.3 636.87,228.3 637.02,228.2 637.17,228.2 637.32,228.1 637.47,227.9 637.62,227.6 637.77,227.0 637.92,226.2 638.07,225.3 638.22,224.2 638.37,223.4 638.52,223.1 638.55,223.1 638.67,223.2 638.82,223.9 638.97,224.9 639.12,225.9 639.27,226.8 639.42,227.4 639.57,227.9 639.72,228.1 639.87,228.2 640.02,228.3 640.17,228.3 640.32,228.3 640.47,228.3 640.62,228.3" fill="none" stroke="#000" stroke-width="1.4" stroke-linejoin="round" stroke-linecap="butt"/>
<polyline points="701.13,228.7 701.28,228.7 701.43,228.7 701.58,228.7 701.73,228.7 701.88,228.7 702.03,228.6 702.18,228.5 702.33,228.2 702.48,227.8 702.63,227.2 702.78,226.5 702.93,225.8 703.08,225.3 703.22,225.2 703.23,225.2 703.38,225.4 703.53,225.9 703.68,226.6 703.83,227.3 703.98,227.9 704.13,228.3 704.28,228.5 704.43,228.7 704.58,228.7 704.73,228.7 704.88,228.7 705.03,228.7 705.18,228.8" fill="none" stroke="#000" stroke-width="1.4" stroke-linejoin="round" stroke-linecap="butt"/>
<polyline points="622.36,228.2 622.51,228.2 622.66,228.2 622.81,228.2 622.96,228.1 623.11,228.0 623.26,227.8 623.41,227.3 623.56,226.4 623.71,225.6 623.86,225.1 623.89,225.1 624.01,225.4 624.16,226.1 624.31,227.0 624.46,227.6 624.61,228.0 624.76,228.1 624.91,228.2 625.06,228.2 625.21,228.2 625.36,228.2" fill="none" stroke="#000" stroke-width="1.4" stroke-linejoin="round" stroke-linecap="butt"/>
<polyline points="736.44,229.1 736.59,229.1 736.74,229.1 736.89,229.1 737.04,229.1 737.19,229.0 737.34,228.9 737.49,228.6 737.64,228.2 737.79,227.6 737.94,226.9 738.09,226.4 738.21,226.2 738.24,226.2 738.39,226.6 738.54,227.2 738.69,227.9 738.84,228.5 738.99,228.8 739.14,229.0 739.29,229.1 739.44,229.1 739.59,229.1 739.74,229.1 739.89,229.1" fill="none" stroke="#000" stroke-width="1.4" stroke-linejoin="round" stroke-linecap="butt"/>
<polyline points="673.22,228.5 673.37,228.5 673.52,228.5 673.67,228.5 673.82,228.5 673.97,228.5 674.12,228.4 674.27,228.3 674.42,228.0 674.57,227.6 674.72,227.0 674.87,226.3 675.02,225.6 675.17,224.9 675.32,224.6 675.36,224.6 675.47,224.7 675.62,225.2 675.77,225.9 675.92,226.6 676.07,227.3 676.22,227.8 676.37,228.2 676.52,228.4 676.67,228.5 676.82,228.5 676.97,228.5 677.12,228.5 677.27,228.5 677.42,228.5" fill="none" stroke="#000" stroke-width="1.4" stroke-linejoin="round" stroke-linecap="butt"/>
<polyline points="589.91,227.9 590.06,227.9 590.21,227.9 590.36,227.9 590.51,227.9 590.66,227.9 590.81,227.8 590.96,227.5 591.11,227.0 591.26,226.3 591.41,225.4 591.56,224.4 591.71,223.8 591.83,223.6 591.86,223.6 592.01,224.0 592.16,224.8 592.31,225.8 592.46,226.6 592.61,227.3 592.76,227.6 592.91,227.8 593.06,227.9 593.21,227.9 593.36,228.0 593.51,228.0 593.66,228.0" fill="none" stroke="#000" stroke-width="1.4" stroke-linejoin="round" stroke-linecap="butt"/>
<polyline points="612.03,228.1 612.18,228.1 612.33,228.1 612.48,228.1 612.63,228.1 612.78,228.0 612.93,227.9 613.08,227.7 613.23,227.2 613.38,226.5 613.53,225.8 613.68,225.1 613.83,224.8 613.84,224.8 613.98,225.0 614.13,225.6 614.28,226.4 614.43,227.1 614.58,227.6 614.73,227.9 614.88,228.0 615.03,228.1 615.18,228.1 615.33,228.1 615.48,228.1 615.63,228.1" fill="none" stroke="#000" stroke-width="1.4" stroke-linejoin="round" stroke-linecap="butt"/>
<polyline points="587.26,227.9 587.41,227.9 587.56,227.9 587.71,227.9 587.86,227.9 588.01,227.8 588.16,227.7 588.31,227.4 588.46,226.9 588.61,226.2 588.76,225.7 588.88,225.6 588.91,225.6 589.06,225.9 589.21,226.5 589.36,227.1 589.51,227.5 589.66,227.8 589.81,227.9 589.96,227.9 590.11,227.9 590.26,227.9 590.41,227.9" fill="none" stroke="#000" stroke-width="1.4" stroke-linejoin="round" stroke-linecap="butt"/>
<polyline points="654.65,228.4 654.80,228.4 654.95,228.4 655.10,228.4 655.25,228.4 655.40,228.3 655.55,228.0 655.70,227.5 655.85,226.6 656.00,225.4 656.15,224.1 656.30,223.3 656.38,223.2 656.45,223.3 656.60,224.0 656.75,225.3 656.90,226.6 657.05,227.5 657.20,228.0 657.35,228.3 657.50,228.4 657.65,228.4 657.80,228.4 657.95,228.4 658.10,228.4" fill="none" stroke="#000" stroke-width="1.4" stroke-linejoin="round" stroke-linecap="butt"/>
<polyline points="755.19,229.3 755.34,229.3 755.49,229.3 755.64,229.2 755.79,229.2 755.94,229.1 756.09,228.8 756.24,228.2 756.39,227.2 756.54,225.9 756.69,224.6 756.84,223.9 756.87,223.9 756.99,224.3 757.14,225.4 757.29,226.8 757.44,227.9 757.59,228.7 757.74,229.1 757.89,229.2 758.04,229.3 758.19,229.3 758.34,229.3 758.49,229.3" fill="none" stroke="#000" stroke-width="1.4" stroke-linejoin="round" stroke-linecap="butt"/>
<polyline points="755.46,229.3 755.61,229.3 755.76,229.3 755.91,229.3 756.06,229.2 756.21,229.2 756.36,229.1 756.51,228.9 756.66,228.5 756.81,227.8 756.96,227.0 757.11,226.2 757.26,225.5 757.38,225.4 757.41,225.4 757.56,225.7 757.71,226.5 757.86,227.4 758.01,228.1 758.16,228.7 758.31,229.0 758.46,229.2 758.61,229.2 758.76,229.3 758.91,229.3 759.06,229.3 759.21,229.3" fill="none" stroke="#000" stroke-width="1.4" stroke-linejoin="round" stroke-linecap="butt"/>
<polyline points="744.70,229.1 744.85,229.1 745.00,229.1 745.15,229.1 745.30,229.1 745.45,229.1 745.60,229.0 745.75,228.8 745.90,228.5 746.05,227.9 746.20,227.2 746.35,226.3 746.50,225.6 746.65,225.2 746.71,225.2 746.80,225.2 746.95,225.7 747.10,226.5 747.25,227.4 747.40,228.1 747.55,228.6 747.70,228.9 747.85,229.1 748.00,229.1 748.15,229.2 748.30,229.2 748.45,229.2 748.60,229.2" fill="none" stroke="#000" stroke-width="1.4" stroke-linejoin="round" stroke-linecap="butt"/>
<polyline points="592.89,228.0 593.04,228.0 593.19,228.0 593.34,228.0 593.49,227.9 593.64,227.9 593.79,227.9 593.94,227.8 594.09,227.7 594.24,227.4 594.39,227.1 594.54,226.7 594.69,226.2 594.84,225.8 594.99,225.6 595.07,225.5 595.14,225.6 595.29,225.8 595.44,226.2 595.59,226.7 595.74,227.1 595.89,227.5 596.04,227.7 596.19,227.8 596.34,227.9 596.49,228.0 596.64,228.0 596.79,228.0 596.94,228.0 597.09,228.0 597.24,228.0" fill="none" stroke="#000" stroke-width="1.4" stroke-linejoin="round" stroke-linecap="butt"/>
<polyline points="684.90,228.6 685.05,228.6 685.20,228.6 685.35,228.6 685.50,228.6 685.65,228.6 685.80,228.5 685.95,228.4 686.10,228.3 686.25,228.0 686.40,227.6 686.55,227.2 686.70,226.7 686.85,226.3 687.00,226.2 687.01,226.2 687.15,226.3 687.30,226.6 687.45,227.1 687.60,227.6 687.75,228.0 687.90,228.3 688.05,228.4 688.20,228.5 688.35,228.6 688.50,228.6 688.65,228.6 688.80,228.6 688.95,228.6 689.10,228.6" fill="none" stroke="#000" stroke-width="1.4" stroke-linejoin="round" stroke-linecap="butt"/>
<polyline points="740.14,229.1 740.29,229.1 740.44,229.1 740.59,229.1 740.74,229.1 740.89,229.1 741.04,229.0 741.19,228.9 741.34,228.6 741.49,228.2 741.64,227.7 741.79,227.0 741.94,226.4 742.09,226.0 742.20,225.9 742.24,226.0 742.39,226.2 742.54,226.8 742.69,227.4 742.84,228.0 742.99,228.5 743.14,228.8 743.29,229.0 743.44,229.1 743.59,229.1 743.74,229.1 743.89,229.1 744.04,229.1 744.19,229.1" fill="none" stroke="#000" stroke-width="1.4" stroke-linejoin="round" stroke-linecap="butt"/>
<polyline points="788.21,229.6 788.36,229.6 788.51,229.6 788.66,229.6 788.81,229.6 788.96,229.6 789.11,229.6 789.26,229.4 789.41,229.2 789.56,228.8 789.71,228.3 789.86,227.5 790.01,226.8 790.16,226.1 790.31,225.6 790.41,225.6 790.46,225.6 790.61,225.9 790.76,226.5 790.91,227.3 791.06,228.1 791.21,228.7 791.36,229.1 791.51,229.4 791.66,229.6 791.81,229.6 791.96,229.7 792.11,229.7 792.26,229.7 792.41,229.7 792.56,229.7" fill="none" stroke="#000" stroke-width="1.4" stroke-linejoin="round" stroke-linecap="butt"/>
<polyline points="584.37,227.9 584.52,227.9 584.67,227.9 584.82,227.9 584.97,227.9 585.12,227.8 585.27,227.8 585.42,227.6 585.57,227.2 585.72,226.7 585.87,226.1 586.02,225.6 586.16,225.4 586.17,225.4 586.32,225.6 586.47,226.1 586.62,226.7 586.77,227.2 586.92,227.6 587.07,227.8 587.22,227.9 587.37,227.9 587.52,227.9 587.67,227.9 587.82,227.9" fill="none" stroke="#000" stroke-width="1.4" stroke-linejoin="round" stroke-linecap="butt"/>
<polyline points="589.92,227.9 590.07,227.9 590.22,227.9 590.37,227.9 590.52,227.9 590.67,227.8 590.82,227.4 590.97,226.7 591.12,225.5 591.27,224.0 591.42,222.7 591.55,222.3 591.57,222.3 591.72,222.9 591.87,224.3 592.02,225.8 592.17,226.9 592.32,227.5 592.47,227.8 592.62,227.9 592.77,227.9 592.92,228.0 593.07,228.0" fill="none" stroke="#000" stroke-width="1.4" stroke-linejoin="round" stroke-linecap="butt"/>
<polyline points="677.49,228.5 677.64,228.5 677.79,228.5 677.94,228.5 678.09,228.5 678.24,228.4 678.39,228.2 678.54,227.8 678.69,227.1 678.84,226.4 678.99,226.0 679.02,226.0 679.14,226.2 679.29,226.8 679.44,227.6 679.59,228.1 679.74,228.4 679.89,228.5 680.04,228.5 680.19,228.6 680.34,228.6 680.49,228.6" fill="none" stroke="#000" stroke-width="1.4" stroke-linejoin="round" stroke-linecap="butt"/>
<polyline points="739.35,229.1 739.50,229.1 739.65,229.1 739.80,229.1 739.95,229.1 740.10,229.0 740.25,228.9 740.40,228.5 740.55,227.9 740.70,226.9 740.85,225.8 741.00,224.9 741.15,224.5 741.17,224.5 741.30,224.8 741.45,225.6 741.60,226.7 741.75,227.7 741.90,228.4 742.05,228.8 742.20,229.0 742.35,229.1 742.50,229.1 742.65,229.1 742.80,229.1 742.95,229.1" fill="none" stroke="#000" stroke-width="1.4" stroke-linejoin="round" stroke-linecap="butt"/>
<polyline points="757.14,229.3 757.29,229.3 757.44,229.3 757.59,229.3 757.74,229.3 757.89,229.2 758.04,229.1 758.19,228.8 758.34,228.3 758.49,227.5 758.64,226.5 758.79,225.4 758.94,224.7 759.06,224.5 759.09,224.5 759.24,225.0 759.39,225.9 759.54,226.9 759.69,227.9 759.84,228.6 759.99,229.0 760.14,229.2 760.29,229.3 760.44,229.3 760.59,229.3 760.74,229.3 760.89,229.3" fill="none" stroke="#000" stroke-width="1.4" stroke-linejoin="round" stroke-linecap="butt"/>
<polyline points="743.11,229.1 743.26,229.1 743.41,229.1 743.56,229.1 743.71,229.1 743.86,229.0 744.01,228.7 744.16,228.0 744.31,226.9 744.46,225.6 744.61,224.8 744.68,224.7 744.76,224.8 744.91,225.7 745.06,227.0 745.21,228.0 745.36,228.7 745.51,229.0 745.66,229.1 745.81,229.2 745.96,229.2 746.11,229.2" fill="none" stroke="#000" stroke-width="1.4" stroke-linejoin="round" stroke-linecap="butt"/>
<polyline points="618.39,228.1 618.54,228.1 618.69,228.1 618.84,228.1 618.99,228.1 619.14,228.0 619.29,227.9 619.44,227.5 619.59,226.8 619.74,225.9 619.89,224.9 620.04,224.2 620.13,224.1 620.19,224.1 620.34,224.7 620.49,225.6 620.64,226.6 620.79,227.4 620.94,227.8 621.09,228.0 621.24,228.1 621.39,228.1 621.54,228.1 621.69,228.2 621.84,228.2" fill="none" stroke="#000" stroke-width="1.4" stroke-linejoin="round" stroke-linecap="butt"/>
<polyline points="692.45,228.6 692.60,228.6 692.75,228.6 692.90,228.6 693.05,228.6 693.20,228.6 693.35,228.4 693.50,227.9 693.65,227.2 693.80,226.2 693.95,225.0 694.10,224.2 694.20,224.1 694.25,224.1 694.40,224.7 694.55,225.8 694.70,226.9 694.85,227.8 695.00,228.3 695.15,228.5 695.30,228.6 695.45,228.7 695.60,228.7 695.75,228.7 695.90,228.7" fill="none" stroke="#000" stroke-width="1.4" stroke-linejoin="round" stroke-linecap="butt"/>
<polyline points="700.41,228.7 700.56,228.7 700.71,228.7 700.86,228.7 701.01,228.7 701.16,228.7 701.31,228.6 701.46,228.5 701.61,228.2 701.76,227.8 701.91,227.2 702.06,226.5 702.21,225.9 702.36,225.5 702.45,225.5 702.51,225.5 702.66,225.8 702.81,226.4 702.96,227.1 703.11,227.7 703.26,228.1 703.41,228.4 703.56,228.6 703.71,228.7 703.86,228.7 704.01,228.7 704.16,228.7 704.31,228.7 704.46,228.7" fill="none" stroke="#000" stroke-width="1.4" stroke-linejoin="round" stroke-linecap="butt"/>
<polyline points="560.86,226.8 561.01,226.8 561.16,226.8 561.31,226.8 561.46,226.8 561.61,226.7 561.76,226.6 561.91,226.3 562.06,225.7 562.21,224.8 562.36,223.6 562.51,222.4 562.66,221.5 562.79,221.3 562.81,221.3 562.96,221.7 563.11,222.8 563.26,224.0 563.41,225.1 563.56,225.9 563.71,226.4 563.86,226.7 564.01,226.8 564.16,226.9 564.31,226.9 564.46,226.9 564.61,226.9" fill="none" stroke="#000" stroke-width="1.4" stroke-linejoin="round" stroke-linecap="butt"/>
<polyline points="648.78,228.3 648.93,228.3 649.08,228.3 649.23,228.3 649.38,228.3 649.53,228.2 649.68,228.0 649.83,227.5 649.98,226.7 650.13,225.7 650.28,224.9 650.41,224.6 650.43,224.6 650.58,225.1 650.73,226.0 650.88,227.0 651.03,227.7 651.18,228.1 651.33,228.3 651.48,228.3 651.63,228.4 651.78,228.4 651.93,228.4" fill="none" stroke="#000" stroke-width="1.4" stroke-linejoin="round" stroke-linecap="butt"/>
<polyline points="778.68,229.5 778.83,229.5 778.98,229.5 779.13,229.5 779.28,229.5 779.43,229.5 779.58,229.4 779.73,229.1 779.88,228.7 780.03,228.0 780.18,227.2 780.33,226.4 780.48,225.8 780.58,225.7 780.63,225.8 780.78,226.2 780.93,227.0 781.08,227.8 781.23,228.6 781.38,229.1 781.53,229.3 781.68,229.5 781.83,229.5 781.98,229.6 782.13,229.6 782.28,229.6 782.43,229.6" fill="none" stroke="#000" stroke-width="1.4" stroke-linejoin="round" stroke-linecap="butt"/>
<polyline points="587.62,227.9 587.77,227.9 587.92,227.9 588.07,227.9 588.22,227.9 588.37,227.8 588.52,227.7 588.67,227.3 588.82,226.6 588.97,225.6 589.12,224.7 589.27,224.1 589.34,224.0 589.42,224.1 589.57,224.7 589.72,225.7 589.87,226.6 590.02,227.3 590.17,227.7 590.32,227.8 590.47,227.9 590.62,227.9 590.77,227.9 590.92,227.9" fill="none" stroke="#000" stroke-width="1.4" stroke-linejoin="round" stroke-linecap="butt"/>
<polyline points="665.74,228.5 665.89,228.5 666.04,228.5 666.19,228.5 666.34,228.4 666.49,228.4 666.64,228.3 666.79,228.1 666.94,227.8 667.09,227.2 667.24,226.4 667.39,225.5 667.54,224.6 667.69,223.9 667.81,223.8 667.84,223.8 667.99,224.1 668.14,224.9 668.29,225.8 668.44,226.7 668.59,227.5 668.74,228.0 668.89,228.2 669.04,228.4 669.19,228.4 669.34,228.5 669.49,228.5 669.64,228.5 669.79,228.5" fill="none" stroke="#000" stroke-width="1.4" stroke-linejoin="round" stroke-linecap="butt"/>
<polyline points="617.67,228.1 617.82,228.1 617.97,228.1 618.12,228.1 618.27,228.1 618.42,228.1 618.57,228.0 618.72,227.9 618.87,227.7 619.02,227.4 619.17,226.8 619.32,226.1 619.47,225.4 619.62,224.7 619.77,224.3 619.88,224.2 619.92,224.2 620.07,224.5 620.22,225.1 620.37,225.8 620.52,226.6 620.67,227.2 620.82,227.6 620.97,227.9 621.12,228.0 621.27,228.1 621.42,228.1 621.57,228.1 621.72,228.1 621.87,228.2 622.02,228.2" fill="none" stroke="#000" stroke-width="1.4" stroke-linejoin="round" stroke-linecap="butt"/>
<polyline points="700.32,228.7 700.47,228.7 700.62,228.7 700.77,228.7 700.92,228.7 701.07,228.6 701.22,228.4 701.37,228.0 701.52,227.3 701.67,226.5 701.82,225.8 701.95,225.5 701.97,225.5 702.12,225.9 702.27,226.7 702.42,227.5 702.57,228.2 702.72,228.5 702.87,228.7 703.02,228.7 703.17,228.7 703.32,228.7 703.47,228.7" fill="none" stroke="#000" stroke-width="1.4" stroke-linejoin="round" stroke-linecap="butt"/>
<polygon points="959.4,240.9 959.8,241.5 960.2,241.8 960.6,241.4 961.0,242.0 961.4,241.5 961.8,242.5 962.2,242.3 962.6,243.1 963.0,242.0 963.4,242.5 963.8,242.9 964.2,242.4 964.6,242.5 965.0,242.3 965.4,241.9 965.8,242.2 966.2,243.1 966.6,242.8 967.0,242.0 967.4,242.5 967.8,242.8 968.2,242.7 968.6,241.8 969.0,241.7 969.4,242.7 969.8,241.7 970.2,242.2 970.6,241.9 971.0,242.6 971.4,241.4 971.8,242.5 972.2,242.6 972.6,241.7 973.0,242.4 973.4,241.5 973.8,242.8 974.2,242.3 974.6,242.7 975.0,242.5 975.4,239.7 975.8,242.6 976.2,241.5 976.6,241.5 977.0,242.0 977.4,241.4 977.8,241.9 978.2,240.8 978.6,241.8 979.0,240.9 979.4,242.4 979.8,240.1 980.2,241.2 980.6,241.7 981.0,241.8 981.4,240.6 981.8,241.6 982.2,241.6 982.6,241.5 983.0,241.9 983.4,241.8 983.8,239.8 984.2,241.6 984.6,241.2 985.0,241.9 985.4,241.6 985.8,241.4 986.2,241.7 986.6,242.1 987.0,241.6 987.4,242.4 987.8,241.6 988.2,241.8 988.6,242.4 989.0,242.0 989.4,242.2 989.8,242.4 990.2,241.7 990.6,242.1 991.0,242.0 991.4,241.9 991.8,241.8 992.2,242.5 992.6,241.6 993.0,241.7 993.4,241.9 993.8,242.1 994.2,241.5 994.6,242.5 995.0,241.7 995.4,242.0 995.8,240.3 996.2,242.2 996.6,242.3 997.0,242.3 997.4,241.6 997.8,242.0 998.2,242.8 998.6,241.3 999.0,243.3 999.4,242.7 999.8,242.7 1000.2,242.5 1000.6,242.8 1001.0,241.2 1001.4,241.7 1001.8,241.8 1002.2,241.9 1002.6,241.5 1003.0,242.9 1003.4,241.7 1003.8,242.1 1004.2,243.0 1004.6,242.6 1005.0,242.4 1005.4,242.5 1005.8,242.8 1006.2,242.5 1006.6,242.9 1007.0,242.7 1007.4,242.2 1007.8,243.0 1008.2,243.2 1008.6,242.6 1009.0,242.1 1009.4,243.2 1009.8,242.6 1010.2,242.4 1010.6,241.3 1011.0,243.2 1011.4,243.2 1011.8,241.1 1012.2,242.9 1012.6,243.0 1013.0,242.8 1013.4,243.0 1013.8,243.6 1014.2,242.5 1014.6,242.0 1015.0,244.0 1015.4,243.2 1015.8,243.0 1016.2,243.9 1016.6,243.7 1017.0,242.9 1017.4,243.3 1017.8,243.8 1018.2,243.6 1018.6,243.1 1019.0,244.2 1019.4,243.8 1019.8,243.8 1020.2,244.1 1020.6,243.8 1021.0,244.0 1021.4,243.6 1021.8,244.8 1022.2,243.6 1022.6,243.8 1023.0,244.1 1023.4,244.3 1023.8,244.2 1024.2,243.0 1024.6,244.0 1025.0,245.0 1025.4,244.2 1025.8,244.9 1026.2,244.1 1026.6,243.9 1027.0,245.1 1027.4,244.1 1027.8,242.9 1028.2,244.9 1028.6,244.0 1029.0,243.9 1029.4,244.2 1029.8,244.7 1030.2,244.8 1030.6,244.2 1031.0,244.4 1031.4,244.7 1031.8,243.7 1032.2,244.5 1032.6,244.4 1033.0,241.4 1033.4,244.1 1033.8,244.4 1034.2,244.4 1034.6,243.9 1035.0,243.9 1035.4,244.1 1035.8,243.9 1036.2,244.2 1036.6,244.4 1037.0,244.0 1037.4,244.5 1037.8,244.0 1038.2,244.2 1038.6,243.7 1039.0,244.9 1039.4,242.8 1039.8,244.8 1040.2,244.6 1040.6,243.5 1041.0,244.3 1041.4,244.1 1041.8,244.4 1042.2,243.5 1042.6,244.1 1043.0,244.0 1043.4,243.6 1043.8,243.5 1044.2,244.3 1044.6,243.5 1045.0,244.0 1045.4,243.7 1045.8,243.8 1046.2,243.0 1046.6,244.3 1047.0,244.2 1047.4,242.5 1047.8,243.9 1048.2,244.3 1048.6,244.1 1049.0,244.2 1049.4,242.8 1049.8,244.8 1050.2,244.1 1050.6,244.8 1051.0,244.3 1051.4,242.5 1051.8,244.3 1052.2,244.5 1052.6,244.0 1053.0,244.9 1053.4,244.2 1053.8,244.5 1054.2,244.9 1054.6,245.0 1055.0,244.8 1055.4,244.9 1055.8,244.9 1056.2,244.7 1056.6,244.5 1057.0,245.2 1057.4,243.9 1057.8,244.1 1058.2,244.2 1058.6,244.1 1059.0,244.9 1059.4,244.4 1059.8,244.7 1060.2,244.4 1060.6,244.0 1061.0,243.6 1061.4,245.2 1061.8,244.2 1062.2,245.0 1062.6,244.7 1063.0,244.1 1063.4,244.3 1063.8,244.9 1064.2,244.2 1064.6,244.6 1065.0,244.6 1065.4,244.7 1065.8,244.1 1066.2,244.9 1066.6,244.5 1067.0,244.8 1067.4,244.3 1067.8,244.0 1068.2,244.6 1068.6,244.1 1069.0,244.8 1069.4,244.4 1069.8,244.0 1070.2,244.2 1070.6,242.2 1071.0,244.6 1071.4,243.9 1071.8,244.6 1072.2,243.6 1072.6,243.9 1073.0,244.3 1073.4,244.7 1073.8,244.3 1074.2,243.8 1074.6,243.9 1075.0,244.2 1075.4,243.2 1075.8,244.2 1076.2,243.7 1076.6,243.9 1077.0,244.1 1077.4,243.8 1077.8,243.4 1078.2,243.6 1078.6,242.1 1079.0,243.8 1079.4,244.1 1079.8,244.2 1080.2,243.8 1080.6,244.5 1081.0,244.5 1081.4,244.4 1081.8,244.5 1082.2,243.9 1082.6,244.4 1083.0,243.4 1083.4,243.2 1083.8,243.1 1084.2,243.4 1084.6,243.8 1085.0,242.9 1085.4,243.5 1085.8,243.9 1086.2,244.6 1086.6,244.4 1087.0,244.0 1087.4,243.9 1087.8,244.4 1088.2,244.5 1088.6,244.5 1089.0,244.2 1089.4,241.5 1089.8,243.2 1090.2,243.1 1090.6,243.5 1091.0,243.8 1091.4,243.5 1091.8,244.2 1092.2,242.2 1092.6,244.2 1093.0,244.1 1093.4,244.5 1093.8,243.7 1094.2,244.2 1094.6,244.7 1095.0,243.3 1095.4,243.9 1095.8,244.2 1096.2,244.9 1096.6,243.9 1097.0,244.1 1097.4,244.4 1097.8,244.2 1098.2,244.0 1098.6,244.4 1099.0,243.7 1099.4,244.3 1099.8,243.9 1100.2,242.4 1100.6,243.5 1101.0,243.6 1101.4,243.5 1101.8,244.1 1102.2,244.3 1102.6,242.3 1103.0,244.2 1103.4,244.2 1103.8,243.8 1104.2,243.8 1104.6,243.4 1105.0,243.8 1105.4,243.1 1105.8,244.4 1106.2,244.2 1106.6,244.5 1107.0,244.2 1107.4,243.6 1107.8,243.7 1108.2,244.0 1108.6,244.1 1109.0,244.8 1109.4,244.4 1109.8,244.0 1110.2,243.6 1110.6,244.0 1111.0,243.3 1111.4,243.8 1111.8,244.4 1112.2,243.3 1112.6,244.1 1113.0,243.9 1113.4,243.2 1113.8,244.1 1114.2,243.9 1114.6,244.1 1115.0,244.5 1115.4,244.3 1115.8,243.5 1116.2,243.6 1116.6,244.5 1117.0,245.1 1117.4,244.6 1117.8,244.9 1118.2,244.4 1118.6,244.3 1119.0,245.2 1119.4,244.9 1119.8,244.4 1120.2,244.8 1120.6,244.7 1121.0,244.6 1121.4,242.4 1121.8,243.2 1122.2,244.9 1122.6,244.1 1123.0,244.8 1123.4,245.1 1123.8,243.8 1124.2,244.1 1124.6,244.3 1125.0,244.6 1125.4,244.4 1125.8,243.5 1126.2,244.2 1126.6,244.4 1127.0,243.8 1127.4,243.8 1127.8,242.7 1128.2,243.6 1128.6,244.6 1129.0,244.5 1129.4,243.8 1129.8,244.6 1130.2,243.9 1130.6,244.3 1131.0,244.0 1131.4,243.8 1131.8,244.2 1132.2,244.7 1132.6,243.8 1133.0,243.8 1133.4,244.3 1133.8,245.1 1134.2,244.3 1134.6,245.0 1135.0,244.8 1135.4,244.6 1135.8,244.9 1136.2,244.2 1136.6,244.7 1137.0,244.1 1137.4,244.9 1137.8,245.6 1138.2,244.5 1138.6,244.5 1139.0,245.0 1139.4,245.4 1139.8,245.0 1140.2,245.5 1140.6,244.6 1141.0,245.5 1141.4,244.6 1141.8,245.5 1142.2,245.0 1142.6,244.8 1143.0,244.4 1143.4,244.7 1143.8,245.2 1144.2,244.9 1144.6,244.6 1145.0,244.6 1145.4,245.3 1145.8,244.3 1146.2,243.5 1146.6,242.2 1147.0,245.3 1147.4,245.5 1147.8,244.3 1148.2,243.4 1148.6,244.1 1149.0,244.3 1149.4,244.8 1149.8,245.1 1150.2,244.3 1150.6,245.6 1151.0,244.7 1151.4,244.9 1151.8,245.8 1152.2,244.7 1152.6,246.1 1153.0,246.0 1153.4,245.2 1153.8,245.4 1154.2,246.1 1154.6,245.1 1155.0,245.0 1155.4,245.9 1155.8,245.0 1156.2,245.4 1156.6,246.3 1157.0,246.0 1157.4,245.1 1157.8,245.0 1158.2,245.5 1158.6,245.6 1159.0,245.7 1159.4,245.0 1159.8,245.5 1160.2,245.5 1160.6,243.2 1161.0,245.8 1161.4,245.7 1161.8,245.2 1162.2,245.7 1162.6,245.1 1163.0,244.8 1163.4,245.7 1163.8,245.2 1164.2,244.8 1164.6,244.9 1165.0,246.0 1165.4,246.1 1165.8,246.1 1166.2,245.4 1166.6,245.6 1167.0,246.4 1167.4,243.7 1167.8,245.8 1168.2,246.5 1168.6,246.6 1169.0,245.8 1169.4,246.7 1169.8,246.8 1170.2,247.0 1170.6,247.3 1171.0,247.1 1171.4,245.9 1171.8,246.5 1172.2,246.3 1172.6,247.1 1173.0,246.9 1173.4,246.4 1173.8,246.6 1174.2,246.6 1174.6,246.4 1175.0,246.6 1175.4,247.6 1175.8,247.1 1176.2,246.7 1176.6,247.4 1177.0,247.5 1177.4,247.4 1177.8,247.1 1178.2,247.9 1178.6,247.9 1179.0,247.4 1179.4,247.7 1179.8,247.1 1180.2,247.3 1180.6,247.7 1181.0,247.3 1181.4,247.2 1181.8,247.1 1182.2,247.5 1182.6,247.9 1183.0,247.5 1183.4,248.0 1183.8,247.9 1184.2,247.3 1184.6,248.3 1185.0,248.1 1185.4,247.7 1185.8,247.6 1186.2,248.6 1186.6,247.9 1187.0,247.2 1187.4,246.9 1187.8,247.0 1188.2,247.5 1188.6,247.8 1189.0,248.1 1189.4,248.1 1189.8,248.0 1190.2,247.9 1190.6,247.8 1191.0,248.2 1191.4,247.8 1191.8,247.2 1192.2,247.7 1192.6,247.5 1193.0,247.7 1193.4,247.1 1193.8,247.9 1194.2,247.1 1194.6,246.3 1195.0,246.9 1195.4,247.8 1195.8,247.7 1196.2,247.7 1196.6,246.6 1197.0,247.0 1197.4,247.8 1197.8,247.7 1198.2,246.5 1198.6,247.1 1199.0,246.5 1199.4,247.3 1199.8,247.4 1200.2,246.7 1200.6,247.7 1201.0,247.2 1201.4,247.6 1201.8,248.0 1202.2,247.5 1202.6,248.2 1203.0,247.5 1203.4,247.3 1203.8,247.7 1204.2,246.9 1204.6,247.0 1205.0,246.8 1205.4,247.8 1205.8,247.7 1206.2,247.6 1206.6,247.0 1207.0,246.9 1207.4,247.5 1207.8,247.4 1208.2,248.4 1208.6,248.8 1209.0,248.2 1209.4,248.5 1209.8,247.5 1210.2,248.2 1210.6,247.6 1211.0,247.8 1211.4,247.4 1211.8,248.1 1212.2,248.2 1212.6,248.1 1213.0,248.4 1213.4,247.8 1213.8,248.1 1214.2,247.9 1214.6,248.2 1215.0,248.6 1215.4,247.8 1215.8,247.5 1216.2,248.1 1216.6,248.0 1217.0,248.1 1217.4,249.1 1217.8,247.5 1218.2,249.0 1218.6,248.1 1219.0,249.2 1219.4,248.8 1219.8,248.3 1220.2,248.1 1220.6,248.8 1221.0,247.7 1221.4,249.3 1221.8,249.4 1222.2,249.2 1222.6,249.7 1223.0,248.9 1223.4,248.7 1223.8,249.2 1224.2,247.4 1224.6,248.9 1225.0,249.3 1225.4,248.3 1225.8,249.7 1226.2,247.8 1226.6,249.3 1227.0,249.8 1227.4,248.7 1227.8,248.7 1228.2,248.7 1228.6,248.8 1229.0,248.0 1229.4,248.1 1229.8,248.2 1230.2,248.0 1230.6,246.7 1231.0,248.1 1231.4,248.4 1231.8,248.6 1232.2,248.8 1232.6,249.3 1233.0,248.5 1233.4,248.5 1233.8,248.9 1234.2,248.0 1234.6,248.4 1235.0,247.9 1235.4,247.8 1235.8,249.0 1236.2,248.8 1236.2,251.2 1235.8,252.9 1235.4,251.1 1235.0,251.0 1234.6,250.9 1234.2,250.9 1233.8,251.3 1233.4,251.4 1233.0,251.9 1232.6,252.1 1232.2,251.4 1231.8,251.9 1231.4,251.8 1231.0,251.2 1230.6,251.5 1230.2,251.9 1229.8,251.6 1229.4,251.6 1229.0,251.2 1228.6,251.5 1228.2,251.8 1227.8,251.8 1227.4,252.6 1227.0,252.3 1226.6,251.7 1226.2,252.7 1225.8,252.1 1225.4,252.2 1225.0,252.1 1224.6,251.7 1224.2,251.3 1223.8,252.2 1223.4,251.9 1223.0,252.2 1222.6,252.1 1222.2,251.6 1221.8,251.8 1221.4,251.7 1221.0,251.7 1220.6,251.2 1220.2,250.8 1219.8,251.4 1219.4,252.2 1219.0,251.8 1218.6,251.7 1218.2,252.7 1217.8,252.0 1217.4,252.2 1217.0,253.1 1216.6,251.5 1216.2,251.6 1215.8,251.5 1215.4,251.5 1215.0,251.6 1214.6,251.4 1214.2,251.4 1213.8,251.0 1213.4,250.9 1213.0,250.8 1212.6,252.9 1212.2,250.6 1211.8,250.9 1211.4,251.4 1211.0,251.8 1210.6,251.9 1210.2,251.7 1209.8,251.7 1209.4,251.8 1209.0,251.8 1208.6,251.7 1208.2,250.8 1207.8,250.7 1207.4,251.6 1207.0,250.7 1206.6,250.5 1206.2,250.4 1205.8,251.6 1205.4,250.2 1205.0,252.1 1204.6,251.2 1204.2,250.7 1203.8,250.6 1203.4,250.5 1203.0,250.7 1202.6,250.9 1202.2,250.7 1201.8,251.3 1201.4,251.6 1201.0,251.0 1200.6,250.9 1200.2,250.5 1199.8,250.5 1199.4,250.6 1199.0,250.4 1198.6,250.2 1198.2,250.1 1197.8,250.2 1197.4,251.2 1197.0,251.1 1196.6,250.8 1196.2,250.6 1195.8,251.1 1195.4,250.9 1195.0,251.1 1194.6,251.2 1194.2,250.3 1193.8,250.8 1193.4,250.1 1193.0,250.8 1192.6,250.8 1192.2,250.3 1191.8,250.3 1191.4,250.7 1191.0,250.7 1190.6,250.2 1190.2,250.5 1189.8,250.5 1189.4,252.5 1189.0,251.2 1188.6,250.8 1188.2,250.7 1187.8,250.9 1187.4,250.6 1187.0,251.1 1186.6,250.9 1186.2,251.6 1185.8,250.9 1185.4,250.9 1185.0,251.0 1184.6,250.9 1184.2,250.7 1183.8,251.4 1183.4,250.8 1183.0,250.5 1182.6,250.5 1182.2,251.0 1181.8,250.6 1181.4,251.2 1181.0,250.7 1180.6,250.1 1180.2,250.1 1179.8,250.1 1179.4,250.4 1179.0,250.4 1178.6,252.7 1178.2,251.0 1177.8,250.4 1177.4,250.5 1177.0,250.8 1176.6,251.1 1176.2,250.0 1175.8,250.8 1175.4,250.8 1175.0,250.4 1174.6,250.5 1174.2,251.1 1173.8,250.2 1173.4,250.1 1173.0,250.3 1172.6,250.7 1172.2,250.2 1171.8,250.4 1171.4,249.5 1171.0,250.6 1170.6,251.0 1170.2,250.7 1169.8,249.7 1169.4,250.0 1169.0,249.6 1168.6,249.3 1168.2,249.3 1167.8,249.4 1167.4,251.5 1167.0,249.7 1166.6,250.4 1166.2,250.1 1165.8,250.3 1165.4,250.4 1165.0,249.8 1164.6,250.1 1164.2,249.6 1163.8,249.8 1163.4,249.8 1163.0,250.3 1162.6,249.7 1162.2,249.8 1161.8,250.2 1161.4,250.2 1161.0,250.6 1160.6,249.6 1160.2,250.0 1159.8,250.5 1159.4,249.8 1159.0,251.1 1158.6,249.8 1158.2,250.5 1157.8,249.8 1157.4,249.5 1157.0,250.0 1156.6,250.0 1156.2,250.3 1155.8,249.9 1155.4,249.5 1155.0,249.7 1154.6,250.7 1154.2,250.3 1153.8,250.6 1153.4,250.3 1153.0,250.6 1152.6,250.9 1152.2,251.0 1151.8,250.9 1151.4,250.1 1151.0,250.2 1150.6,249.8 1150.2,249.6 1149.8,250.4 1149.4,249.3 1149.0,249.7 1148.6,249.7 1148.2,250.6 1147.8,250.7 1147.4,250.7 1147.0,250.5 1146.6,250.0 1146.2,250.0 1145.8,249.7 1145.4,250.6 1145.0,249.8 1144.6,249.9 1144.2,250.6 1143.8,249.9 1143.4,250.4 1143.0,250.6 1142.6,250.2 1142.2,251.4 1141.8,251.3 1141.4,250.6 1141.0,250.8 1140.6,250.3 1140.2,250.9 1139.8,250.3 1139.4,250.1 1139.0,250.2 1138.6,250.3 1138.2,251.2 1137.8,250.2 1137.4,250.1 1137.0,250.8 1136.6,250.5 1136.2,250.7 1135.8,250.3 1135.4,250.7 1135.0,249.9 1134.6,251.2 1134.2,250.3 1133.8,249.9 1133.4,249.6 1133.0,249.4 1132.6,249.9 1132.2,250.1 1131.8,249.8 1131.4,249.7 1131.0,249.8 1130.6,250.5 1130.2,250.7 1129.8,249.7 1129.4,250.3 1129.0,249.4 1128.6,251.3 1128.2,249.9 1127.8,250.4 1127.4,249.7 1127.0,250.6 1126.6,250.1 1126.2,250.0 1125.8,249.8 1125.4,250.8 1125.0,250.7 1124.6,250.7 1124.2,250.3 1123.8,250.0 1123.4,250.8 1123.0,249.9 1122.6,249.6 1122.2,250.7 1121.8,249.9 1121.4,250.1 1121.0,250.2 1120.6,249.7 1120.2,250.2 1119.8,249.7 1119.4,250.1 1119.0,250.4 1118.6,250.8 1118.2,250.4 1117.8,250.7 1117.4,250.0 1117.0,250.2 1116.6,250.7 1116.2,250.0 1115.8,250.4 1115.4,250.3 1115.0,249.9 1114.6,250.2 1114.2,250.4 1113.8,249.2 1113.4,251.6 1113.0,249.3 1112.6,250.4 1112.2,249.4 1111.8,250.4 1111.4,249.3 1111.0,249.5 1110.6,249.2 1110.2,250.2 1109.8,250.5 1109.4,250.7 1109.0,250.5 1108.6,250.1 1108.2,249.3 1107.8,249.2 1107.4,249.5 1107.0,249.3 1106.6,249.7 1106.2,249.4 1105.8,250.3 1105.4,250.0 1105.0,251.1 1104.6,250.4 1104.2,250.5 1103.8,250.3 1103.4,250.1 1103.0,250.0 1102.6,250.4 1102.2,250.0 1101.8,249.1 1101.4,249.5 1101.0,249.1 1100.6,249.1 1100.2,249.8 1099.8,249.8 1099.4,250.2 1099.0,251.6 1098.6,250.0 1098.2,250.3 1097.8,249.5 1097.4,250.0 1097.0,250.0 1096.6,249.7 1096.2,250.8 1095.8,250.1 1095.4,250.2 1095.0,249.6 1094.6,250.8 1094.2,249.5 1093.8,249.5 1093.4,250.3 1093.0,250.0 1092.6,250.4 1092.2,249.9 1091.8,249.7 1091.4,250.2 1091.0,249.7 1090.6,249.9 1090.2,249.9 1089.8,249.4 1089.4,250.0 1089.0,250.1 1088.6,250.6 1088.2,249.7 1087.8,249.9 1087.4,250.8 1087.0,249.8 1086.6,250.1 1086.2,250.5 1085.8,250.5 1085.4,250.2 1085.0,249.3 1084.6,249.5 1084.2,249.3 1083.8,249.2 1083.4,249.7 1083.0,249.7 1082.6,249.8 1082.2,250.5 1081.8,250.6 1081.4,250.1 1081.0,250.4 1080.6,249.9 1080.2,250.2 1079.8,249.8 1079.4,249.9 1079.0,250.8 1078.6,250.3 1078.2,249.4 1077.8,250.4 1077.4,250.5 1077.0,249.4 1076.6,250.3 1076.2,250.2 1075.8,249.7 1075.4,249.4 1075.0,250.4 1074.6,250.1 1074.2,250.3 1073.8,250.4 1073.4,249.9 1073.0,251.1 1072.6,249.8 1072.2,249.6 1071.8,250.2 1071.4,250.4 1071.0,250.4 1070.6,250.0 1070.2,250.1 1069.8,250.7 1069.4,251.1 1069.0,249.6 1068.6,250.6 1068.2,250.3 1067.8,249.7 1067.4,249.9 1067.0,251.1 1066.6,250.0 1066.2,250.9 1065.8,250.3 1065.4,250.4 1065.0,249.9 1064.6,251.0 1064.2,251.0 1063.8,250.9 1063.4,250.1 1063.0,250.9 1062.6,250.8 1062.2,250.2 1061.8,250.7 1061.4,252.0 1061.0,251.2 1060.6,250.6 1060.2,250.9 1059.8,250.1 1059.4,250.8 1059.0,250.7 1058.6,250.9 1058.2,249.8 1057.8,250.6 1057.4,250.6 1057.0,250.8 1056.6,250.4 1056.2,250.3 1055.8,250.5 1055.4,250.9 1055.0,250.9 1054.6,250.6 1054.2,250.1 1053.8,250.4 1053.4,250.7 1053.0,251.0 1052.6,249.5 1052.2,250.2 1051.8,250.4 1051.4,249.8 1051.0,250.2 1050.6,250.3 1050.2,250.2 1049.8,249.9 1049.4,250.5 1049.0,249.2 1048.6,249.9 1048.2,250.5 1047.8,250.2 1047.4,250.0 1047.0,250.0 1046.6,249.2 1046.2,250.0 1045.8,249.9 1045.4,250.4 1045.0,249.1 1044.6,249.4 1044.2,250.0 1043.8,249.2 1043.4,248.8 1043.0,250.0 1042.6,248.9 1042.2,249.0 1041.8,250.1 1041.4,248.9 1041.0,249.9 1040.6,249.6 1040.2,249.3 1039.8,250.1 1039.4,250.2 1039.0,249.6 1038.6,249.7 1038.2,249.5 1037.8,249.6 1037.4,250.2 1037.0,249.3 1036.6,249.0 1036.2,249.0 1035.8,249.2 1035.4,249.4 1035.0,249.8 1034.6,250.1 1034.2,250.0 1033.8,249.4 1033.4,248.8 1033.0,248.6 1032.6,249.3 1032.2,249.2 1031.8,250.0 1031.4,249.6 1031.0,250.0 1030.6,249.3 1030.2,250.5 1029.8,249.7 1029.4,249.9 1029.0,249.0 1028.6,249.6 1028.2,250.2 1027.8,249.9 1027.4,250.4 1027.0,250.6 1026.6,249.6 1026.2,250.1 1025.8,251.2 1025.4,250.3 1025.0,249.7 1024.6,250.4 1024.2,250.5 1023.8,250.2 1023.4,250.5 1023.0,249.8 1022.6,250.0 1022.2,249.5 1021.8,249.9 1021.4,249.6 1021.0,250.0 1020.6,250.6 1020.2,250.4 1019.8,250.2 1019.4,250.2 1019.0,250.0 1018.6,249.7 1018.2,249.0 1017.8,249.0 1017.4,249.6 1017.0,249.9 1016.6,249.4 1016.2,249.4 1015.8,248.8 1015.4,250.1 1015.0,250.0 1014.6,249.8 1014.2,249.2 1013.8,248.5 1013.4,249.2 1013.0,249.4 1012.6,249.4 1012.2,248.8 1011.8,249.8 1011.4,249.8 1011.0,248.7 1010.6,248.2 1010.2,249.4 1009.8,249.5 1009.4,249.8 1009.0,248.7 1008.6,249.0 1008.2,248.5 1007.8,248.6 1007.4,248.5 1007.0,249.6 1006.6,249.7 1006.2,249.7 1005.8,249.0 1005.4,249.4 1005.0,248.7 1004.6,248.1 1004.2,248.6 1003.8,248.7 1003.4,248.3 1003.0,248.1 1002.6,248.4 1002.2,247.9 1001.8,249.0 1001.4,248.1 1001.0,247.8 1000.6,247.7 1000.2,248.2 999.8,248.2 999.4,248.3 999.0,249.3 998.6,248.4 998.2,248.6 997.8,247.6 997.4,248.1 997.0,248.7 996.6,247.8 996.2,248.5 995.8,248.5 995.4,248.2 995.0,248.7 994.6,247.5 994.2,247.6 993.8,247.7 993.4,247.3 993.0,248.4 992.6,247.9 992.2,247.8 991.8,248.3 991.4,249.0 991.0,248.0 990.6,247.8 990.2,247.8 989.8,247.7 989.4,247.3 989.0,247.3 988.6,247.5 988.2,248.1 987.8,248.5 987.4,247.9 987.0,247.7 986.6,247.4 986.2,246.9 985.8,248.0 985.4,248.0 985.0,247.2 984.6,247.2 984.2,248.1 983.8,246.8 983.4,247.0 983.0,248.7 982.6,247.2 982.2,247.4 981.8,247.0 981.4,247.5 981.0,247.7 980.6,247.2 980.2,246.7 979.8,246.8 979.4,247.7 979.0,246.7 978.6,246.6 978.2,247.9 977.8,246.4 977.4,246.8 977.0,248.3 976.6,246.5 976.2,246.6 975.8,247.8 975.4,246.8 975.0,247.6 974.6,247.9 974.2,247.5 973.8,248.6 973.4,246.8 973.0,246.7 972.6,246.6 972.2,247.2 971.8,248.0 971.4,247.1 971.0,247.9 970.6,247.1 970.2,246.2 969.8,246.6 969.4,246.6 969.0,247.5 968.6,247.6 968.2,246.5 967.8,246.9 967.4,247.3 967.0,246.9 966.6,247.5 966.2,247.8 965.8,247.6 965.4,247.3 965.0,246.6 964.6,247.5 964.2,247.2 963.8,246.4 963.4,247.4 963.0,247.1 962.6,247.4 962.2,246.5 961.8,246.1 961.4,247.0 961.0,246.2 960.6,245.8 960.2,245.6 959.8,245.6 959.4,245.9" fill="#000" stroke="#000" stroke-width="0.4" stroke-linejoin="round"/>
<polyline points="957.40,243.5 957.55,243.5 957.70,243.5 957.85,243.5 958.00,243.5 958.15,243.4 958.30,243.3 958.45,243.1 958.60,242.8 958.75,242.1 958.90,241.2 959.05,240.0 959.20,238.5 959.35,237.1 959.50,235.9 959.65,235.4 959.70,235.4 959.80,235.6 959.95,236.5 960.10,237.8 960.25,239.4 960.40,240.8 960.55,242.0 960.70,242.9 960.85,243.5 961.00,243.9 961.15,244.1 961.30,244.3 961.45,244.3 961.60,244.4 961.75,244.5 961.90,244.6" fill="none" stroke="#000" stroke-width="1.4" stroke-linejoin="round" stroke-linecap="butt"/>
<polyline points="966.34,244.6 966.49,244.6 966.64,244.6 966.79,244.6 966.94,244.4 967.09,243.8 967.24,242.3 967.39,239.1 967.54,233.5 967.69,226.4 967.84,219.9 967.99,217.0 968.00,217.0 968.14,219.2 968.29,225.4 968.44,232.7 968.59,238.5 968.74,242.0 968.89,243.7 969.04,244.3 969.19,244.5 969.34,244.6 969.49,244.6 969.64,244.6" fill="none" stroke="#000" stroke-width="1.5" stroke-linejoin="round" stroke-linecap="butt"/>
<polyline points="971.84,244.6 971.99,244.6 972.14,244.6 972.29,244.5 972.44,244.3 972.59,243.5 972.74,241.4 972.89,236.7 973.04,228.8 973.19,218.6 973.34,209.3 973.49,205.2 973.50,205.2 973.64,208.4 973.79,217.2 973.94,227.5 974.09,235.9 974.24,240.9 974.39,243.3 974.54,244.2 974.69,244.5 974.84,244.6 974.99,244.6 975.14,244.6" fill="none" stroke="#000" stroke-width="1.5" stroke-linejoin="round" stroke-linecap="butt"/>
<polyline points="972.94,244.6 973.09,244.6 973.24,244.6 973.39,244.6 973.54,244.4 973.69,243.8 973.84,242.3 973.99,239.0 974.14,233.4 974.29,226.2 974.44,219.6 974.59,216.7 974.60,216.7 974.74,219.0 974.89,225.2 975.04,232.5 975.19,238.4 975.34,242.0 975.49,243.7 975.64,244.3 975.79,244.5 975.94,244.6 976.09,244.6 976.24,244.6" fill="none" stroke="#000" stroke-width="1.5" stroke-linejoin="round" stroke-linecap="butt"/>
<polyline points="977.34,244.6 977.49,244.6 977.64,244.6 977.79,244.6 977.94,244.4 978.09,243.9 978.24,242.6 978.39,239.7 978.54,234.7 978.69,228.4 978.84,222.6 978.99,220.0 979.00,220.0 979.14,222.0 979.29,227.5 979.44,234.0 979.59,239.1 979.74,242.3 979.89,243.8 980.04,244.4 980.19,244.5 980.34,244.6 980.49,244.6 980.64,244.6" fill="none" stroke="#000" stroke-width="1.5" stroke-linejoin="round" stroke-linecap="butt"/>
<polyline points="981.74,244.6 981.89,244.6 982.04,244.6 982.19,244.6 982.34,244.5 982.49,244.1 982.64,243.3 982.79,241.3 982.94,238.1 983.09,233.8 983.24,230.0 983.39,228.3 983.40,228.3 983.54,229.6 983.69,233.3 983.84,237.5 983.99,241.0 984.14,243.1 984.29,244.1 984.44,244.4 984.59,244.6 984.74,244.6 984.89,244.6 985.04,244.6" fill="none" stroke="#000" stroke-width="1.4" stroke-linejoin="round" stroke-linecap="butt"/>
<polyline points="985.24,244.6 985.39,244.6 985.54,244.6 985.69,244.6 985.84,244.5 985.99,244.1 986.14,243.0 986.29,240.6 986.44,236.5 986.59,231.3 986.74,226.5 986.89,224.4 986.90,224.4 987.04,226.1 987.19,230.6 987.34,235.9 987.49,240.2 987.64,242.8 987.79,244.1 987.94,244.5 988.09,244.7 988.24,244.7 988.39,244.7 988.54,244.8" fill="none" stroke="#000" stroke-width="1.4" stroke-linejoin="round" stroke-linecap="butt"/>
<polyline points="989.14,244.8 989.29,244.8 989.44,244.8 989.59,244.8 989.74,244.6 989.89,244.1 990.04,242.6 990.19,239.5 990.34,234.2 990.49,227.3 990.64,221.0 990.79,218.2 990.80,218.2 990.94,220.4 991.09,226.3 991.24,233.3 991.39,239.0 991.54,242.4 991.69,244.0 991.84,244.7 991.99,244.8 992.14,244.9 992.29,244.9 992.44,244.9" fill="none" stroke="#000" stroke-width="1.5" stroke-linejoin="round" stroke-linecap="butt"/>
<polyline points="990.80,244.9 990.95,244.9 991.10,244.8 991.25,244.8 991.40,244.6 991.55,244.1 991.70,243.1 991.85,240.9 992.00,236.7 992.15,229.8 992.30,219.4 992.45,205.5 992.60,189.2 992.75,173.0 992.90,160.2 993.05,153.6 993.10,153.1 993.20,154.9 993.35,163.9 993.50,178.3 993.65,194.8 993.80,210.5 993.95,223.3 994.10,232.6 994.25,238.5 994.40,241.9 994.55,243.6 994.70,244.5 994.85,244.8 995.00,245.0 995.15,245.0 995.30,245.0" fill="none" stroke="#000" stroke-width="1.5" stroke-linejoin="round" stroke-linecap="butt"/>
<polyline points="994.04,245.0 994.19,245.0 994.34,245.0 994.49,245.0 994.64,244.9 994.79,244.5 994.94,243.4 995.09,241.0 995.24,237.0 995.39,231.8 995.54,227.1 995.69,225.0 995.70,225.0 995.84,226.6 995.99,231.1 996.14,236.4 996.29,240.6 996.44,243.2 996.59,244.5 996.74,244.9 996.89,245.1 997.04,245.1 997.19,245.1 997.34,245.1" fill="none" stroke="#000" stroke-width="1.4" stroke-linejoin="round" stroke-linecap="butt"/>
<polyline points="998.80,245.2 998.95,245.2 999.10,245.2 999.25,245.1 999.40,244.8 999.55,244.1 999.70,242.4 999.85,238.7 1000.00,231.7 1000.15,220.4 1000.30,204.2 1000.45,184.7 1000.60,165.3 1000.75,150.8 1000.90,145.4 1001.05,150.8 1001.20,165.3 1001.35,184.7 1001.50,204.3 1001.65,220.4 1001.80,231.8 1001.95,238.8 1002.10,242.5 1002.25,244.2 1002.40,245.0 1002.55,245.3 1002.70,245.3 1002.85,245.4 1003.00,245.4" fill="none" stroke="#000" stroke-width="1.5" stroke-linejoin="round" stroke-linecap="butt"/>
<polyline points="1000.94,245.3 1001.09,245.3 1001.24,245.3 1001.39,245.2 1001.54,244.9 1001.69,243.6 1001.84,240.3 1001.99,233.1 1002.14,220.7 1002.29,204.8 1002.44,190.3 1002.59,183.9 1002.60,183.9 1002.74,188.9 1002.89,202.7 1003.04,218.8 1003.19,231.8 1003.34,239.7 1003.49,243.4 1003.64,244.8 1003.79,245.3 1003.94,245.4 1004.09,245.4 1004.24,245.4" fill="none" stroke="#000" stroke-width="1.5" stroke-linejoin="round" stroke-linecap="butt"/>
<polyline points="1003.44,245.4 1003.59,245.4 1003.74,245.4 1003.89,245.4 1004.04,245.3 1004.19,244.8 1004.34,243.5 1004.49,240.7 1004.64,235.9 1004.79,229.8 1004.94,224.2 1005.09,221.7 1005.10,221.7 1005.24,223.6 1005.39,229.0 1005.54,235.2 1005.69,240.2 1005.84,243.3 1005.99,244.8 1006.14,245.3 1006.29,245.5 1006.44,245.5 1006.59,245.5 1006.74,245.6" fill="none" stroke="#000" stroke-width="1.5" stroke-linejoin="round" stroke-linecap="butt"/>
<polyline points="1005.64,245.5 1005.79,245.5 1005.94,245.5 1006.09,245.5 1006.24,245.3 1006.39,244.6 1006.54,242.6 1006.69,238.5 1006.84,231.4 1006.99,222.2 1007.14,213.8 1007.29,210.1 1007.30,210.1 1007.44,213.0 1007.59,220.9 1007.74,230.2 1007.89,237.7 1008.04,242.3 1008.19,244.5 1008.34,245.3 1008.49,245.6 1008.64,245.6 1008.79,245.6 1008.94,245.7" fill="none" stroke="#000" stroke-width="1.5" stroke-linejoin="round" stroke-linecap="butt"/>
<polyline points="1007.34,245.6 1007.49,245.6 1007.64,245.6 1007.79,245.6 1007.94,245.5 1008.09,245.2 1008.24,244.5 1008.39,242.9 1008.54,240.2 1008.69,236.7 1008.84,233.5 1008.99,232.1 1009.00,232.1 1009.14,233.2 1009.29,236.2 1009.44,239.8 1009.59,242.7 1009.74,244.4 1009.89,245.3 1010.04,245.6 1010.19,245.7 1010.34,245.7 1010.49,245.8 1010.64,245.8" fill="none" stroke="#000" stroke-width="1.4" stroke-linejoin="round" stroke-linecap="butt"/>
<polyline points="1011.14,245.8 1011.29,245.9 1011.44,245.9 1011.59,245.9 1011.74,245.8 1011.89,245.6 1012.04,245.1 1012.19,243.9 1012.34,241.7 1012.49,239.0 1012.64,236.5 1012.79,235.4 1012.80,235.4 1012.94,236.3 1013.09,238.7 1013.24,241.5 1013.39,243.8 1013.54,245.2 1013.69,245.8 1013.84,246.1 1013.99,246.2 1014.14,246.2 1014.29,246.3 1014.44,246.3" fill="none" stroke="#000" stroke-width="1.4" stroke-linejoin="round" stroke-linecap="butt"/>
<polyline points="1013.40,246.1 1013.55,246.1 1013.70,246.1 1013.85,245.9 1014.00,245.4 1014.15,243.9 1014.30,240.1 1014.45,232.2 1014.60,217.2 1014.75,192.8 1014.90,158.1 1015.05,116.1 1015.20,74.4 1015.35,43.3 1015.50,31.7 1015.65,43.3 1015.80,74.5 1015.95,116.2 1016.10,158.2 1016.25,193.0 1016.40,217.5 1016.55,232.4 1016.70,240.4 1016.85,244.2 1017.00,245.8 1017.15,246.4 1017.30,246.6 1017.45,246.7 1017.60,246.7" fill="none" stroke="#000" stroke-width="1.5" stroke-linejoin="round" stroke-linecap="butt"/>
<polyline points="1020.90,247.0 1021.05,247.0 1021.20,247.0 1021.35,246.9 1021.50,246.9 1021.65,246.7 1021.80,246.3 1021.95,245.5 1022.10,244.0 1022.25,241.4 1022.40,237.6 1022.55,232.5 1022.70,226.6 1022.85,220.6 1023.00,215.9 1023.15,213.5 1023.20,213.3 1023.30,214.0 1023.45,217.3 1023.60,222.5 1023.75,228.6 1023.90,234.3 1024.05,239.0 1024.20,242.4 1024.35,244.6 1024.50,245.8 1024.65,246.4 1024.80,246.7 1024.95,246.9 1025.10,246.9 1025.25,246.9 1025.40,246.9" fill="none" stroke="#000" stroke-width="1.5" stroke-linejoin="round" stroke-linecap="butt"/>
<polyline points="1023.24,247.0 1023.39,247.0 1023.54,246.9 1023.69,246.9 1023.84,246.6 1023.99,245.6 1024.14,243.0 1024.29,237.4 1024.44,227.9 1024.59,215.6 1024.74,204.4 1024.89,199.4 1024.90,199.4 1025.04,203.3 1025.19,213.9 1025.34,226.4 1025.49,236.4 1025.64,242.5 1025.79,245.4 1025.94,246.5 1026.09,246.8 1026.24,246.9 1026.39,246.9 1026.54,246.9" fill="none" stroke="#000" stroke-width="1.5" stroke-linejoin="round" stroke-linecap="butt"/>
<polyline points="1029.14,246.9 1029.29,246.9 1029.44,246.9 1029.59,246.8 1029.74,246.4 1029.89,245.2 1030.04,241.8 1030.19,234.6 1030.34,222.3 1030.49,206.4 1030.64,191.9 1030.79,185.5 1030.80,185.5 1030.94,190.5 1031.09,204.2 1031.24,220.3 1031.39,233.2 1031.54,241.1 1031.69,244.9 1031.84,246.3 1031.99,246.7 1032.14,246.8 1032.29,246.8 1032.44,246.8" fill="none" stroke="#000" stroke-width="1.5" stroke-linejoin="round" stroke-linecap="butt"/>
<polyline points="1038.74,246.9 1038.89,246.9 1039.04,246.9 1039.19,246.8 1039.34,246.8 1039.49,246.6 1039.64,246.0 1039.79,244.8 1039.94,242.7 1040.09,240.0 1040.24,237.5 1040.39,236.4 1040.40,236.4 1040.54,237.3 1040.69,239.6 1040.84,242.4 1040.99,244.6 1041.14,245.9 1041.29,246.6 1041.44,246.8 1041.59,246.9 1041.74,246.9 1041.89,246.9 1042.04,246.9" fill="none" stroke="#000" stroke-width="1.4" stroke-linejoin="round" stroke-linecap="butt"/>
<polyline points="1045.44,247.0 1045.59,247.0 1045.74,247.0 1045.89,247.0 1046.04,246.9 1046.19,246.8 1046.34,246.3 1046.49,245.2 1046.64,243.4 1046.79,241.1 1046.94,239.0 1047.09,238.1 1047.10,238.1 1047.24,238.8 1047.39,240.8 1047.54,243.2 1047.69,245.1 1047.84,246.2 1047.99,246.8 1048.14,247.0 1048.29,247.0 1048.44,247.1 1048.59,247.1 1048.74,247.1" fill="none" stroke="#000" stroke-width="1.4" stroke-linejoin="round" stroke-linecap="butt"/>
<polyline points="1047.20,247.0 1047.50,247.0 1047.80,247.0 1048.10,247.0 1048.40,247.0 1048.70,247.0 1049.00,247.0 1049.30,246.9 1049.60,246.7 1049.90,246.5 1050.20,246.2 1050.50,245.7 1050.80,245.0 1051.10,244.2 1051.40,243.2 1051.70,242.0 1052.00,240.8 1052.30,239.5 1052.60,238.4 1052.90,237.5 1053.20,236.9 1053.50,236.7 1053.80,236.9 1054.10,237.5 1054.40,238.4 1054.70,239.6 1055.00,240.8 1055.30,242.1 1055.60,243.3 1055.90,244.3 1056.20,245.1 1056.50,245.8 1056.80,246.3 1057.10,246.7 1057.40,246.9 1057.70,247.0 1058.00,247.1 1058.30,247.2 1058.60,247.2 1058.90,247.3 1059.20,247.3 1059.50,247.3 1059.80,247.3" fill="none" stroke="#000" stroke-width="1.4" stroke-linejoin="round" stroke-linecap="butt"/>
<polyline points="1051.50,247.1 1051.65,247.1 1051.80,247.1 1051.95,247.1 1052.10,247.1 1052.25,247.0 1052.40,246.9 1052.55,246.6 1052.70,246.1 1052.85,245.2 1053.00,243.9 1053.15,242.0 1053.30,239.4 1053.45,236.2 1053.60,232.6 1053.75,229.1 1053.90,226.0 1054.05,223.9 1054.20,223.2 1054.35,223.9 1054.50,226.0 1054.65,229.1 1054.80,232.6 1054.95,236.2 1055.10,239.4 1055.25,242.0 1055.40,244.0 1055.55,245.3 1055.70,246.2 1055.85,246.7 1056.00,247.0 1056.15,247.1 1056.30,247.2 1056.45,247.2 1056.60,247.2 1056.75,247.2 1056.90,247.2" fill="none" stroke="#000" stroke-width="1.5" stroke-linejoin="round" stroke-linecap="butt"/>
<polyline points="1062.94,247.3 1063.09,247.3 1063.24,247.3 1063.39,247.2 1063.54,246.9 1063.69,245.9 1063.84,243.2 1063.99,237.3 1064.14,227.3 1064.29,214.4 1064.44,202.6 1064.59,197.4 1064.60,197.4 1064.74,201.5 1064.89,212.6 1065.04,225.7 1065.19,236.2 1065.34,242.6 1065.49,245.6 1065.64,246.8 1065.79,247.1 1065.94,247.2 1066.09,247.2 1066.24,247.2" fill="none" stroke="#000" stroke-width="1.5" stroke-linejoin="round" stroke-linecap="butt"/>
<polyline points="1074.70,247.2 1074.85,247.1 1075.00,247.1 1075.15,247.0 1075.30,246.7 1075.45,245.9 1075.60,243.9 1075.75,239.7 1075.90,231.7 1076.05,218.7 1076.20,200.3 1076.35,178.0 1076.50,155.9 1076.65,139.4 1076.80,133.2 1076.95,139.4 1077.10,155.9 1077.25,178.0 1077.40,200.3 1077.55,218.7 1077.70,231.7 1077.85,239.6 1078.00,243.9 1078.15,245.9 1078.30,246.7 1078.45,247.0 1078.60,247.1 1078.75,247.1 1078.90,247.1" fill="none" stroke="#000" stroke-width="1.5" stroke-linejoin="round" stroke-linecap="butt"/>
<polyline points="1083.34,247.1 1083.49,247.1 1083.64,247.1 1083.79,247.0 1083.94,247.0 1084.09,246.7 1084.24,246.1 1084.39,244.7 1084.54,242.3 1084.69,239.2 1084.84,236.4 1084.99,235.1 1085.00,235.1 1085.14,236.1 1085.29,238.7 1085.44,241.9 1085.59,244.4 1085.74,245.9 1085.89,246.7 1086.04,246.9 1086.19,247.0 1086.34,247.0 1086.49,247.0 1086.64,247.0" fill="none" stroke="#000" stroke-width="1.4" stroke-linejoin="round" stroke-linecap="butt"/>
<polyline points="1088.44,247.0 1088.59,247.0 1088.74,247.0 1088.89,247.0 1089.04,247.0 1089.19,246.9 1089.34,246.6 1089.49,245.9 1089.64,244.9 1089.79,243.5 1089.94,242.3 1090.09,241.7 1090.10,241.7 1090.24,242.1 1090.39,243.3 1090.54,244.7 1090.69,245.8 1090.84,246.5 1090.99,246.8 1091.14,246.9 1091.29,247.0 1091.44,247.0 1091.59,247.0 1091.74,247.0" fill="none" stroke="#000" stroke-width="1.4" stroke-linejoin="round" stroke-linecap="butt"/>
<polyline points="1092.14,247.0 1092.29,247.0 1092.44,247.0 1092.59,247.0 1092.74,246.9 1092.89,246.7 1093.04,246.3 1093.19,245.3 1093.34,243.6 1093.49,241.4 1093.64,239.5 1093.79,238.6 1093.80,238.6 1093.94,239.3 1094.09,241.1 1094.24,243.3 1094.39,245.1 1094.54,246.2 1094.69,246.7 1094.84,246.9 1094.99,246.9 1095.14,246.9 1095.29,246.9 1095.44,246.9" fill="none" stroke="#000" stroke-width="1.4" stroke-linejoin="round" stroke-linecap="butt"/>
<polyline points="1096.54,246.9 1096.69,246.9 1096.84,246.9 1096.99,246.9 1097.14,246.8 1097.29,246.6 1097.44,245.8 1097.59,244.3 1097.74,241.7 1097.89,238.3 1098.04,235.2 1098.19,233.8 1098.20,233.8 1098.34,234.9 1098.49,237.8 1098.64,241.2 1098.79,244.0 1098.94,245.7 1099.09,246.5 1099.24,246.8 1099.39,246.9 1099.54,246.9 1099.69,246.9 1099.84,246.9" fill="none" stroke="#000" stroke-width="1.4" stroke-linejoin="round" stroke-linecap="butt"/>
<polyline points="1100.04,246.9 1100.19,246.9 1100.34,246.9 1100.49,246.9 1100.64,246.9 1100.79,246.7 1100.94,246.4 1101.09,245.8 1101.24,244.7 1101.39,243.2 1101.54,241.9 1101.69,241.3 1101.70,241.3 1101.84,241.8 1101.99,243.0 1102.14,244.5 1102.29,245.6 1102.44,246.4 1102.59,246.7 1102.74,246.8 1102.89,246.9 1103.04,246.9 1103.19,246.9 1103.34,246.9" fill="none" stroke="#000" stroke-width="1.4" stroke-linejoin="round" stroke-linecap="butt"/>
<polyline points="1105.34,246.8 1105.49,246.8 1105.64,246.8 1105.79,246.8 1105.94,246.8 1106.09,246.7 1106.24,246.3 1106.39,245.6 1106.54,244.4 1106.69,242.9 1106.84,241.4 1106.99,240.8 1107.00,240.8 1107.14,241.3 1107.29,242.6 1107.44,244.2 1107.59,245.5 1107.74,246.3 1107.89,246.6 1108.04,246.8 1108.19,246.8 1108.34,246.8 1108.49,246.8 1108.64,246.8" fill="none" stroke="#000" stroke-width="1.4" stroke-linejoin="round" stroke-linecap="butt"/>
<polyline points="1109.34,246.8 1109.49,246.8 1109.64,246.8 1109.79,246.8 1109.94,246.7 1110.09,246.6 1110.24,246.1 1110.39,245.2 1110.54,243.6 1110.69,241.5 1110.84,239.6 1110.99,238.8 1111.00,238.8 1111.14,239.5 1111.29,241.3 1111.44,243.4 1111.59,245.1 1111.74,246.1 1111.89,246.6 1112.04,246.8 1112.19,246.8 1112.34,246.9 1112.49,246.9 1112.64,246.9" fill="none" stroke="#000" stroke-width="1.4" stroke-linejoin="round" stroke-linecap="butt"/>
<polyline points="1113.24,246.9 1113.39,246.9 1113.54,246.9 1113.69,246.9 1113.84,246.8 1113.99,246.6 1114.14,246.2 1114.29,245.1 1114.44,243.2 1114.59,240.8 1114.74,238.7 1114.89,237.7 1114.90,237.7 1115.04,238.5 1115.19,240.5 1115.34,242.9 1115.49,244.9 1115.64,246.1 1115.79,246.7 1115.94,246.9 1116.09,246.9 1116.24,247.0 1116.39,247.0 1116.54,247.0" fill="none" stroke="#000" stroke-width="1.4" stroke-linejoin="round" stroke-linecap="butt"/>
<polyline points="1115.94,247.0 1116.09,247.0 1116.24,247.0 1116.39,247.0 1116.54,246.9 1116.69,246.8 1116.84,246.4 1116.99,245.5 1117.14,244.0 1117.29,242.0 1117.44,240.3 1117.59,239.5 1117.60,239.5 1117.74,240.1 1117.89,241.8 1118.04,243.8 1118.19,245.4 1118.34,246.3 1118.49,246.8 1118.64,247.0 1118.79,247.0 1118.94,247.0 1119.09,247.0 1119.24,247.0" fill="none" stroke="#000" stroke-width="1.4" stroke-linejoin="round" stroke-linecap="butt"/>
<polyline points="1121.80,247.1 1121.95,247.1 1122.10,247.1 1122.25,247.1 1122.40,247.1 1122.55,247.0 1122.70,246.9 1122.85,246.6 1123.00,246.1 1123.15,245.4 1123.30,244.2 1123.45,242.5 1123.60,240.0 1123.75,236.7 1123.90,232.7 1124.05,227.9 1124.20,222.8 1124.35,217.7 1124.50,213.0 1124.65,209.5 1124.80,207.4 1124.90,207.0 1124.95,207.1 1125.10,208.6 1125.25,211.7 1125.40,216.1 1125.55,221.1 1125.70,226.3 1125.85,231.2 1126.00,235.5 1126.15,239.1 1126.30,241.8 1126.45,243.8 1126.60,245.1 1126.75,246.0 1126.90,246.6 1127.05,246.9 1127.20,247.1 1127.35,247.2 1127.50,247.2 1127.65,247.3 1127.80,247.3 1127.95,247.3" fill="none" stroke="#000" stroke-width="1.5" stroke-linejoin="round" stroke-linecap="butt"/>
<polyline points="1124.70,247.2 1124.85,247.2 1125.00,247.2 1125.15,247.1 1125.30,247.0 1125.45,246.7 1125.60,246.0 1125.75,244.5 1125.90,241.7 1126.05,237.0 1126.20,229.9 1126.35,220.5 1126.50,209.4 1126.65,198.4 1126.80,189.7 1126.95,185.2 1127.00,184.9 1127.10,186.1 1127.25,192.2 1127.40,202.0 1127.55,213.2 1127.70,223.9 1127.85,232.6 1128.00,238.8 1128.15,242.9 1128.30,245.2 1128.45,246.4 1128.60,246.9 1128.75,247.2 1128.90,247.3 1129.05,247.3 1129.20,247.3" fill="none" stroke="#000" stroke-width="1.5" stroke-linejoin="round" stroke-linecap="butt"/>
<polyline points="1127.84,247.3 1127.99,247.3 1128.14,247.3 1128.29,247.3 1128.44,247.2 1128.59,247.0 1128.74,246.5 1128.89,245.4 1129.04,243.5 1129.19,241.0 1129.34,238.7 1129.49,237.7 1129.50,237.7 1129.64,238.5 1129.79,240.6 1129.94,243.2 1130.09,245.2 1130.24,246.4 1130.39,247.0 1130.54,247.3 1130.69,247.3 1130.84,247.4 1130.99,247.4 1131.14,247.4" fill="none" stroke="#000" stroke-width="1.4" stroke-linejoin="round" stroke-linecap="butt"/>
<polyline points="1131.74,247.4 1131.89,247.4 1132.04,247.4 1132.19,247.4 1132.34,247.4 1132.49,247.3 1132.64,247.0 1132.79,246.3 1132.94,245.3 1133.09,243.9 1133.24,242.7 1133.39,242.1 1133.40,242.1 1133.54,242.5 1133.69,243.7 1133.84,245.1 1133.99,246.3 1134.14,246.9 1134.29,247.3 1134.44,247.4 1134.59,247.4 1134.74,247.5 1134.89,247.5 1135.04,247.5" fill="none" stroke="#000" stroke-width="1.4" stroke-linejoin="round" stroke-linecap="butt"/>
<polyline points="1136.14,247.5 1136.29,247.5 1136.44,247.5 1136.59,247.5 1136.74,247.5 1136.89,247.4 1137.04,247.1 1137.19,246.4 1137.34,245.4 1137.49,243.9 1137.64,242.7 1137.79,242.1 1137.80,242.1 1137.94,242.5 1138.09,243.8 1138.24,245.2 1138.39,246.3 1138.54,247.1 1138.69,247.4 1138.84,247.5 1138.99,247.6 1139.14,247.6 1139.29,247.6 1139.44,247.6" fill="none" stroke="#000" stroke-width="1.4" stroke-linejoin="round" stroke-linecap="butt"/>
<polyline points="1140.54,247.6 1140.69,247.6 1140.84,247.6 1140.99,247.6 1141.14,247.6 1141.29,247.4 1141.44,247.1 1141.59,246.3 1141.74,245.1 1141.89,243.4 1142.04,242.0 1142.19,241.3 1142.20,241.3 1142.34,241.8 1142.49,243.2 1142.64,244.9 1142.79,246.2 1142.94,247.0 1143.09,247.4 1143.24,247.5 1143.39,247.6 1143.54,247.6 1143.69,247.6 1143.84,247.6" fill="none" stroke="#000" stroke-width="1.4" stroke-linejoin="round" stroke-linecap="butt"/>
<polyline points="1148.90,247.6 1149.05,247.6 1149.20,247.6 1149.35,247.5 1149.50,247.4 1149.65,247.1 1149.80,246.4 1149.95,244.9 1150.10,242.0 1150.25,237.2 1150.40,230.5 1150.55,222.3 1150.70,214.2 1150.85,208.2 1151.00,205.9 1151.15,208.2 1151.30,214.2 1151.45,222.3 1151.60,230.5 1151.75,237.2 1151.90,242.0 1152.05,244.9 1152.20,246.4 1152.35,247.1 1152.50,247.4 1152.65,247.5 1152.80,247.6 1152.95,247.6 1153.10,247.6" fill="none" stroke="#000" stroke-width="1.5" stroke-linejoin="round" stroke-linecap="butt"/>
<polyline points="1146.40,247.6 1146.70,247.6 1147.00,247.6 1147.30,247.6 1147.60,247.6 1147.90,247.5 1148.20,247.4 1148.50,247.2 1148.80,246.9 1149.10,246.4 1149.40,245.7 1149.70,244.7 1150.00,243.5 1150.30,242.2 1150.60,240.9 1150.90,239.7 1151.20,239.0 1151.50,238.7 1151.80,239.0 1152.10,239.7 1152.40,240.9 1152.70,242.2 1153.00,243.5 1153.30,244.7 1153.60,245.7 1153.90,246.4 1154.20,246.9 1154.50,247.2 1154.80,247.4 1155.10,247.5 1155.40,247.6 1155.70,247.6 1156.00,247.6 1156.30,247.6 1156.60,247.6" fill="none" stroke="#000" stroke-width="1.4" stroke-linejoin="round" stroke-linecap="butt"/>
<polyline points="1166.24,247.7 1166.39,247.8 1166.54,247.8 1166.69,247.8 1166.84,247.8 1166.99,247.6 1167.14,247.2 1167.29,246.4 1167.44,244.9 1167.59,242.9 1167.74,241.2 1167.89,240.4 1167.90,240.4 1168.04,241.0 1168.19,242.7 1168.34,244.7 1168.49,246.3 1168.64,247.3 1168.79,247.8 1168.94,248.0 1169.09,248.0 1169.24,248.1 1169.39,248.1 1169.54,248.1" fill="none" stroke="#000" stroke-width="1.4" stroke-linejoin="round" stroke-linecap="butt"/>
<polyline points="1167.90,247.9 1168.05,247.9 1168.20,248.0 1168.35,247.9 1168.50,247.9 1168.65,247.7 1168.80,247.2 1168.95,246.2 1169.10,244.2 1169.25,240.9 1169.40,236.2 1169.55,230.6 1169.70,225.0 1169.85,220.8 1170.00,219.3 1170.15,220.9 1170.30,225.1 1170.45,230.7 1170.60,236.4 1170.75,241.1 1170.90,244.4 1171.05,246.4 1171.20,247.5 1171.35,248.0 1171.50,248.2 1171.65,248.3 1171.80,248.4 1171.95,248.4 1172.10,248.4" fill="none" stroke="#000" stroke-width="1.5" stroke-linejoin="round" stroke-linecap="butt"/>
<polyline points="1168.10,248.0 1168.25,248.0 1168.40,248.0 1168.55,248.0 1168.70,248.0 1168.85,248.0 1169.00,247.9 1169.15,247.8 1169.30,247.5 1169.45,247.1 1169.60,246.3 1169.75,245.3 1169.90,243.9 1170.05,242.1 1170.20,240.2 1170.35,238.3 1170.50,236.6 1170.65,235.5 1170.80,235.1 1170.95,235.5 1171.10,236.7 1171.25,238.4 1171.40,240.3 1171.55,242.3 1171.70,244.1 1171.85,245.5 1172.00,246.6 1172.15,247.4 1172.30,247.8 1172.45,248.1 1172.60,248.3 1172.75,248.4 1172.90,248.5 1173.05,248.5 1173.20,248.5 1173.35,248.5 1173.50,248.6" fill="none" stroke="#000" stroke-width="1.4" stroke-linejoin="round" stroke-linecap="butt"/>
<polyline points="1185.50,249.2 1185.80,249.2 1186.10,249.1 1186.40,249.1 1186.70,249.1 1187.00,249.0 1187.30,248.9 1187.60,248.7 1187.90,248.3 1188.20,247.7 1188.50,246.9 1188.80,246.0 1189.10,245.0 1189.40,244.3 1189.70,243.9 1189.80,243.9 1190.00,244.0 1190.30,244.5 1190.60,245.3 1190.90,246.2 1191.20,247.1 1191.50,247.8 1191.80,248.3 1192.10,248.6 1192.40,248.8 1192.70,248.9 1193.00,248.9 1193.30,249.0 1193.60,249.0 1193.90,249.0" fill="none" stroke="#000" stroke-width="1.4" stroke-linejoin="round" stroke-linecap="butt"/>
<polyline points="1196.64,248.9 1196.79,248.9 1196.94,248.9 1197.09,248.9 1197.24,248.8 1197.39,248.8 1197.54,248.6 1197.69,248.3 1197.84,247.8 1197.99,247.0 1198.14,246.4 1198.29,246.1 1198.30,246.1 1198.44,246.3 1198.59,246.9 1198.74,247.6 1198.89,248.2 1199.04,248.6 1199.19,248.7 1199.34,248.8 1199.49,248.8 1199.64,248.8 1199.79,248.8 1199.94,248.8" fill="none" stroke="#000" stroke-width="1.4" stroke-linejoin="round" stroke-linecap="butt"/>
<polyline points="1201.04,248.9 1201.19,248.9 1201.34,248.9 1201.49,248.9 1201.64,248.9 1201.79,248.8 1201.94,248.5 1202.09,247.9 1202.24,246.9 1202.39,245.6 1202.54,244.4 1202.69,243.9 1202.70,243.9 1202.84,244.3 1202.99,245.5 1203.14,246.8 1203.29,247.9 1203.44,248.6 1203.59,248.9 1203.74,249.1 1203.89,249.1 1204.04,249.1 1204.19,249.1 1204.34,249.1" fill="none" stroke="#000" stroke-width="1.4" stroke-linejoin="round" stroke-linecap="butt"/>
<polyline points="1208.20,249.5 1208.35,249.5 1208.50,249.5 1208.65,249.5 1208.80,249.5 1208.95,249.5 1209.10,249.4 1209.25,249.3 1209.40,249.0 1209.55,248.6 1209.70,247.9 1209.85,246.9 1210.00,245.6 1210.15,243.9 1210.30,242.1 1210.45,240.3 1210.60,238.7 1210.75,237.7 1210.90,237.3 1211.05,237.7 1211.20,238.8 1211.35,240.4 1211.50,242.2 1211.65,244.1 1211.80,245.7 1211.95,247.1 1212.10,248.1 1212.25,248.8 1212.40,249.2 1212.55,249.5 1212.70,249.7 1212.85,249.8 1213.00,249.8 1213.15,249.8 1213.30,249.9 1213.45,249.9 1213.60,249.9" fill="none" stroke="#000" stroke-width="1.4" stroke-linejoin="round" stroke-linecap="butt"/>
<polyline points="1203.00,249.0 1203.30,249.1 1203.60,249.1 1203.90,249.1 1204.20,249.1 1204.50,249.1 1204.80,249.1 1205.10,249.1 1205.40,249.1 1205.70,249.1 1206.00,249.0 1206.30,248.9 1206.60,248.8 1206.90,248.5 1207.20,248.3 1207.50,247.9 1207.80,247.5 1208.10,247.0 1208.40,246.5 1208.70,245.9 1209.00,245.3 1209.30,244.8 1209.60,244.3 1209.90,244.0 1210.20,243.8 1210.50,243.7 1210.80,243.8 1211.10,244.1 1211.40,244.5 1211.70,245.0 1212.00,245.6 1212.30,246.2 1212.60,246.8 1212.90,247.4 1213.20,247.9 1213.50,248.4 1213.80,248.8 1214.10,249.1 1214.40,249.4 1214.70,249.6 1215.00,249.7 1215.30,249.9 1215.60,249.9 1215.90,250.0 1216.20,250.1 1216.50,250.1 1216.80,250.1 1217.10,250.2 1217.40,250.2 1217.70,250.2 1218.00,250.2" fill="none" stroke="#000" stroke-width="1.4" stroke-linejoin="round" stroke-linecap="butt"/>
<polyline points="1218.90,250.3 1219.20,250.3 1219.50,250.4 1219.80,250.4 1220.10,250.4 1220.40,250.4 1220.70,250.3 1221.00,250.3 1221.30,250.2 1221.60,250.2 1221.90,250.0 1222.20,249.9 1222.50,249.7 1222.80,249.4 1223.10,249.1 1223.40,248.7 1223.70,248.3 1224.00,247.9 1224.30,247.6 1224.60,247.3 1224.90,247.1 1225.20,247.0 1225.50,247.1 1225.80,247.2 1226.10,247.5 1226.40,247.8 1226.70,248.2 1227.00,248.6 1227.30,248.9 1227.60,249.2 1227.90,249.5 1228.20,249.7 1228.50,249.8 1228.80,249.9 1229.10,250.0 1229.40,250.0 1229.70,250.0 1230.00,250.0 1230.30,250.0 1230.60,250.0 1230.90,250.0 1231.20,250.0 1231.50,250.0" fill="none" stroke="#000" stroke-width="1.4" stroke-linejoin="round" stroke-linecap="butt"/>
<polyline points="989.62,244.8 989.77,244.8 989.92,244.8 990.07,244.8 990.22,244.8 990.37,244.7 990.52,244.5 990.67,243.9 990.82,243.0 990.97,241.8 991.12,240.7 991.27,240.3 991.42,240.7 991.57,241.8 991.72,243.0 991.87,244.0 992.02,244.5 992.17,244.8 992.32,244.9 992.47,244.9 992.62,244.9 992.77,244.9" fill="none" stroke="#000" stroke-width="1.4" stroke-linejoin="round" stroke-linecap="butt"/>
<polyline points="1044.44,247.0 1044.59,247.0 1044.74,247.0 1044.89,247.0 1045.04,246.9 1045.19,246.7 1045.34,246.1 1045.49,244.9 1045.64,243.0 1045.79,240.8 1045.94,239.3 1046.02,239.1 1046.09,239.3 1046.24,240.8 1046.39,243.0 1046.54,244.9 1046.69,246.1 1046.84,246.7 1046.99,246.9 1047.14,247.0 1047.29,247.0 1047.44,247.0 1047.59,247.0" fill="none" stroke="#000" stroke-width="1.4" stroke-linejoin="round" stroke-linecap="butt"/>
<polyline points="986.85,244.7 987.00,244.7 987.15,244.7 987.30,244.7 987.45,244.7 987.60,244.6 987.75,244.5 987.90,244.2 988.05,243.7 988.20,242.8 988.35,241.6 988.50,240.2 988.65,238.9 988.80,238.0 988.91,237.8 988.95,237.8 989.10,238.4 989.25,239.6 989.40,241.0 989.55,242.4 989.70,243.4 989.85,244.1 990.00,244.5 990.15,244.7 990.30,244.8 990.45,244.8 990.60,244.8 990.75,244.9 990.90,244.9" fill="none" stroke="#000" stroke-width="1.4" stroke-linejoin="round" stroke-linecap="butt"/>
<polyline points="1001.78,245.3 1001.93,245.3 1002.08,245.3 1002.23,245.4 1002.38,245.3 1002.53,245.3 1002.68,245.2 1002.83,245.0 1002.98,244.5 1003.13,243.8 1003.28,242.8 1003.43,241.6 1003.58,240.4 1003.73,239.6 1003.87,239.3 1003.88,239.3 1004.03,239.7 1004.18,240.6 1004.33,241.8 1004.48,243.0 1004.63,244.0 1004.78,244.7 1004.93,245.1 1005.08,245.3 1005.23,245.4 1005.38,245.5 1005.53,245.5 1005.68,245.5 1005.83,245.5" fill="none" stroke="#000" stroke-width="1.4" stroke-linejoin="round" stroke-linecap="butt"/>
<polyline points="1002.15,245.4 1002.30,245.4 1002.45,245.4 1002.60,245.4 1002.75,245.3 1002.90,245.2 1003.05,244.8 1003.20,244.0 1003.35,242.6 1003.50,240.6 1003.65,238.5 1003.80,237.0 1003.90,236.7 1003.95,236.8 1004.10,238.0 1004.25,240.0 1004.40,242.1 1004.55,243.7 1004.70,244.7 1004.85,245.2 1005.00,245.4 1005.15,245.5 1005.30,245.5 1005.45,245.5 1005.60,245.5" fill="none" stroke="#000" stroke-width="1.4" stroke-linejoin="round" stroke-linecap="butt"/>
<polyline points="969.64,244.6 969.79,244.6 969.94,244.6 970.09,244.6 970.24,244.6 970.39,244.4 970.54,244.1 970.69,243.4 970.84,242.2 970.99,241.0 971.14,240.3 971.18,240.3 971.29,240.6 971.44,241.6 971.59,242.8 971.74,243.7 971.89,244.3 972.04,244.5 972.19,244.6 972.34,244.6 972.49,244.6 972.64,244.6" fill="none" stroke="#000" stroke-width="1.4" stroke-linejoin="round" stroke-linecap="butt"/>
<polyline points="1050.55,247.1 1050.70,247.1 1050.85,247.1 1051.00,247.1 1051.15,247.1 1051.30,246.9 1051.45,246.6 1051.60,245.8 1051.75,244.4 1051.90,242.6 1052.05,241.0 1052.20,240.3 1052.21,240.3 1052.35,240.8 1052.50,242.4 1052.65,244.2 1052.80,245.6 1052.95,246.5 1053.10,246.9 1053.25,247.1 1053.40,247.1 1053.55,247.2 1053.70,247.2 1053.85,247.2" fill="none" stroke="#000" stroke-width="1.4" stroke-linejoin="round" stroke-linecap="butt"/>
<polyline points="961.88,244.5 962.03,244.6 962.18,244.6 962.33,244.6 962.48,244.6 962.63,244.5 962.78,244.2 962.93,243.6 963.08,242.5 963.23,241.0 963.38,239.2 963.53,237.8 963.68,237.3 963.83,237.9 963.98,239.3 964.13,241.1 964.28,242.6 964.43,243.6 964.58,244.2 964.73,244.5 964.88,244.6 965.03,244.6 965.18,244.6 965.33,244.6" fill="none" stroke="#000" stroke-width="1.4" stroke-linejoin="round" stroke-linecap="butt"/>
<polyline points="979.30,244.6 979.45,244.6 979.60,244.6 979.75,244.6 979.90,244.6 980.05,244.4 980.20,244.1 980.35,243.4 980.50,242.3 980.65,240.8 980.80,239.6 980.93,239.2 980.95,239.2 981.10,239.8 981.25,241.2 981.40,242.6 981.55,243.6 981.70,244.2 981.85,244.5 982.00,244.6 982.15,244.6 982.30,244.6 982.45,244.6" fill="none" stroke="#000" stroke-width="1.4" stroke-linejoin="round" stroke-linecap="butt"/>
<polyline points="965.65,244.6 965.80,244.6 965.95,244.6 966.10,244.6 966.25,244.6 966.40,244.5 966.55,244.2 966.70,243.7 966.85,242.8 967.00,242.0 967.15,241.7 967.30,242.0 967.45,242.8 967.60,243.6 967.75,244.2 967.90,244.5 968.05,244.6 968.20,244.6 968.35,244.6 968.50,244.6 968.65,244.6" fill="none" stroke="#000" stroke-width="1.4" stroke-linejoin="round" stroke-linecap="butt"/>
<polyline points="1020.11,247.0 1020.26,247.0 1020.41,247.0 1020.56,247.0 1020.71,247.0 1020.86,246.9 1021.01,246.6 1021.16,246.1 1021.31,245.1 1021.46,243.9 1021.61,242.6 1021.76,241.9 1021.81,241.8 1021.91,242.0 1022.06,242.9 1022.21,244.2 1022.36,245.4 1022.51,246.2 1022.66,246.7 1022.81,246.9 1022.96,246.9 1023.11,247.0 1023.26,247.0 1023.41,247.0" fill="none" stroke="#000" stroke-width="1.4" stroke-linejoin="round" stroke-linecap="butt"/>
<polyline points="1004.24,245.4 1004.39,245.5 1004.54,245.5 1004.69,245.5 1004.84,245.4 1004.99,245.3 1005.14,245.0 1005.29,244.2 1005.44,242.9 1005.59,241.2 1005.74,239.5 1005.89,238.6 1005.93,238.5 1006.04,238.9 1006.19,240.2 1006.34,242.0 1006.49,243.6 1006.64,244.7 1006.79,245.2 1006.94,245.5 1007.09,245.5 1007.24,245.6 1007.39,245.6 1007.54,245.6" fill="none" stroke="#000" stroke-width="1.4" stroke-linejoin="round" stroke-linecap="butt"/>
<polyline points="971.12,244.6 971.27,244.6 971.42,244.6 971.57,244.6 971.72,244.6 971.87,244.4 972.02,244.1 972.17,243.5 972.32,242.3 972.47,240.8 972.62,239.1 972.77,238.1 972.84,238.0 972.92,238.1 973.07,239.2 973.22,240.8 973.37,242.4 973.52,243.5 973.67,244.2 973.82,244.4 973.97,244.6 974.12,244.6 974.27,244.6 974.42,244.6" fill="none" stroke="#000" stroke-width="1.4" stroke-linejoin="round" stroke-linecap="butt"/>
<polyline points="1042.37,246.9 1042.52,246.9 1042.67,246.9 1042.82,246.9 1042.97,246.9 1043.12,246.9 1043.27,246.8 1043.42,246.7 1043.57,246.4 1043.72,246.0 1043.87,245.3 1044.02,244.3 1044.17,243.3 1044.32,242.2 1044.47,241.4 1044.62,241.0 1044.66,241.0 1044.77,241.1 1044.92,241.7 1045.07,242.7 1045.22,243.8 1045.37,244.8 1045.52,245.7 1045.67,246.2 1045.82,246.6 1045.97,246.8 1046.12,246.9 1046.27,247.0 1046.42,247.0 1046.57,247.0 1046.72,247.0 1046.87,247.0" fill="none" stroke="#000" stroke-width="1.4" stroke-linejoin="round" stroke-linecap="butt"/>
<polyline points="976.50,244.6 976.65,244.6 976.80,244.6 976.95,244.6 977.10,244.6 977.25,244.5 977.40,244.3 977.55,243.8 977.70,243.0 977.85,241.9 978.00,241.1 978.13,240.8 978.15,240.8 978.30,241.3 978.45,242.2 978.60,243.2 978.75,243.9 978.90,244.3 979.05,244.5 979.20,244.6 979.35,244.6 979.50,244.6 979.65,244.6" fill="none" stroke="#000" stroke-width="1.4" stroke-linejoin="round" stroke-linecap="butt"/>
<polyline points="1055.69,247.2 1055.84,247.2 1055.99,247.2 1056.14,247.2 1056.29,247.2 1056.44,247.1 1056.59,247.0 1056.74,246.6 1056.89,246.0 1057.04,244.9 1057.19,243.5 1057.34,242.0 1057.49,240.7 1057.64,240.1 1057.67,240.1 1057.79,240.4 1057.94,241.5 1058.09,243.0 1058.24,244.5 1058.39,245.7 1058.54,246.5 1058.69,246.9 1058.84,247.1 1058.99,247.2 1059.14,247.3 1059.29,247.3 1059.44,247.3 1059.59,247.3" fill="none" stroke="#000" stroke-width="1.4" stroke-linejoin="round" stroke-linecap="butt"/>
<polyline points="992.69,244.9 992.84,244.9 992.99,245.0 993.14,244.9 993.29,244.9 993.44,244.8 993.59,244.4 993.74,243.7 993.89,242.5 994.04,241.4 994.19,240.8 994.21,240.8 994.34,241.2 994.49,242.3 994.64,243.5 994.79,244.4 994.94,244.8 995.09,245.0 995.24,245.0 995.39,245.1 995.54,245.1 995.69,245.1" fill="none" stroke="#000" stroke-width="1.4" stroke-linejoin="round" stroke-linecap="butt"/>
<polyline points="1037.88,246.8 1038.03,246.8 1038.18,246.8 1038.33,246.8 1038.48,246.8 1038.63,246.8 1038.78,246.7 1038.93,246.6 1039.08,246.3 1039.23,245.9 1039.38,245.2 1039.53,244.3 1039.68,243.3 1039.83,242.3 1039.98,241.6 1040.13,241.2 1040.17,241.2 1040.28,241.3 1040.43,241.9 1040.58,242.8 1040.73,243.9 1040.88,244.9 1041.03,245.6 1041.18,246.2 1041.33,246.5 1041.48,246.7 1041.63,246.8 1041.78,246.9 1041.93,246.9 1042.08,246.9 1042.23,246.9 1042.38,246.9" fill="none" stroke="#000" stroke-width="1.4" stroke-linejoin="round" stroke-linecap="butt"/>
<polyline points="959.90,243.7 960.05,243.8 960.20,243.8 960.35,243.9 960.50,243.9 960.65,243.8 960.80,243.4 960.95,242.6 961.10,241.0 961.25,239.1 961.40,237.6 961.53,237.1 961.55,237.1 961.70,238.0 961.85,239.9 962.00,241.9 962.15,243.3 962.30,244.1 962.45,244.4 962.60,244.6 962.75,244.6 962.90,244.6 963.05,244.6" fill="none" stroke="#000" stroke-width="1.4" stroke-linejoin="round" stroke-linecap="butt"/>
<polyline points="1057.04,247.2 1057.19,247.2 1057.34,247.2 1057.49,247.2 1057.64,247.2 1057.79,247.1 1057.94,246.9 1058.09,246.5 1058.24,245.7 1058.39,244.6 1058.54,243.6 1058.69,243.1 1058.72,243.1 1058.84,243.3 1058.99,244.2 1059.14,245.3 1059.29,246.2 1059.44,246.8 1059.59,247.1 1059.74,247.2 1059.89,247.3 1060.04,247.3 1060.19,247.3 1060.34,247.3" fill="none" stroke="#000" stroke-width="1.4" stroke-linejoin="round" stroke-linecap="butt"/>
<polyline points="1004.83,245.5 1004.98,245.5 1005.13,245.5 1005.28,245.5 1005.43,245.4 1005.58,245.3 1005.73,244.9 1005.88,244.1 1006.03,242.8 1006.18,241.1 1006.33,239.6 1006.46,239.2 1006.48,239.2 1006.63,239.9 1006.78,241.5 1006.93,243.2 1007.08,244.4 1007.23,245.1 1007.38,245.4 1007.53,245.6 1007.68,245.6 1007.83,245.6 1007.98,245.6" fill="none" stroke="#000" stroke-width="1.4" stroke-linejoin="round" stroke-linecap="butt"/>
<polyline points="1030.85,246.9 1031.00,246.9 1031.15,246.9 1031.30,246.8 1031.45,246.8 1031.60,246.6 1031.75,246.0 1031.90,244.7 1032.05,242.7 1032.20,240.4 1032.35,238.9 1032.42,238.7 1032.50,239.0 1032.65,240.6 1032.80,242.9 1032.95,244.9 1033.10,246.1 1033.25,246.6 1033.40,246.8 1033.55,246.8 1033.70,246.8 1033.85,246.8" fill="none" stroke="#000" stroke-width="1.4" stroke-linejoin="round" stroke-linecap="butt"/>
<polyline points="975.75,244.6 975.90,244.6 976.05,244.6 976.20,244.6 976.35,244.5 976.50,244.3 976.65,243.7 976.80,242.5 976.95,240.6 977.10,238.6 977.25,237.4 977.30,237.3 977.40,237.7 977.55,239.4 977.70,241.4 977.85,243.1 978.00,244.0 978.15,244.4 978.30,244.6 978.45,244.6 978.60,244.6 978.75,244.6" fill="none" stroke="#000" stroke-width="1.4" stroke-linejoin="round" stroke-linecap="butt"/>
<polyline points="1025.68,246.9 1025.83,246.9 1025.98,246.9 1026.13,246.9 1026.28,246.9 1026.43,246.9 1026.58,246.8 1026.73,246.5 1026.88,246.2 1027.03,245.5 1027.18,244.5 1027.33,243.3 1027.48,241.9 1027.63,240.7 1027.78,239.8 1027.90,239.6 1027.93,239.6 1028.08,240.1 1028.23,241.1 1028.38,242.5 1028.53,243.8 1028.68,244.9 1028.83,245.8 1028.98,246.3 1029.13,246.6 1029.28,246.8 1029.43,246.8 1029.58,246.9 1029.73,246.9 1029.88,246.9 1030.03,246.9" fill="none" stroke="#000" stroke-width="1.4" stroke-linejoin="round" stroke-linecap="butt"/>
<polyline points="1012.49,246.0 1012.64,246.0 1012.79,246.1 1012.94,246.1 1013.09,246.1 1013.24,245.9 1013.39,245.6 1013.54,244.7 1013.69,243.4 1013.84,241.9 1013.99,240.9 1014.07,240.7 1014.14,240.9 1014.29,242.0 1014.44,243.5 1014.59,244.9 1014.74,245.7 1014.89,246.1 1015.04,246.3 1015.19,246.4 1015.34,246.4 1015.49,246.4" fill="none" stroke="#000" stroke-width="1.4" stroke-linejoin="round" stroke-linecap="butt"/>
<polyline points="984.92,244.6 985.07,244.6 985.22,244.6 985.37,244.6 985.52,244.6 985.67,244.6 985.82,244.5 985.97,244.2 986.12,243.8 986.27,243.1 986.42,242.2 986.57,241.3 986.72,240.7 986.83,240.5 986.87,240.5 987.02,241.0 987.17,241.8 987.32,242.7 987.47,243.5 987.62,244.1 987.77,244.4 987.92,244.6 988.07,244.7 988.22,244.7 988.37,244.7 988.52,244.8 988.67,244.8" fill="none" stroke="#000" stroke-width="1.4" stroke-linejoin="round" stroke-linecap="butt"/>
<polyline points="960.32,243.9 960.47,244.0 960.62,244.0 960.77,244.1 960.92,244.1 961.07,244.2 961.22,244.1 961.37,244.0 961.52,243.8 961.67,243.3 961.82,242.6 961.97,241.6 962.12,240.4 962.27,239.2 962.42,238.3 962.57,237.8 962.61,237.8 962.72,237.9 962.87,238.6 963.02,239.7 963.17,240.9 963.32,242.1 963.47,243.0 963.62,243.7 963.77,244.1 963.92,244.4 964.07,244.5 964.22,244.6 964.37,244.6 964.52,244.6 964.67,244.6 964.82,244.6" fill="none" stroke="#000" stroke-width="1.4" stroke-linejoin="round" stroke-linecap="butt"/>
<polyline points="972.34,244.6 972.49,244.6 972.64,244.6 972.79,244.6 972.94,244.6 973.09,244.5 973.24,244.4 973.39,244.3 973.54,243.9 973.69,243.3 973.84,242.5 973.99,241.3 974.14,240.1 974.29,239.0 974.44,238.2 974.56,238.0 974.59,238.0 974.74,238.5 974.89,239.4 975.04,240.6 975.19,241.9 975.34,242.9 975.49,243.6 975.64,244.1 975.79,244.4 975.94,244.5 976.09,244.6 976.24,244.6 976.39,244.6 976.54,244.6 976.69,244.6" fill="none" stroke="#000" stroke-width="1.4" stroke-linejoin="round" stroke-linecap="butt"/>
<polyline points="980.18,244.6 980.33,244.6 980.48,244.6 980.63,244.6 980.78,244.6 980.93,244.5 981.08,244.4 981.23,244.0 981.38,243.5 981.53,242.5 981.68,241.1 981.83,239.5 981.98,237.9 982.13,236.7 982.26,236.4 982.28,236.4 982.43,236.9 982.58,238.2 982.73,239.8 982.88,241.4 983.03,242.7 983.18,243.6 983.33,244.1 983.48,244.4 983.63,244.5 983.78,244.6 983.93,244.6 984.08,244.6 984.23,244.6" fill="none" stroke="#000" stroke-width="1.4" stroke-linejoin="round" stroke-linecap="butt"/>
<polyline points="1033.62,246.8 1033.77,246.8 1033.92,246.8 1034.07,246.8 1034.22,246.8 1034.37,246.8 1034.52,246.7 1034.67,246.5 1034.82,246.1 1034.97,245.6 1035.12,244.8 1035.27,243.9 1035.42,243.0 1035.57,242.4 1035.68,242.3 1035.72,242.3 1035.87,242.7 1036.02,243.4 1036.17,244.4 1036.32,245.2 1036.47,245.9 1036.62,246.3 1036.77,246.6 1036.92,246.7 1037.07,246.8 1037.22,246.8 1037.37,246.8 1037.52,246.8 1037.67,246.8" fill="none" stroke="#000" stroke-width="1.4" stroke-linejoin="round" stroke-linecap="butt"/>
<polyline points="1037.39,246.8 1037.54,246.8 1037.69,246.8 1037.84,246.8 1037.99,246.8 1038.14,246.7 1038.29,246.5 1038.44,246.1 1038.59,245.3 1038.74,244.0 1038.89,242.4 1039.04,240.7 1039.19,239.3 1039.34,238.8 1039.49,239.3 1039.64,240.7 1039.79,242.4 1039.94,244.1 1040.09,245.3 1040.24,246.1 1040.39,246.6 1040.54,246.8 1040.69,246.9 1040.84,246.9 1040.99,246.9 1041.14,246.9 1041.29,246.9" fill="none" stroke="#000" stroke-width="1.4" stroke-linejoin="round" stroke-linecap="butt"/>
<polyline points="968.02,244.6 968.17,244.6 968.32,244.6 968.47,244.6 968.62,244.6 968.77,244.5 968.92,244.3 969.07,243.8 969.22,242.9 969.37,241.6 969.52,240.1 969.67,238.8 969.82,238.2 969.84,238.2 969.97,238.5 970.12,239.7 970.27,241.2 970.42,242.6 970.57,243.6 970.72,244.2 970.87,244.4 971.02,244.5 971.17,244.6 971.32,244.6 971.47,244.6 971.62,244.6" fill="none" stroke="#000" stroke-width="1.4" stroke-linejoin="round" stroke-linecap="butt"/>
<polyline points="1046.00,247.0 1046.15,247.0 1046.30,247.0 1046.45,247.0 1046.60,247.0 1046.75,247.0 1046.90,246.8 1047.05,246.6 1047.20,246.1 1047.35,245.4 1047.50,244.4 1047.65,243.3 1047.80,242.4 1047.95,241.9 1047.99,241.9 1048.10,242.1 1048.25,242.8 1048.40,243.9 1048.55,245.0 1048.70,245.8 1048.85,246.4 1049.00,246.8 1049.15,247.0 1049.30,247.0 1049.45,247.1 1049.60,247.1 1049.75,247.1 1049.90,247.1" fill="none" stroke="#000" stroke-width="1.4" stroke-linejoin="round" stroke-linecap="butt"/>
<polyline points="1012.11,246.0 1012.26,246.0 1012.41,246.0 1012.56,246.0 1012.71,246.0 1012.86,246.0 1013.01,246.0 1013.16,245.8 1013.31,245.5 1013.46,245.1 1013.61,244.4 1013.76,243.6 1013.91,242.8 1014.06,242.2 1014.19,242.1 1014.21,242.1 1014.36,242.4 1014.51,243.0 1014.66,243.9 1014.81,244.7 1014.96,245.4 1015.11,245.9 1015.26,246.1 1015.41,246.3 1015.56,246.4 1015.71,246.4 1015.86,246.5 1016.01,246.5 1016.16,246.5" fill="none" stroke="#000" stroke-width="1.4" stroke-linejoin="round" stroke-linecap="butt"/>
<polyline points="1003.64,245.4 1003.79,245.4 1003.94,245.4 1004.09,245.4 1004.24,245.4 1004.39,245.3 1004.54,245.1 1004.69,244.7 1004.84,243.9 1004.99,242.6 1005.14,241.1 1005.29,239.8 1005.44,239.1 1005.48,239.1 1005.59,239.3 1005.74,240.4 1005.89,241.9 1006.04,243.3 1006.19,244.3 1006.34,245.0 1006.49,245.3 1006.64,245.5 1006.79,245.5 1006.94,245.6 1007.09,245.6 1007.24,245.6" fill="none" stroke="#000" stroke-width="1.4" stroke-linejoin="round" stroke-linecap="butt"/>
<polyline points="960.99,244.2 961.14,244.2 961.29,244.3 961.44,244.4 961.59,244.4 961.74,244.4 961.89,244.4 962.04,244.3 962.19,243.9 962.34,243.4 962.49,242.6 962.64,241.9 962.79,241.4 962.90,241.3 962.94,241.3 963.09,241.6 963.24,242.3 963.39,243.0 963.54,243.7 963.69,244.1 963.84,244.4 963.99,244.5 964.14,244.6 964.29,244.6 964.44,244.6 964.59,244.6 964.74,244.6" fill="none" stroke="#000" stroke-width="1.4" stroke-linejoin="round" stroke-linecap="butt"/>
<polyline points="999.70,245.2 999.85,245.3 1000.00,245.3 1000.15,245.3 1000.30,245.2 1000.45,245.1 1000.60,244.8 1000.75,244.2 1000.90,243.1 1001.05,241.6 1001.20,240.3 1001.35,239.6 1001.38,239.6 1001.50,239.9 1001.65,241.1 1001.80,242.6 1001.95,243.9 1002.10,244.7 1002.25,245.1 1002.40,245.3 1002.55,245.4 1002.70,245.4 1002.85,245.4 1003.00,245.4" fill="none" stroke="#000" stroke-width="1.4" stroke-linejoin="round" stroke-linecap="butt"/>
<polyline points="1015.35,246.4 1015.50,246.4 1015.65,246.4 1015.80,246.4 1015.95,246.4 1016.10,246.4 1016.25,246.3 1016.40,245.9 1016.55,245.3 1016.70,244.3 1016.85,243.1 1017.00,241.9 1017.15,241.0 1017.26,240.8 1017.30,240.8 1017.45,241.4 1017.60,242.6 1017.75,243.9 1017.90,245.1 1018.05,245.9 1018.20,246.4 1018.35,246.6 1018.50,246.8 1018.65,246.8 1018.80,246.8 1018.95,246.9 1019.10,246.9" fill="none" stroke="#000" stroke-width="1.4" stroke-linejoin="round" stroke-linecap="butt"/>
<polyline points="1019.59,246.9 1019.74,247.0 1019.89,247.0 1020.04,247.0 1020.19,247.0 1020.34,246.9 1020.49,246.7 1020.64,246.4 1020.79,245.7 1020.94,244.7 1021.09,243.2 1021.24,241.5 1021.39,239.8 1021.54,238.6 1021.67,238.3 1021.69,238.3 1021.84,238.9 1021.99,240.3 1022.14,242.1 1022.29,243.7 1022.44,245.1 1022.59,246.0 1022.74,246.5 1022.89,246.8 1023.04,246.9 1023.19,246.9 1023.34,247.0 1023.49,247.0 1023.64,247.0" fill="none" stroke="#000" stroke-width="1.4" stroke-linejoin="round" stroke-linecap="butt"/>
<polyline points="1020.29,247.0 1020.44,247.0 1020.59,247.0 1020.74,247.0 1020.89,246.9 1021.04,246.8 1021.19,246.5 1021.34,245.7 1021.49,244.5 1021.64,242.7 1021.79,241.0 1021.94,239.9 1022.00,239.8 1022.09,240.0 1022.24,241.3 1022.39,243.0 1022.54,244.7 1022.69,245.9 1022.84,246.5 1022.99,246.8 1023.14,246.9 1023.29,246.9 1023.44,247.0 1023.59,247.0" fill="none" stroke="#000" stroke-width="1.4" stroke-linejoin="round" stroke-linecap="butt"/>
<polyline points="1126.12,247.2 1126.27,247.2 1126.42,247.2 1126.57,247.2 1126.72,247.2 1126.87,247.2 1127.02,247.1 1127.17,246.9 1127.32,246.6 1127.47,246.0 1127.62,245.2 1127.77,244.2 1127.92,243.4 1128.07,242.9 1128.15,242.8 1128.22,242.9 1128.37,243.3 1128.52,244.2 1128.67,245.1 1128.82,245.9 1128.97,246.5 1129.12,246.9 1129.27,247.2 1129.42,247.3 1129.57,247.3 1129.72,247.3 1129.87,247.3 1130.02,247.3 1130.17,247.3" fill="none" stroke="#000" stroke-width="1.4" stroke-linejoin="round" stroke-linecap="butt"/>
<polyline points="1078.22,247.1 1078.37,247.1 1078.52,247.1 1078.67,247.1 1078.82,247.1 1078.97,247.0 1079.12,246.7 1079.27,246.1 1079.42,245.0 1079.57,243.4 1079.72,241.7 1079.87,240.4 1080.00,240.0 1080.02,240.0 1080.17,240.7 1080.32,242.2 1080.47,244.0 1080.62,245.4 1080.77,246.3 1080.92,246.8 1081.07,247.0 1081.22,247.1 1081.37,247.1 1081.52,247.1 1081.67,247.1" fill="none" stroke="#000" stroke-width="1.4" stroke-linejoin="round" stroke-linecap="butt"/>
<polyline points="1140.13,247.6 1140.28,247.6 1140.43,247.6 1140.58,247.6 1140.73,247.6 1140.88,247.5 1141.03,247.5 1141.18,247.3 1141.33,246.9 1141.48,246.4 1141.63,245.5 1141.78,244.4 1141.93,243.2 1142.08,242.0 1142.23,241.1 1142.38,240.8 1142.53,241.1 1142.68,241.9 1142.83,243.1 1142.98,244.4 1143.13,245.5 1143.28,246.3 1143.43,246.9 1143.58,247.3 1143.73,247.4 1143.88,247.5 1144.03,247.6 1144.18,247.6 1144.33,247.6 1144.48,247.6 1144.63,247.6" fill="none" stroke="#000" stroke-width="1.4" stroke-linejoin="round" stroke-linecap="butt"/>
<polyline points="1127.27,247.3 1127.42,247.3 1127.57,247.3 1127.72,247.3 1127.87,247.2 1128.02,247.1 1128.17,246.9 1128.32,246.3 1128.47,245.2 1128.62,243.9 1128.77,242.8 1128.92,242.3 1129.07,242.8 1129.22,244.0 1129.37,245.3 1129.52,246.3 1129.67,246.9 1129.82,247.2 1129.97,247.3 1130.12,247.3 1130.27,247.3 1130.42,247.3 1130.57,247.3" fill="none" stroke="#000" stroke-width="1.4" stroke-linejoin="round" stroke-linecap="butt"/>
<polyline points="1138.95,247.6 1139.10,247.6 1139.25,247.6 1139.40,247.6 1139.55,247.6 1139.70,247.6 1139.85,247.5 1140.00,247.4 1140.15,247.3 1140.30,247.0 1140.45,246.6 1140.60,246.0 1140.75,245.4 1140.90,244.8 1141.05,244.3 1141.20,244.1 1141.22,244.1 1141.35,244.2 1141.50,244.6 1141.65,245.2 1141.80,245.9 1141.95,246.4 1142.10,246.9 1142.25,247.2 1142.40,247.4 1142.55,247.5 1142.70,247.6 1142.85,247.6 1143.00,247.6 1143.15,247.6 1143.30,247.6 1143.45,247.6" fill="none" stroke="#000" stroke-width="1.4" stroke-linejoin="round" stroke-linecap="butt"/>
<polyline points="1072.56,247.2 1072.71,247.2 1072.86,247.2 1073.01,247.2 1073.16,247.1 1073.31,247.1 1073.46,246.9 1073.61,246.5 1073.76,245.9 1073.91,244.8 1074.06,243.5 1074.21,242.2 1074.36,241.2 1074.47,241.0 1074.51,241.0 1074.66,241.7 1074.81,242.9 1074.96,244.2 1075.11,245.4 1075.26,246.2 1075.41,246.7 1075.56,247.0 1075.71,247.1 1075.86,247.1 1076.01,247.1 1076.16,247.1 1076.31,247.1" fill="none" stroke="#000" stroke-width="1.4" stroke-linejoin="round" stroke-linecap="butt"/>
<polyline points="1120.49,247.1 1120.64,247.1 1120.79,247.1 1120.94,247.1 1121.09,247.1 1121.24,247.0 1121.39,246.9 1121.54,246.6 1121.69,246.0 1121.84,245.2 1121.99,244.2 1122.14,243.4 1122.29,243.1 1122.44,243.4 1122.59,244.2 1122.74,245.2 1122.89,246.0 1123.04,246.6 1123.19,246.9 1123.34,247.1 1123.49,247.1 1123.64,247.2 1123.79,247.2 1123.94,247.2 1124.09,247.2" fill="none" stroke="#000" stroke-width="1.4" stroke-linejoin="round" stroke-linecap="butt"/>
<polyline points="1110.46,246.8 1110.61,246.8 1110.76,246.8 1110.91,246.8 1111.06,246.8 1111.21,246.7 1111.36,246.6 1111.51,246.2 1111.66,245.6 1111.81,244.5 1111.96,243.1 1112.11,241.6 1112.26,240.4 1112.41,239.9 1112.43,239.9 1112.56,240.2 1112.71,241.3 1112.86,242.8 1113.01,244.3 1113.16,245.4 1113.31,246.2 1113.46,246.6 1113.61,246.8 1113.76,246.9 1113.91,246.9 1114.06,246.9 1114.21,246.9 1114.36,246.9" fill="none" stroke="#000" stroke-width="1.4" stroke-linejoin="round" stroke-linecap="butt"/>
<polyline points="1118.82,247.0 1118.97,247.0 1119.12,247.0 1119.27,247.0 1119.42,247.0 1119.57,247.0 1119.72,246.8 1119.87,246.5 1120.02,245.9 1120.17,245.0 1120.32,244.0 1120.47,243.0 1120.62,242.6 1120.66,242.5 1120.77,242.7 1120.92,243.5 1121.07,244.6 1121.22,245.6 1121.37,246.3 1121.52,246.8 1121.67,247.0 1121.82,247.1 1121.97,247.1 1122.12,247.1 1122.27,247.1 1122.42,247.1" fill="none" stroke="#000" stroke-width="1.4" stroke-linejoin="round" stroke-linecap="butt"/>
<polyline points="1113.69,246.9 1113.84,246.9 1113.99,246.9 1114.14,246.9 1114.29,246.9 1114.44,246.9 1114.59,246.8 1114.74,246.6 1114.89,246.3 1115.04,245.8 1115.19,245.1 1115.34,244.1 1115.49,243.2 1115.64,242.4 1115.79,242.0 1115.83,242.0 1115.94,242.1 1116.09,242.7 1116.24,243.6 1116.39,244.6 1116.54,245.5 1116.69,246.1 1116.84,246.5 1116.99,246.8 1117.14,246.9 1117.29,247.0 1117.44,247.0 1117.59,247.0 1117.74,247.0 1117.89,247.0" fill="none" stroke="#000" stroke-width="1.4" stroke-linejoin="round" stroke-linecap="butt"/>
<polyline points="1134.79,247.5 1134.94,247.5 1135.09,247.5 1135.24,247.5 1135.39,247.5 1135.54,247.4 1135.69,247.3 1135.84,247.1 1135.99,246.7 1136.14,246.0 1136.29,245.2 1136.44,244.5 1136.59,244.2 1136.64,244.1 1136.74,244.3 1136.89,244.8 1137.04,245.6 1137.19,246.3 1137.34,246.9 1137.49,247.2 1137.64,247.4 1137.79,247.5 1137.94,247.5 1138.09,247.5 1138.24,247.6 1138.39,247.6" fill="none" stroke="#000" stroke-width="1.4" stroke-linejoin="round" stroke-linecap="butt"/>
<polyline points="1078.15,247.1 1078.30,247.1 1078.45,247.1 1078.60,247.1 1078.75,247.1 1078.90,247.1 1079.05,247.0 1079.20,246.8 1079.35,246.5 1079.50,245.9 1079.65,245.1 1079.80,244.0 1079.95,242.8 1080.10,241.7 1080.25,241.0 1080.38,240.7 1080.40,240.7 1080.55,241.1 1080.70,242.0 1080.85,243.2 1081.00,244.3 1081.15,245.3 1081.30,246.1 1081.45,246.6 1081.60,246.8 1081.75,247.0 1081.90,247.0 1082.05,247.1 1082.20,247.1 1082.35,247.1 1082.50,247.1" fill="none" stroke="#000" stroke-width="1.4" stroke-linejoin="round" stroke-linecap="butt"/>
<polyline points="1083.97,247.1 1084.12,247.1 1084.27,247.1 1084.42,247.0 1084.57,247.0 1084.72,247.0 1084.87,246.8 1085.02,246.5 1085.17,245.8 1085.32,244.9 1085.47,243.7 1085.62,242.6 1085.77,242.1 1085.81,242.0 1085.92,242.2 1086.07,243.0 1086.22,244.2 1086.37,245.3 1086.52,246.1 1086.67,246.6 1086.82,246.9 1086.97,247.0 1087.12,247.0 1087.27,247.0 1087.42,247.0 1087.57,247.0" fill="none" stroke="#000" stroke-width="1.4" stroke-linejoin="round" stroke-linecap="butt"/>
<polyline points="1103.29,246.9 1103.44,246.9 1103.59,246.9 1103.74,246.9 1103.89,246.8 1104.04,246.8 1104.19,246.6 1104.34,246.3 1104.49,245.6 1104.64,244.7 1104.79,243.5 1104.94,242.2 1105.09,241.4 1105.19,241.3 1105.24,241.3 1105.39,241.9 1105.54,243.1 1105.69,244.3 1105.84,245.4 1105.99,246.1 1106.14,246.5 1106.29,246.7 1106.44,246.8 1106.59,246.8 1106.74,246.8 1106.89,246.8 1107.04,246.8" fill="none" stroke="#000" stroke-width="1.4" stroke-linejoin="round" stroke-linecap="butt"/>
<polyline points="1132.09,247.4 1132.24,247.4 1132.39,247.4 1132.54,247.4 1132.69,247.4 1132.84,247.3 1132.99,247.2 1133.14,246.9 1133.29,246.4 1133.44,245.6 1133.59,244.6 1133.74,243.5 1133.89,242.8 1134.00,242.6 1134.04,242.7 1134.19,243.1 1134.34,244.1 1134.49,245.2 1134.64,246.1 1134.79,246.8 1134.94,247.1 1135.09,247.3 1135.24,247.4 1135.39,247.5 1135.54,247.5 1135.69,247.5 1135.84,247.5" fill="none" stroke="#000" stroke-width="1.4" stroke-linejoin="round" stroke-linecap="butt"/>
<polyline points="1075.15,247.1 1075.30,247.1 1075.45,247.1 1075.60,247.1 1075.75,247.1 1075.90,247.1 1076.05,246.9 1076.20,246.6 1076.35,245.9 1076.50,245.0 1076.65,243.8 1076.80,242.7 1076.95,242.1 1077.02,242.0 1077.10,242.1 1077.25,242.8 1077.40,243.9 1077.55,245.1 1077.70,246.0 1077.85,246.6 1078.00,246.9 1078.15,247.0 1078.30,247.1 1078.45,247.1 1078.60,247.1 1078.75,247.1" fill="none" stroke="#000" stroke-width="1.4" stroke-linejoin="round" stroke-linecap="butt"/>
<polyline points="1143.71,247.6 1143.86,247.6 1144.01,247.6 1144.16,247.6 1144.31,247.6 1144.46,247.4 1144.61,247.1 1144.76,246.4 1144.91,245.3 1145.06,243.7 1145.21,242.1 1145.36,241.2 1145.41,241.1 1145.51,241.3 1145.66,242.5 1145.81,244.1 1145.96,245.6 1146.11,246.7 1146.26,247.2 1146.41,247.5 1146.56,247.6 1146.71,247.6 1146.86,247.6 1147.01,247.6" fill="none" stroke="#000" stroke-width="1.4" stroke-linejoin="round" stroke-linecap="butt"/>
<polyline points="1141.72,247.6 1141.87,247.6 1142.02,247.6 1142.17,247.6 1142.32,247.6 1142.47,247.5 1142.62,247.4 1142.77,247.2 1142.92,246.9 1143.07,246.2 1143.22,245.3 1143.37,244.1 1143.52,242.8 1143.67,241.7 1143.82,240.9 1143.91,240.8 1143.97,240.9 1144.12,241.4 1144.27,242.5 1144.42,243.8 1144.57,245.0 1144.72,246.0 1144.87,246.7 1145.02,247.2 1145.17,247.4 1145.32,247.5 1145.47,247.6 1145.62,247.6 1145.77,247.6 1145.92,247.6 1146.07,247.6" fill="none" stroke="#000" stroke-width="1.4" stroke-linejoin="round" stroke-linecap="butt"/>
<polyline points="1126.44,247.2 1126.59,247.2 1126.74,247.2 1126.89,247.2 1127.04,247.2 1127.19,247.2 1127.34,247.0 1127.49,246.7 1127.64,246.0 1127.79,245.1 1127.94,244.2 1128.09,243.5 1128.19,243.3 1128.24,243.3 1128.39,243.8 1128.54,244.7 1128.69,245.7 1128.84,246.5 1128.99,246.9 1129.14,247.2 1129.29,247.3 1129.44,247.3 1129.59,247.3 1129.74,247.3 1129.89,247.3" fill="none" stroke="#000" stroke-width="1.4" stroke-linejoin="round" stroke-linecap="butt"/>
<polyline points="1067.88,247.2 1068.03,247.2 1068.18,247.2 1068.33,247.2 1068.48,247.2 1068.63,247.1 1068.78,247.0 1068.93,246.8 1069.08,246.4 1069.23,245.7 1069.38,244.7 1069.53,243.5 1069.68,242.3 1069.83,241.3 1069.98,240.9 1070.00,240.8 1070.13,241.1 1070.28,241.9 1070.43,243.1 1070.58,244.3 1070.73,245.4 1070.88,246.2 1071.03,246.7 1071.18,247.0 1071.33,247.1 1071.48,247.2 1071.63,247.2 1071.78,247.2 1071.93,247.2 1072.08,247.2" fill="none" stroke="#000" stroke-width="1.4" stroke-linejoin="round" stroke-linecap="butt"/>
<polyline points="1080.99,247.1 1081.14,247.1 1081.29,247.1 1081.44,247.1 1081.59,247.0 1081.74,246.8 1081.89,246.3 1082.04,245.3 1082.19,243.7 1082.34,242.1 1082.49,241.2 1082.52,241.1 1082.64,241.5 1082.79,243.0 1082.94,244.7 1083.09,246.0 1083.24,246.7 1083.39,246.9 1083.54,247.0 1083.69,247.1 1083.84,247.1 1083.99,247.1" fill="none" stroke="#000" stroke-width="1.4" stroke-linejoin="round" stroke-linecap="butt"/>
<polyline points="1097.84,246.9 1097.99,246.9 1098.14,246.9 1098.29,246.9 1098.44,246.9 1098.59,246.8 1098.74,246.6 1098.89,246.2 1099.04,245.4 1099.19,244.5 1099.34,243.7 1099.49,243.3 1099.64,243.7 1099.79,244.5 1099.94,245.4 1100.09,246.1 1100.24,246.6 1100.39,246.8 1100.54,246.9 1100.69,246.9 1100.84,246.9 1100.99,246.9 1101.14,246.9" fill="none" stroke="#000" stroke-width="1.4" stroke-linejoin="round" stroke-linecap="butt"/>
<polyline points="1115.52,246.9 1115.67,247.0 1115.82,247.0 1115.97,247.0 1116.12,246.9 1116.27,246.9 1116.42,246.8 1116.57,246.5 1116.72,246.0 1116.87,245.3 1117.02,244.1 1117.17,242.7 1117.32,241.2 1117.47,240.0 1117.62,239.4 1117.67,239.4 1117.77,239.6 1117.92,240.5 1118.07,241.8 1118.22,243.3 1118.37,244.6 1118.52,245.6 1118.67,246.3 1118.82,246.7 1118.97,246.9 1119.12,247.0 1119.27,247.0 1119.42,247.0 1119.57,247.1 1119.72,247.1" fill="none" stroke="#000" stroke-width="1.4" stroke-linejoin="round" stroke-linecap="butt"/>
<polyline points="1118.69,247.0 1118.84,247.0 1118.99,247.0 1119.14,247.0 1119.29,247.0 1119.44,246.9 1119.59,246.5 1119.74,245.8 1119.89,244.6 1120.04,243.1 1120.19,242.1 1120.28,241.9 1120.34,242.0 1120.49,242.9 1120.64,244.3 1120.79,245.6 1120.94,246.5 1121.09,246.9 1121.24,247.0 1121.39,247.1 1121.54,247.1 1121.69,247.1 1121.84,247.1" fill="none" stroke="#000" stroke-width="1.4" stroke-linejoin="round" stroke-linecap="butt"/>
<polyline points="1134.69,247.5 1134.84,247.5 1134.99,247.5 1135.14,247.5 1135.29,247.4 1135.44,247.4 1135.59,247.3 1135.74,247.0 1135.89,246.5 1136.04,245.6 1136.19,244.5 1136.34,243.1 1136.49,241.8 1136.64,241.0 1136.74,240.9 1136.79,240.9 1136.94,241.6 1137.09,242.7 1137.24,244.1 1137.39,245.4 1137.54,246.3 1137.69,246.9 1137.84,247.3 1137.99,247.4 1138.14,247.5 1138.29,247.5 1138.44,247.6 1138.59,247.6 1138.74,247.6" fill="none" stroke="#000" stroke-width="1.4" stroke-linejoin="round" stroke-linecap="butt"/>
<polyline points="1078.95,247.1 1079.10,247.1 1079.25,247.1 1079.40,247.1 1079.55,247.1 1079.70,247.0 1079.85,246.7 1080.00,246.2 1080.15,245.3 1080.30,243.9 1080.45,242.5 1080.60,241.6 1080.69,241.4 1080.75,241.4 1080.90,242.2 1081.05,243.6 1081.20,245.0 1081.35,246.0 1081.50,246.6 1081.65,246.9 1081.80,247.0 1081.95,247.1 1082.10,247.1 1082.25,247.1 1082.40,247.1" fill="none" stroke="#000" stroke-width="1.4" stroke-linejoin="round" stroke-linecap="butt"/>
<polyline points="1089.77,247.0 1089.92,247.0 1090.07,247.0 1090.22,247.0 1090.37,247.0 1090.52,246.9 1090.67,246.8 1090.82,246.5 1090.97,246.0 1091.12,245.2 1091.27,244.0 1091.42,242.7 1091.57,241.5 1091.72,240.7 1091.81,240.6 1091.87,240.6 1092.02,241.3 1092.17,242.4 1092.32,243.7 1092.47,244.9 1092.62,245.8 1092.77,246.4 1092.92,246.7 1093.07,246.9 1093.22,246.9 1093.37,247.0 1093.52,247.0 1093.67,247.0 1093.82,247.0" fill="none" stroke="#000" stroke-width="1.4" stroke-linejoin="round" stroke-linecap="butt"/>
<polyline points="1176.09,248.9 1176.24,248.9 1176.39,248.9 1176.54,248.9 1176.69,248.9 1176.84,248.8 1176.99,248.6 1177.14,248.2 1177.29,247.5 1177.44,246.5 1177.59,245.6 1177.74,245.2 1177.75,245.2 1177.89,245.5 1178.04,246.4 1178.19,247.4 1178.34,248.2 1178.49,248.8 1178.64,249.0 1178.79,249.1 1178.94,249.2 1179.09,249.2 1179.24,249.2 1179.39,249.2" fill="none" stroke="#000" stroke-width="1.4" stroke-linejoin="round" stroke-linecap="butt"/>
<polyline points="1224.16,250.2 1224.31,250.2 1224.46,250.2 1224.61,250.2 1224.76,250.2 1224.91,250.1 1225.06,249.9 1225.21,249.5 1225.36,248.7 1225.51,247.9 1225.66,247.2 1225.75,247.1 1225.81,247.1 1225.96,247.7 1226.11,248.5 1226.26,249.3 1226.41,249.8 1226.56,250.0 1226.71,250.1 1226.86,250.1 1227.01,250.1 1227.16,250.1 1227.31,250.1" fill="none" stroke="#000" stroke-width="1.4" stroke-linejoin="round" stroke-linecap="butt"/>
<polyline points="1171.06,248.3 1171.21,248.3 1171.36,248.3 1171.51,248.3 1171.66,248.3 1171.81,248.3 1171.96,248.2 1172.11,247.9 1172.26,247.4 1172.41,246.6 1172.56,245.8 1172.71,245.2 1172.82,245.1 1172.86,245.1 1173.01,245.5 1173.16,246.3 1173.31,247.2 1173.46,247.8 1173.61,248.3 1173.76,248.5 1173.91,248.6 1174.06,248.6 1174.21,248.6 1174.36,248.7 1174.51,248.7" fill="none" stroke="#000" stroke-width="1.4" stroke-linejoin="round" stroke-linecap="butt"/>
<polyline points="1203.46,249.1 1203.61,249.1 1203.76,249.1 1203.91,249.1 1204.06,249.1 1204.21,249.1 1204.36,249.0 1204.51,248.8 1204.66,248.4 1204.81,247.7 1204.96,246.9 1205.11,246.2 1205.26,245.8 1205.33,245.7 1205.41,245.8 1205.56,246.3 1205.71,247.1 1205.86,247.9 1206.01,248.5 1206.16,248.9 1206.31,249.2 1206.46,249.3 1206.61,249.3 1206.76,249.3 1206.91,249.4 1207.06,249.4" fill="none" stroke="#000" stroke-width="1.4" stroke-linejoin="round" stroke-linecap="butt"/>
<polyline points="1210.01,249.6 1210.16,249.6 1210.31,249.6 1210.46,249.6 1210.61,249.6 1210.76,249.6 1210.91,249.5 1211.06,249.2 1211.21,248.7 1211.36,248.1 1211.51,247.5 1211.66,247.1 1211.70,247.1 1211.81,247.3 1211.96,247.8 1212.11,248.5 1212.26,249.1 1212.41,249.5 1212.56,249.7 1212.71,249.8 1212.86,249.8 1213.01,249.8 1213.16,249.9 1213.31,249.9" fill="none" stroke="#000" stroke-width="1.4" stroke-linejoin="round" stroke-linecap="butt"/>
<polyline points="1220.60,250.4 1220.75,250.4 1220.90,250.4 1221.05,250.4 1221.20,250.3 1221.35,250.3 1221.50,250.3 1221.65,250.2 1221.80,250.0 1221.95,249.8 1222.10,249.4 1222.25,248.9 1222.40,248.4 1222.55,247.9 1222.70,247.5 1222.83,247.4 1222.85,247.4 1223.00,247.6 1223.15,247.9 1223.30,248.5 1223.45,249.0 1223.60,249.4 1223.75,249.8 1223.90,250.0 1224.05,250.1 1224.20,250.2 1224.35,250.2 1224.50,250.2 1224.65,250.2 1224.80,250.2 1224.95,250.2" fill="none" stroke="#000" stroke-width="1.4" stroke-linejoin="round" stroke-linecap="butt"/>
<polyline points="1230.36,250.0 1230.51,250.0 1230.66,250.0 1230.81,250.0 1230.96,250.0 1231.11,249.8 1231.26,249.5 1231.41,248.9 1231.56,247.9 1231.71,246.9 1231.86,246.3 1231.90,246.3 1232.01,246.5 1232.16,247.4 1232.31,248.4 1232.46,249.2 1232.61,249.7 1232.76,249.9 1232.91,249.9 1233.06,249.9 1233.21,249.9 1233.36,249.9" fill="none" stroke="#000" stroke-width="1.4" stroke-linejoin="round" stroke-linecap="butt"/>
<polyline points="1174.56,248.7 1174.71,248.7 1174.86,248.7 1175.01,248.7 1175.16,248.7 1175.31,248.6 1175.46,248.4 1175.61,247.9 1175.76,247.1 1175.91,246.1 1176.06,245.1 1176.20,244.8 1176.21,244.8 1176.36,245.3 1176.51,246.2 1176.66,247.3 1176.81,248.1 1176.96,248.6 1177.11,248.9 1177.26,249.0 1177.41,249.0 1177.56,249.0 1177.71,249.0" fill="none" stroke="#000" stroke-width="1.4" stroke-linejoin="round" stroke-linecap="butt"/>
<polyline points="1230.48,250.0 1230.63,250.0 1230.78,250.0 1230.93,250.0 1231.08,250.0 1231.23,250.0 1231.38,249.9 1231.53,249.9 1231.68,249.8 1231.83,249.6 1231.98,249.3 1232.13,249.0 1232.28,248.7 1232.43,248.4 1232.58,248.2 1232.67,248.2 1232.73,248.2 1232.88,248.3 1233.03,248.6 1233.18,248.9 1233.33,249.2 1233.48,249.5 1233.63,249.7 1233.78,249.8 1233.93,249.8 1234.08,249.9 1234.23,249.9 1234.38,249.9 1234.53,249.9 1234.68,249.9 1234.83,249.9" fill="none" stroke="#000" stroke-width="1.4" stroke-linejoin="round" stroke-linecap="butt"/>
<polyline points="1174.36,248.7 1174.51,248.7 1174.66,248.7 1174.81,248.7 1174.96,248.7 1175.11,248.7 1175.26,248.6 1175.41,248.5 1175.56,248.1 1175.71,247.6 1175.86,246.9 1176.01,246.2 1176.16,245.7 1176.27,245.6 1176.31,245.6 1176.46,246.0 1176.61,246.6 1176.76,247.4 1176.91,248.0 1177.06,248.5 1177.21,248.8 1177.36,248.9 1177.51,249.0 1177.66,249.0 1177.81,249.0 1177.96,249.1 1178.11,249.1" fill="none" stroke="#000" stroke-width="1.4" stroke-linejoin="round" stroke-linecap="butt"/>
<polyline points="1152.89,247.6 1153.04,247.6 1153.19,247.6 1153.34,247.6 1153.49,247.6 1153.64,247.5 1153.79,247.4 1153.94,247.2 1154.09,246.8 1154.24,246.2 1154.39,245.3 1154.54,244.4 1154.69,243.6 1154.84,243.2 1154.87,243.2 1154.99,243.4 1155.14,244.0 1155.29,244.9 1155.44,245.9 1155.59,246.6 1155.74,247.1 1155.89,247.4 1156.04,247.5 1156.19,247.6 1156.34,247.6 1156.49,247.6 1156.64,247.6 1156.79,247.6" fill="none" stroke="#000" stroke-width="1.4" stroke-linejoin="round" stroke-linecap="butt"/>
<polyline points="1224.73,250.2 1224.88,250.2 1225.03,250.2 1225.18,250.2 1225.33,250.2 1225.48,250.2 1225.63,250.1 1225.78,250.1 1225.93,249.9 1226.08,249.7 1226.23,249.4 1226.38,249.0 1226.53,248.5 1226.68,248.0 1226.83,247.6 1226.98,247.4 1227.01,247.4 1227.13,247.5 1227.28,247.8 1227.43,248.2 1227.58,248.7 1227.73,249.2 1227.88,249.5 1228.03,249.8 1228.18,249.9 1228.33,250.0 1228.48,250.1 1228.63,250.1 1228.78,250.1 1228.93,250.1 1229.08,250.1 1229.23,250.1" fill="none" stroke="#000" stroke-width="1.4" stroke-linejoin="round" stroke-linecap="butt"/>
<polyline points="1151.83,247.6 1151.98,247.6 1152.13,247.6 1152.28,247.6 1152.43,247.6 1152.58,247.6 1152.73,247.5 1152.88,247.4 1153.03,247.1 1153.18,246.7 1153.33,246.0 1153.48,245.2 1153.63,244.2 1153.78,243.3 1153.93,242.6 1154.08,242.3 1154.09,242.3 1154.23,242.5 1154.38,243.2 1154.53,244.1 1154.68,245.0 1154.83,245.9 1154.98,246.6 1155.13,247.0 1155.28,247.3 1155.43,247.5 1155.58,247.5 1155.73,247.6 1155.88,247.6 1156.03,247.6 1156.18,247.6 1156.33,247.6" fill="none" stroke="#000" stroke-width="1.4" stroke-linejoin="round" stroke-linecap="butt"/>
<polyline points="1189.63,249.1 1189.78,249.1 1189.93,249.1 1190.08,249.0 1190.23,249.0 1190.38,248.9 1190.53,248.7 1190.68,248.3 1190.83,247.5 1190.98,246.5 1191.13,245.4 1191.28,244.7 1191.35,244.6 1191.43,244.7 1191.58,245.4 1191.73,246.5 1191.88,247.5 1192.03,248.3 1192.18,248.7 1192.33,248.9 1192.48,249.0 1192.63,249.0 1192.78,249.0 1192.93,249.0" fill="none" stroke="#000" stroke-width="1.4" stroke-linejoin="round" stroke-linecap="butt"/>
<polyline points="1185.44,249.2 1185.59,249.2 1185.74,249.2 1185.89,249.1 1186.04,249.1 1186.19,249.1 1186.34,249.1 1186.49,249.0 1186.64,248.9 1186.79,248.6 1186.94,248.3 1187.09,247.8 1187.24,247.3 1187.39,246.8 1187.54,246.5 1187.68,246.4 1187.69,246.4 1187.84,246.5 1187.99,246.9 1188.14,247.3 1188.29,247.8 1188.44,248.3 1188.59,248.6 1188.74,248.8 1188.89,249.0 1189.04,249.0 1189.19,249.0 1189.34,249.1 1189.49,249.1 1189.64,249.1 1189.79,249.1" fill="none" stroke="#000" stroke-width="1.4" stroke-linejoin="round" stroke-linecap="butt"/>
<text x="32.2" y="27.0" class="plab">(a)</text>
<text x="477.6" y="27.2" class="plab">(b)</text>
<text x="923.8" y="25.9" class="plab">(c)</text>
<text x="207.8" y="309.5" class="xt">2θ/ °</text>
<text x="653.4" y="309.5" class="xt">2θ/ °</text>
<text x="1098.8" y="309.5" class="xt">2θ/ °</text>
<text transform="translate(15.0,143) rotate(-90)" class="yt">Intensity</text>
<text transform="translate(461.2,143) rotate(-90)" class="yt">Intensity</text>
<text transform="translate(906.3,143) rotate(-90)" class="yt">Intensity</text>
<text x="124.7" y="43.1" class="sym" style="font-size:12px">♣</text>
<text x="140.0" y="149.0" class="sym" style="font-size:12px">♥</text>
<text x="186.1" y="140.2" class="sym" style="font-size:12px">♣</text>
<text x="235.8" y="177.8" class="sym" style="font-size:12px">♥</text>
<text x="235.8" y="186.5" class="sym" style="font-size:12px">♣</text>
<text x="260.5" y="190.8" class="sym" style="font-size:12px">♥</text>
<text x="279.4" y="221.0" class="sym" style="font-size:12px">♣</text>
<text x="537.0" y="187.8" class="sym" style="font-size:12px">♥</text>
<text x="558.8" y="55.8" class="sym" style="font-size:12px">♣</text>
<text x="574.6" y="171.0" class="sym" style="font-size:12px">♥</text>
<text x="607.9" y="102.1" class="sym" style="font-size:12px">♦</text>
<text x="620.2" y="186.5" class="sym" style="font-size:12px">♣</text>
<text x="670.4" y="187.7" class="sym" style="font-size:12px">♦</text>
<text x="713.9" y="198.5" class="sym" style="font-size:12px">♥</text>
<text x="1000.8" y="142.8" class="sym" style="font-size:12px">♦</text>
<text x="1015.0" y="28.0" class="sym" style="font-size:12px">♣</text>
<text x="1025.5" y="197.1" class="sym" style="font-size:12px">♥</text>
<text x="1030.8" y="183.2" class="sym" style="font-size:12px">♦</text>
<text x="1076.8" y="129.7" class="sym" style="font-size:12px">♣</text>
<text x="1127.0" y="182.3" class="sym" style="font-size:12px">♣</text>
<text x="1151.0" y="202.8" class="sym" style="font-size:12px">♦</text>
<text x="1169.7" y="216.5" class="sym" style="font-size:12px">♣</text>
<text x="288.0" y="39.8" class="sym" style="font-size:20px">♣</text>
<text x="288.5" y="65.4" class="sym" style="font-size:21.5px">♥</text>
<text x="309.1" y="39.3" class="lgb">Perovskite</text>
<text x="309.1" y="61.9" class="lgb">Spinel</text>
<text x="720.7" y="47.0" class="sym" style="font-size:20px">♣</text>
<text x="721.0" y="71.2" class="sym" style="font-size:20px">♦</text>
<text x="721.4" y="97.4" class="sym" style="font-size:21.5px">♥</text>
<text x="747.2" y="46.1" class="lg">Perovskite</text>
<text x="747.2" y="68.7" class="lg">Pyroxene</text>
<text x="749.3" y="94.6" class="lg">Spinel</text>
<text x="1172.2" y="43.8" class="sym" style="font-size:20px">♣</text>
<text x="1172.7" y="68.5" class="sym" style="font-size:20px">♦</text>
<text x="1172.6" y="95.1" class="sym" style="font-size:21.5px">♥</text>
<text x="1199" y="42.6" class="lg">Perovskite</text>
<text x="1199" y="65.8" class="lg">Pyroxene</text>
<text x="1201.1" y="91.4" class="lg">Spinel</text>
</svg>
<div class="cap" id="c1" style="left:287px;top:337px;font-size:24px;font-weight:500;">（a）温度为 1 300 ℃；（b）温度为 1 200 ℃；（c）温度为 1 100 ℃</div>
<div class="cap" id="c2" style="left:448px;top:380px;font-size:24px;font-weight:500;">图 3&nbsp;&nbsp;不同温度下含钛高炉渣矿物组成</div>
<div class="cap" id="c3" style="left:163px;top:422px;font-size:24px;font-weight:bold;">Fig. 3 Mineral composition of titanium-containing blast furnace slag at different temperatures</div>
</body></html>
